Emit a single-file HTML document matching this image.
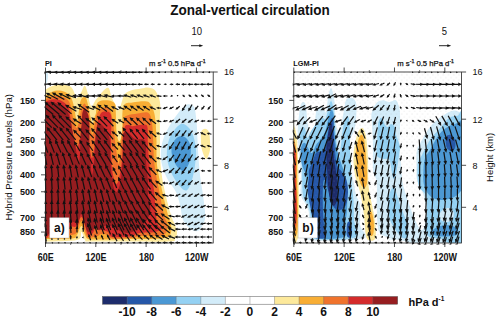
<!DOCTYPE html>
<html><head><meta charset="utf-8"><style>html,body{margin:0;padding:0;background:#fff;overflow:hidden}svg{display:block}</style></head>
<body><svg width="500" height="321" viewBox="0 0 500 321" font-family="'Liberation Sans', sans-serif" fill="#111">
<rect width="500" height="321" fill="#fff"/>
<defs>
<clipPath id="ca"><rect x="45.5" y="72.0" width="167.70" height="171.0"/></clipPath>
<clipPath id="cb"><rect x="293.8" y="72.0" width="167.80" height="171.0"/></clipPath>
<pattern id="stip" patternUnits="userSpaceOnUse" x="292.5" y="69.1" width="5.2" height="5.6"><circle cx="0" cy="0" r="0.42" fill="#999"/><circle cx="5.2" cy="0" r="0.42" fill="#999"/><circle cx="0" cy="5.6" r="0.42" fill="#999"/><circle cx="5.2" cy="5.6" r="0.42" fill="#999"/><circle cx="2.6" cy="2.9" r="0.42" fill="#999"/></pattern>
<clipPath id="cax"><rect x="44.5" y="70.5" width="169.70" height="174.0"/></clipPath>
<clipPath id="cbx"><rect x="292.8" y="70.5" width="169.80" height="174.0"/></clipPath>
</defs>
<g clip-path="url(#ca)">
<path d="M40.00 90.50 C40.67 65.33 42.27 91.13 44.00 90.50 C45.73 89.87 48.27 87.65 50.40 86.70 C52.53 85.75 54.45 85.12 56.80 84.80 C59.15 84.48 62.05 84.37 64.50 84.80 C66.95 85.23 69.80 85.90 71.50 87.40 C73.20 88.90 73.85 92.00 74.70 93.80 C75.55 95.60 75.53 98.42 76.60 98.20 C77.67 97.98 79.92 94.42 81.10 92.50 C82.28 90.58 83.02 87.77 83.70 86.70 C84.38 85.63 84.57 85.13 85.20 86.10 C85.83 87.07 86.80 89.95 87.50 92.50 C88.20 95.05 88.68 99.07 89.40 101.40 C90.12 103.73 90.87 106.57 91.80 106.50 C92.73 106.43 94.00 102.48 95.00 101.00 C96.00 99.52 96.48 99.23 97.80 97.60 C99.12 95.97 101.12 92.80 102.90 91.20 C104.68 89.60 107.03 86.93 108.50 88.00 C109.97 89.07 110.62 94.93 111.70 97.60 C112.78 100.27 113.87 101.85 115.00 104.00 C116.13 106.15 117.35 110.93 118.50 110.50 C119.65 110.07 120.90 104.08 121.90 101.40 C122.90 98.72 123.00 96.20 124.50 94.40 C126.00 92.60 128.13 91.57 130.90 90.60 C133.67 89.63 138.33 89.13 141.10 88.60 C143.87 88.07 145.37 87.28 147.50 87.40 C149.63 87.52 152.18 88.03 153.90 89.30 C155.62 90.57 156.75 92.55 157.80 95.00 C158.85 97.45 159.87 99.83 160.20 104.00 C160.53 108.17 159.83 113.83 159.80 120.00 C159.77 126.17 159.88 133.50 160.00 141.00 C160.12 148.50 159.75 156.83 160.50 165.00 C161.25 173.17 162.75 181.67 164.50 190.00 C166.25 198.33 169.25 209.17 171.00 215.00 C172.75 220.83 174.00 222.00 175.00 225.00 C176.00 228.00 177.00 230.67 177.00 233.00 C177.00 235.33 176.17 237.58 175.00 239.00 C173.83 240.42 177.50 241.08 170.00 241.50 C162.50 241.92 143.33 241.50 130.00 241.50 C116.67 241.50 97.50 241.75 90.00 241.50 C82.50 241.25 86.43 241.58 85.00 240.00 C83.57 238.42 82.73 232.00 81.40 232.00 C80.07 232.00 82.90 238.42 77.00 240.00 C71.10 241.58 52.17 241.25 46.00 241.50 C39.83 241.75 41.00 266.67 40.00 241.50 C39.00 216.33 39.33 115.67 40.00 90.50Z" fill="#fde99b"/>
<path d="M205.00 128.80 C206.28 128.80 208.07 129.97 208.90 132.00 C209.73 134.03 209.82 138.00 210.00 141.00 C210.18 144.00 210.62 147.00 210.00 150.00 C209.38 153.00 207.63 159.00 206.30 159.00 C204.97 159.00 202.88 153.00 202.00 150.00 C201.12 147.00 201.13 144.00 201.00 141.00 C200.87 138.00 200.53 134.03 201.20 132.00 C201.87 129.97 203.72 128.80 205.00 128.80Z" fill="#fde99b"/>
<path d="M40.00 97.60 C40.67 74.03 42.48 98.35 44.00 97.60 C45.52 96.85 46.97 94.27 49.10 93.10 C51.23 91.93 54.23 90.82 56.80 90.60 C59.37 90.38 62.27 90.95 64.50 91.80 C66.73 92.65 68.82 94.00 70.20 95.70 C71.58 97.40 72.05 99.55 72.80 102.00 C73.55 104.45 74.17 107.73 74.70 110.40 C75.23 113.07 75.62 116.23 76.00 118.00 C76.38 119.77 76.67 121.00 77.00 121.00 C77.33 121.00 77.67 119.83 78.00 118.00 C78.33 116.17 78.58 112.83 79.00 110.00 C79.42 107.17 79.75 103.17 80.50 101.00 C81.25 98.83 82.58 97.50 83.50 97.00 C84.42 96.50 85.25 96.67 86.00 98.00 C86.75 99.33 87.42 102.67 88.00 105.00 C88.58 107.33 89.05 109.83 89.50 112.00 C89.95 114.17 90.18 116.00 90.70 118.00 C91.22 120.00 91.95 124.17 92.60 124.00 C93.25 123.83 94.03 118.87 94.60 117.00 C95.17 115.13 95.63 114.97 96.00 112.80 C96.37 110.63 95.85 106.03 96.80 104.00 C97.75 101.97 99.60 101.17 101.70 100.60 C103.80 100.03 107.18 100.03 109.40 100.60 C111.62 101.17 113.93 101.97 115.00 104.00 C116.07 106.03 115.57 108.47 115.80 112.80 C116.03 117.13 116.12 125.80 116.40 130.00 C116.68 134.20 117.02 136.08 117.50 138.00 C117.98 139.92 118.72 141.50 119.30 141.50 C119.88 141.50 120.52 139.92 121.00 138.00 C121.48 136.08 121.80 135.27 122.20 130.00 C122.60 124.73 121.70 110.97 123.40 106.40 C125.10 101.83 128.77 103.45 132.40 102.60 C136.03 101.75 142.22 101.10 145.20 101.30 C148.18 101.50 148.80 101.88 150.30 103.80 C151.80 105.72 153.28 109.27 154.20 112.80 C155.12 116.33 155.42 120.30 155.80 125.00 C156.18 129.70 156.30 134.33 156.50 141.00 C156.70 147.67 156.08 156.83 157.00 165.00 C157.92 173.17 160.17 181.67 162.00 190.00 C163.83 198.33 166.50 209.17 168.00 215.00 C169.50 220.83 170.67 221.67 171.00 225.00 C171.33 228.33 171.83 232.75 170.00 235.00 C168.17 237.25 166.67 237.83 160.00 238.50 C153.33 239.17 138.00 238.83 130.00 239.00 C122.00 239.17 117.33 239.42 112.00 239.50 C106.67 239.58 102.00 239.58 98.00 239.50 C94.00 239.42 90.17 239.75 88.00 239.00 C85.83 238.25 86.10 237.17 85.00 235.00 C83.90 232.83 82.73 226.00 81.40 226.00 C80.07 226.00 78.57 232.92 77.00 235.00 C75.43 237.08 77.50 237.83 72.00 238.50 C66.50 239.17 49.33 238.92 44.00 239.00 C38.67 239.08 40.67 262.57 40.00 239.00 C39.33 215.43 39.33 121.17 40.00 97.60Z" fill="#f8ae35"/>
<path d="M40.00 100.20 C40.67 77.15 42.27 100.73 44.00 100.20 C45.73 99.67 48.27 97.75 50.40 97.00 C52.53 96.25 54.67 95.70 56.80 95.70 C58.93 95.70 61.17 96.05 63.20 97.00 C65.23 97.95 67.62 99.40 69.00 101.40 C70.38 103.40 70.92 106.73 71.50 109.00 C72.08 111.27 72.08 112.83 72.50 115.00 C72.92 117.17 73.33 119.83 74.00 122.00 C74.67 124.17 75.67 128.00 76.50 128.00 C77.33 128.00 78.42 124.00 79.00 122.00 C79.58 120.00 79.67 118.00 80.00 116.00 C80.33 114.00 80.58 111.67 81.00 110.00 C81.42 108.33 81.92 107.08 82.50 106.00 C83.08 104.92 83.88 103.50 84.50 103.50 C85.12 103.50 85.53 104.58 86.20 106.00 C86.87 107.42 87.90 109.33 88.50 112.00 C89.10 114.67 89.38 119.00 89.80 122.00 C90.22 125.00 90.60 127.83 91.00 130.00 C91.40 132.17 91.78 135.00 92.20 135.00 C92.62 135.00 93.03 132.17 93.50 130.00 C93.97 127.83 94.50 124.50 95.00 122.00 C95.50 119.50 95.82 116.97 96.50 115.00 C97.18 113.03 98.02 111.42 99.10 110.20 C100.18 108.98 101.40 108.12 103.00 107.70 C104.60 107.28 107.10 105.78 108.70 107.70 C110.30 109.62 111.55 113.82 112.60 119.20 C113.65 124.58 114.35 134.53 115.00 140.00 C115.65 145.47 116.03 148.67 116.50 152.00 C116.97 155.33 117.47 158.00 117.80 160.00 C118.13 162.00 118.22 164.00 118.50 164.00 C118.78 164.00 119.17 162.33 119.50 160.00 C119.83 157.67 120.17 153.67 120.50 150.00 C120.83 146.33 120.90 143.13 121.50 138.00 C122.10 132.87 123.13 122.97 124.10 119.20 C125.07 115.43 125.07 116.37 127.30 115.40 C129.53 114.43 134.30 113.93 137.50 113.40 C140.70 112.87 144.37 111.87 146.50 112.20 C148.63 112.53 149.33 113.17 150.30 115.40 C151.27 117.63 151.82 121.33 152.30 125.60 C152.78 129.87 152.83 134.43 153.20 141.00 C153.57 147.57 153.53 156.83 154.50 165.00 C155.47 173.17 157.42 181.67 159.00 190.00 C160.58 198.33 162.67 209.50 164.00 215.00 C165.33 220.50 166.67 220.00 167.00 223.00 C167.33 226.00 167.50 230.83 166.00 233.00 C164.50 235.17 161.50 235.58 158.00 236.00 C154.50 236.42 149.67 235.17 145.00 235.50 C140.33 235.83 135.50 237.50 130.00 238.00 C124.50 238.50 115.67 239.00 112.00 238.50 C108.33 238.00 109.83 235.75 108.00 235.00 C106.17 234.25 102.67 233.83 101.00 234.00 C99.33 234.17 99.17 235.50 98.00 236.00 C96.83 236.50 95.67 236.75 94.00 237.00 C92.33 237.25 89.50 238.50 88.00 237.50 C86.50 236.50 86.10 233.75 85.00 231.00 C83.90 228.25 82.73 221.00 81.40 221.00 C80.07 221.00 78.57 228.67 77.00 231.00 C75.43 233.33 77.50 233.75 72.00 235.00 C66.50 236.25 49.33 237.92 44.00 238.50 C38.67 239.08 40.67 261.55 40.00 238.50 C39.33 215.45 39.33 123.25 40.00 100.20Z" fill="#f0732c"/>
<path d="M40.00 102.00 C40.67 79.40 42.05 102.42 44.00 102.00 C45.95 101.58 49.37 99.92 51.70 99.50 C54.03 99.08 55.87 98.97 58.00 99.50 C60.13 100.03 62.67 101.20 64.50 102.70 C66.33 104.20 68.08 106.45 69.00 108.50 C69.92 110.55 69.58 112.25 70.00 115.00 C70.42 117.75 71.00 121.67 71.50 125.00 C72.00 128.33 72.33 132.00 73.00 135.00 C73.67 138.00 74.83 140.72 75.50 143.00 C76.17 145.28 76.42 148.70 77.00 148.70 C77.58 148.70 78.32 145.28 79.00 143.00 C79.68 140.72 80.60 138.00 81.10 135.00 C81.60 132.00 81.68 128.83 82.00 125.00 C82.32 121.17 82.58 114.83 83.00 112.00 C83.42 109.17 83.92 108.00 84.50 108.00 C85.08 108.00 86.00 109.17 86.50 112.00 C87.00 114.83 87.17 120.67 87.50 125.00 C87.83 129.33 88.08 133.83 88.50 138.00 C88.92 142.17 89.42 146.67 90.00 150.00 C90.58 153.33 91.33 158.00 92.00 158.00 C92.67 158.00 93.47 153.33 94.00 150.00 C94.53 146.67 94.70 142.07 95.20 138.00 C95.70 133.93 96.13 129.60 97.00 125.60 C97.87 121.60 98.98 116.35 100.40 114.00 C101.82 111.65 103.80 111.50 105.50 111.50 C107.20 111.50 109.63 111.65 110.60 114.00 C111.57 116.35 111.23 121.10 111.30 125.60 C111.37 130.10 110.97 135.27 111.00 141.00 C111.03 146.73 111.17 154.33 111.50 160.00 C111.83 165.67 112.17 171.00 113.00 175.00 C113.83 179.00 115.42 183.83 116.50 184.00 C117.58 184.17 118.58 180.00 119.50 176.00 C120.42 172.00 121.33 165.83 122.00 160.00 C122.67 154.17 123.05 146.52 123.50 141.00 C123.95 135.48 123.85 129.57 124.70 126.90 C125.55 124.23 127.32 125.12 128.60 125.00 C129.88 124.88 130.70 126.20 132.40 126.20 C134.10 126.20 136.45 125.20 138.80 125.00 C141.15 124.80 145.00 123.83 146.50 125.00 C148.00 126.17 147.58 129.33 147.80 132.00 C148.02 134.67 147.60 136.33 147.80 141.00 C148.00 145.67 148.47 154.33 149.00 160.00 C149.53 165.67 150.17 170.00 151.00 175.00 C151.83 180.00 153.00 182.17 154.00 190.00 C155.00 197.83 155.67 215.67 157.00 222.00 C158.33 228.33 162.33 226.33 162.00 228.00 C161.67 229.67 158.67 231.17 155.00 232.00 C151.33 232.83 144.17 232.25 140.00 233.00 C135.83 233.75 134.67 235.83 130.00 236.50 C125.33 237.17 115.67 237.75 112.00 237.00 C108.33 236.25 109.72 233.17 108.00 232.00 C106.28 230.83 103.37 230.33 101.70 230.00 C100.03 229.67 98.98 230.67 98.00 230.00 C97.02 229.33 96.63 225.50 95.80 226.00 C94.97 226.50 94.30 231.50 93.00 233.00 C91.70 234.50 89.33 236.33 88.00 235.00 C86.67 233.67 86.10 228.00 85.00 225.00 C83.90 222.00 82.73 217.00 81.40 217.00 C80.07 217.00 78.12 223.33 77.00 225.00 C75.88 226.67 75.93 226.67 74.70 227.00 C73.47 227.33 73.72 225.67 69.60 227.00 C65.48 228.33 53.83 233.23 50.00 235.00 C46.17 236.77 48.27 237.17 46.60 237.60 C44.93 238.03 41.10 260.20 40.00 237.60 C38.90 215.00 39.33 124.60 40.00 102.00Z" fill="#d42b2b"/>
<path d="M40.00 104.00 C40.67 82.05 42.27 104.33 44.00 104.00 C45.73 103.67 48.27 102.10 50.40 102.00 C52.53 101.90 54.67 102.53 56.80 103.40 C58.93 104.27 61.58 106.02 63.20 107.20 C64.82 108.38 65.57 109.20 66.50 110.50 C67.43 111.80 68.07 112.95 68.80 115.00 C69.53 117.05 70.13 119.37 70.90 122.80 C71.67 126.23 72.77 132.57 73.40 135.60 C74.03 138.63 74.18 138.10 74.70 141.00 C75.22 143.90 75.85 149.00 76.50 153.00 C77.15 157.00 78.02 165.00 78.60 165.00 C79.18 165.00 79.68 157.90 80.00 153.00 C80.32 148.10 80.25 140.27 80.50 135.60 C80.75 130.93 81.18 128.77 81.50 125.00 C81.82 121.23 81.90 115.58 82.40 113.00 C82.90 110.42 83.73 109.67 84.50 109.50 C85.27 109.33 86.28 110.58 87.00 112.00 C87.72 113.42 88.40 115.00 88.80 118.00 C89.20 121.00 89.28 124.50 89.40 130.00 C89.52 135.50 89.32 145.67 89.50 151.00 C89.68 156.33 90.08 158.00 90.50 162.00 C90.92 166.00 91.42 175.00 92.00 175.00 C92.58 175.00 93.42 167.67 94.00 162.00 C94.58 156.33 95.07 146.67 95.50 141.00 C95.93 135.33 96.02 131.00 96.60 128.00 C97.18 125.00 97.93 123.33 99.00 123.00 C100.07 122.67 101.67 124.50 103.00 126.00 C104.33 127.50 105.83 129.50 107.00 132.00 C108.17 134.50 109.42 136.33 110.00 141.00 C110.58 145.67 110.17 153.50 110.50 160.00 C110.83 166.50 111.08 174.67 112.00 180.00 C112.92 185.33 114.58 191.67 116.00 192.00 C117.42 192.33 119.42 187.33 120.50 182.00 C121.58 176.67 122.12 166.83 122.50 160.00 C122.88 153.17 122.63 145.50 122.80 141.00 C122.97 136.50 122.53 134.33 123.50 133.00 C124.47 131.67 126.68 132.00 128.60 133.00 C130.52 134.00 132.23 137.67 135.00 139.00 C137.77 140.33 143.37 137.50 145.20 141.00 C147.03 144.50 145.53 153.17 146.00 160.00 C146.47 166.83 147.67 176.17 148.00 182.00 C148.33 187.83 147.58 190.50 148.00 195.00 C148.42 199.50 150.50 205.17 150.50 209.00 C150.50 212.83 149.17 215.42 148.00 218.00 C146.83 220.58 145.50 222.50 143.50 224.50 C141.50 226.50 138.58 228.58 136.00 230.00 C133.42 231.42 130.67 232.83 128.00 233.00 C125.33 233.17 122.33 232.00 120.00 231.00 C117.67 230.00 116.67 227.83 114.00 227.00 C111.33 226.17 106.58 225.50 104.00 226.00 C101.42 226.50 99.87 230.83 98.50 230.00 C97.13 229.17 96.72 221.00 95.80 221.00 C94.88 221.00 94.30 228.17 93.00 230.00 C91.70 231.83 89.33 232.83 88.00 232.00 C86.67 231.17 86.10 228.17 85.00 225.00 C83.90 221.83 82.57 213.00 81.40 213.00 C80.23 213.00 78.90 223.33 78.00 225.00 C77.10 226.67 77.33 223.67 76.00 223.00 C74.67 222.33 71.17 221.17 70.00 221.00 C68.83 220.83 72.33 220.00 69.00 222.00 C65.67 224.00 53.73 230.72 50.00 233.00 C46.27 235.28 48.27 235.25 46.60 235.70 C44.93 236.15 41.10 257.65 40.00 235.70 C38.90 213.75 39.33 125.95 40.00 104.00Z" fill="#961d20"/>
<path d="M185.80 105.30 C187.77 103.88 188.55 104.05 190.00 104.50 C191.45 104.95 193.37 104.58 194.50 108.00 C195.63 111.42 196.22 118.00 196.80 125.00 C197.38 132.00 197.47 141.67 198.00 150.00 C198.53 158.33 199.17 167.50 200.00 175.00 C200.83 182.50 202.17 188.83 203.00 195.00 C203.83 201.17 204.75 207.67 205.00 212.00 C205.25 216.33 205.57 217.90 204.50 221.00 C203.43 224.10 200.85 229.22 198.60 230.60 C196.35 231.98 193.55 231.00 191.00 229.30 C188.45 227.60 185.13 224.45 183.30 220.40 C181.47 216.35 181.22 209.73 180.00 205.00 C178.78 200.27 178.00 196.17 176.00 192.00 C174.00 187.83 170.33 184.50 168.00 180.00 C165.67 175.50 163.17 170.00 162.00 165.00 C160.83 160.00 160.67 154.67 161.00 150.00 C161.33 145.33 162.50 141.17 164.00 137.00 C165.50 132.83 167.63 129.00 170.00 125.00 C172.37 121.00 175.57 116.28 178.20 113.00 C180.83 109.72 183.83 106.72 185.80 105.30Z" fill="#d3ecf9"/>
<path d="M44.00 70.00 C44.58 68.00 46.87 70.67 47.50 72.00 C48.13 73.33 47.97 76.17 47.80 78.00 C47.63 79.83 47.13 82.00 46.50 83.00 C45.87 84.00 44.42 86.17 44.00 84.00 C43.58 81.83 43.42 72.00 44.00 70.00Z" fill="#d3ecf9"/>
<path d="M181.00 124.00 C183.50 123.17 186.00 125.17 188.00 127.00 C190.00 128.83 191.67 131.17 193.00 135.00 C194.33 138.83 195.67 145.00 196.00 150.00 C196.33 155.00 195.67 160.00 195.00 165.00 C194.33 170.00 193.17 176.00 192.00 180.00 C190.83 184.00 189.33 187.33 188.00 189.00 C186.67 190.67 185.67 190.83 184.00 190.00 C182.33 189.17 180.17 187.00 178.00 184.00 C175.83 181.00 172.83 176.33 171.00 172.00 C169.17 167.67 167.50 162.83 167.00 158.00 C166.50 153.17 167.00 147.33 168.00 143.00 C169.00 138.67 170.83 135.17 173.00 132.00 C175.17 128.83 178.50 124.83 181.00 124.00Z" fill="#94d1f3"/>
<path d="M181.00 136.00 C183.17 135.67 185.40 137.17 187.00 139.00 C188.60 140.83 190.10 143.50 190.60 147.00 C191.10 150.50 190.77 156.33 190.00 160.00 C189.23 163.67 187.20 167.17 186.00 169.00 C184.80 170.83 184.47 171.67 182.80 171.00 C181.13 170.33 177.88 168.17 176.00 165.00 C174.12 161.83 171.83 156.00 171.50 152.00 C171.17 148.00 172.42 143.67 174.00 141.00 C175.58 138.33 178.83 136.33 181.00 136.00Z" fill="#4b98d4"/>
</g>
<g clip-path="url(#cb)">
<path d="M303.50 238.50 C294.67 234.75 308.58 221.58 309.00 216.00 C309.42 210.42 307.33 208.50 306.00 205.00 C304.67 201.50 301.83 200.00 301.00 195.00 C300.17 190.00 301.23 180.83 301.00 175.00 C300.77 169.17 300.10 165.83 299.60 160.00 C299.10 154.17 298.27 145.83 298.00 140.00 C297.73 134.17 297.58 130.67 298.00 125.00 C298.42 119.33 299.57 109.83 300.50 106.00 C301.43 102.17 302.68 102.00 303.60 102.00 C304.52 102.00 305.43 103.33 306.00 106.00 C306.57 108.67 306.58 114.33 307.00 118.00 C307.42 121.67 307.67 124.83 308.50 128.00 C309.33 131.17 310.92 137.50 312.00 137.00 C313.08 136.50 314.33 129.17 315.00 125.00 C315.67 120.83 315.33 115.00 316.00 112.00 C316.67 109.00 317.83 107.67 319.00 107.00 C320.17 106.33 321.83 107.17 323.00 108.00 C324.17 108.83 325.17 113.67 326.00 112.00 C326.83 110.33 327.17 102.00 328.00 98.00 C328.83 94.00 330.00 88.00 331.00 88.00 C332.00 88.00 333.33 94.33 334.00 98.00 C334.67 101.67 334.67 105.67 335.00 110.00 C335.33 114.33 335.50 120.67 336.00 124.00 C336.50 127.33 337.17 129.67 338.00 130.00 C338.83 130.33 340.00 129.33 341.00 126.00 C342.00 122.67 343.17 114.33 344.00 110.00 C344.83 105.67 345.00 102.05 346.00 100.00 C347.00 97.95 348.67 97.87 350.00 97.70 C351.33 97.53 352.93 97.78 354.00 99.00 C355.07 100.22 356.07 101.50 356.40 105.00 C356.73 108.50 356.40 115.67 356.00 120.00 C355.60 124.33 355.00 127.67 354.00 131.00 C353.00 134.33 350.83 136.83 350.00 140.00 C349.17 143.17 349.00 145.83 349.00 150.00 C349.00 154.17 349.22 159.67 350.00 165.00 C350.78 170.33 352.70 177.00 353.70 182.00 C354.70 187.00 354.95 191.17 356.00 195.00 C357.05 198.83 359.33 200.00 360.00 205.00 C360.67 210.00 359.67 219.42 360.00 225.00 C360.33 230.58 371.42 236.25 362.00 238.50 C352.58 240.75 312.33 242.25 303.50 238.50Z" fill="#d3ecf9"/>
<path d="M371.60 113.00 C372.38 109.28 374.80 104.83 376.70 102.70 C378.60 100.57 380.87 100.32 383.00 100.20 C385.13 100.08 387.33 102.00 389.50 102.00 C391.67 102.00 394.50 99.65 396.00 100.20 C397.50 100.75 397.83 103.17 398.50 105.30 C399.17 107.43 399.75 108.88 400.00 113.00 C400.25 117.12 400.08 124.50 400.00 130.00 C399.92 135.50 399.33 140.17 399.50 146.00 C399.67 151.83 400.50 159.00 401.00 165.00 C401.50 171.00 401.67 177.00 402.50 182.00 C403.33 187.00 404.75 190.83 406.00 195.00 C407.25 199.17 408.33 202.50 410.00 207.00 C411.67 211.50 414.17 218.17 416.00 222.00 C417.83 225.83 419.58 229.33 421.00 230.00 C422.42 230.67 423.67 228.50 424.50 226.00 C425.33 223.50 425.80 218.50 426.00 215.00 C426.20 211.50 426.37 209.17 425.70 205.00 C425.03 200.83 423.45 194.17 422.00 190.00 C420.55 185.83 417.92 184.17 417.00 180.00 C416.08 175.83 416.50 170.00 416.50 165.00 C416.50 160.00 416.08 154.17 417.00 150.00 C417.92 145.83 419.50 144.23 422.00 140.00 C424.50 135.77 428.20 128.87 432.00 124.60 C435.80 120.33 441.17 116.73 444.80 114.40 C448.43 112.07 451.23 111.00 453.80 110.60 C456.37 110.20 458.17 111.77 460.20 112.00 C462.23 112.23 465.03 90.83 466.00 112.00 C466.97 133.17 477.83 217.75 466.00 239.00 C454.17 260.25 407.53 239.67 395.00 239.50 C382.47 239.33 392.97 238.75 390.80 238.00 C388.63 237.25 384.13 236.67 382.00 235.00 C379.87 233.33 378.88 233.00 378.00 228.00 C377.12 223.00 376.92 212.67 376.70 205.00 C376.48 197.33 377.32 187.83 376.70 182.00 C376.08 176.17 373.62 176.00 373.00 170.00 C372.38 164.00 373.17 153.50 373.00 146.00 C372.83 138.50 372.23 130.50 372.00 125.00 C371.77 119.50 370.82 116.72 371.60 113.00Z" fill="#d3ecf9"/>
<path d="M310.00 237.50 C302.58 233.92 310.83 221.42 310.50 216.00 C310.17 210.58 309.25 208.50 308.00 205.00 C306.75 201.50 304.00 200.83 303.00 195.00 C302.00 189.17 302.37 177.50 302.00 170.00 C301.63 162.50 301.13 155.50 300.80 150.00 C300.47 144.50 299.80 140.83 300.00 137.00 C300.20 133.17 301.17 128.33 302.00 127.00 C302.83 125.67 304.08 127.17 305.00 129.00 C305.92 130.83 306.50 137.67 307.50 138.00 C308.50 138.33 309.58 133.33 311.00 131.00 C312.42 128.67 314.58 126.00 316.00 124.00 C317.42 122.00 318.33 120.00 319.50 119.00 C320.67 118.00 322.00 118.00 323.00 118.00 C324.00 118.00 324.67 120.33 325.50 119.00 C326.33 117.67 327.12 113.00 328.00 110.00 C328.88 107.00 329.97 101.67 330.80 101.00 C331.63 100.33 332.38 103.17 333.00 106.00 C333.62 108.83 334.00 113.17 334.50 118.00 C335.00 122.83 335.33 128.00 336.00 135.00 C336.67 142.00 337.67 158.33 338.50 160.00 C339.33 161.67 340.25 150.33 341.00 145.00 C341.75 139.67 342.33 132.17 343.00 128.00 C343.67 123.83 344.33 121.83 345.00 120.00 C345.67 118.17 346.33 117.17 347.00 117.00 C347.67 116.83 348.50 116.33 349.00 119.00 C349.50 121.67 349.83 127.83 350.00 133.00 C350.17 138.17 349.83 144.67 350.00 150.00 C350.17 155.33 350.75 159.67 351.00 165.00 C351.25 170.33 351.08 176.17 351.50 182.00 C351.92 187.83 353.08 193.67 353.50 200.00 C353.92 206.33 353.75 213.75 354.00 220.00 C354.25 226.25 362.33 234.58 355.00 237.50 C347.67 240.42 317.42 241.08 310.00 237.50Z" fill="#94d1f3"/>
<path d="M377.00 146.00 C377.17 140.83 377.40 129.67 378.00 125.00 C378.60 120.33 379.77 118.83 380.60 118.00 C381.43 117.17 382.27 118.83 383.00 120.00 C383.73 121.17 384.17 123.83 385.00 125.00 C385.83 126.17 387.00 127.17 388.00 127.00 C389.00 126.83 389.90 124.00 391.00 124.00 C392.10 124.00 393.77 125.17 394.60 127.00 C395.43 128.83 395.13 131.83 396.00 135.00 C396.87 138.17 399.30 142.67 399.80 146.00 C400.30 149.33 399.63 150.33 399.00 155.00 C398.37 159.67 397.00 170.17 396.00 174.00 C395.00 177.83 394.08 180.33 393.00 178.00 C391.92 175.67 391.00 163.17 389.50 160.00 C388.00 156.83 386.08 159.67 384.00 159.00 C381.92 158.33 378.17 158.17 377.00 156.00 C375.83 153.83 376.83 151.17 377.00 146.00Z" fill="#94d1f3"/>
<path d="M393.40 187.00 C394.73 187.00 395.90 192.00 397.00 195.00 C398.10 198.00 398.83 201.67 400.00 205.00 C401.17 208.33 402.72 211.67 404.00 215.00 C405.28 218.33 407.03 221.50 407.70 225.00 C408.37 228.50 408.78 233.83 408.00 236.00 C407.22 238.17 404.83 238.67 403.00 238.00 C401.17 237.33 399.17 235.00 397.00 232.00 C394.83 229.00 391.50 224.50 390.00 220.00 C388.50 215.50 388.17 209.17 388.00 205.00 C387.83 200.83 388.10 198.00 389.00 195.00 C389.90 192.00 392.07 187.00 393.40 187.00Z" fill="#94d1f3"/>
<path d="M422.00 155.00 C424.00 151.33 427.05 144.42 430.00 140.00 C432.95 135.58 436.58 132.13 439.70 128.50 C442.82 124.87 445.72 120.33 448.70 118.20 C451.68 116.07 454.72 116.07 457.60 115.70 C460.48 115.33 464.60 95.62 466.00 116.00 C467.40 136.38 470.33 217.58 466.00 238.00 C461.67 258.42 446.33 238.83 440.00 238.50 C433.67 238.17 430.33 238.25 428.00 236.00 C425.67 233.75 426.17 229.33 426.00 225.00 C425.83 220.67 427.07 215.00 427.00 210.00 C426.93 205.00 426.93 198.83 425.60 195.00 C424.27 191.17 420.35 190.33 419.00 187.00 C417.65 183.67 417.67 179.17 417.50 175.00 C417.33 170.83 417.25 165.33 418.00 162.00 C418.75 158.67 420.00 158.67 422.00 155.00Z" fill="#94d1f3"/>
<path d="M439.70 214.00 C440.20 212.17 442.28 209.92 444.00 209.00 C445.72 208.08 448.37 207.83 450.00 208.50 C451.63 209.17 453.47 211.08 453.80 213.00 C454.13 214.92 453.30 218.50 452.00 220.00 C450.70 221.50 447.83 222.00 446.00 222.00 C444.17 222.00 442.05 221.33 441.00 220.00 C439.95 218.67 439.20 215.83 439.70 214.00Z" fill="#d3ecf9"/>
<path d="M313.00 237.00 C307.67 233.33 312.67 221.17 312.00 215.00 C311.33 208.83 309.83 206.17 309.00 200.00 C308.17 193.83 308.17 183.83 307.00 178.00 C305.83 172.17 303.08 169.33 302.00 165.00 C300.92 160.67 300.50 155.33 300.50 152.00 C300.50 148.67 301.25 146.50 302.00 145.00 C302.75 143.50 304.00 142.50 305.00 143.00 C306.00 143.50 306.83 146.33 308.00 148.00 C309.17 149.67 310.67 153.50 312.00 153.00 C313.33 152.50 314.67 147.17 316.00 145.00 C317.33 142.83 318.50 142.17 320.00 140.00 C321.50 137.83 323.67 135.33 325.00 132.00 C326.33 128.67 327.00 123.67 328.00 120.00 C329.00 116.33 330.08 111.00 331.00 110.00 C331.92 109.00 332.92 110.67 333.50 114.00 C334.08 117.33 334.08 124.83 334.50 130.00 C334.92 135.17 335.08 140.00 336.00 145.00 C336.92 150.00 338.67 155.50 340.00 160.00 C341.33 164.50 342.83 167.00 344.00 172.00 C345.17 177.00 346.50 183.67 347.00 190.00 C347.50 196.33 347.33 204.17 347.00 210.00 C346.67 215.83 345.50 220.50 345.00 225.00 C344.50 229.50 349.33 235.00 344.00 237.00 C338.67 239.00 318.33 240.67 313.00 237.00Z" fill="#4b98d4"/>
<path d="M430.00 150.00 C432.17 146.33 435.33 139.67 438.00 136.00 C440.67 132.33 443.17 130.00 446.00 128.00 C448.83 126.00 451.67 124.67 455.00 124.00 C458.33 123.33 464.17 114.67 466.00 124.00 C467.83 133.33 467.00 168.67 466.00 180.00 C465.00 191.33 462.33 189.00 460.00 192.00 C457.67 195.00 455.33 196.67 452.00 198.00 C448.67 199.33 443.67 200.33 440.00 200.00 C436.33 199.67 432.67 198.50 430.00 196.00 C427.33 193.50 425.08 189.33 424.00 185.00 C422.92 180.67 423.33 174.50 423.50 170.00 C423.67 165.50 423.92 161.33 425.00 158.00 C426.08 154.67 427.83 153.67 430.00 150.00Z" fill="#4b98d4"/>
<path d="M432.00 231.00 C432.83 229.42 437.00 226.92 440.00 226.00 C443.00 225.08 447.07 225.00 450.00 225.50 C452.93 226.00 456.60 227.42 457.60 229.00 C458.60 230.58 458.10 233.75 456.00 235.00 C453.90 236.25 448.50 236.42 445.00 236.50 C441.50 236.58 437.17 236.42 435.00 235.50 C432.83 234.58 431.17 232.58 432.00 231.00Z" fill="#4b98d4"/>
<path d="M316.00 238.00 C314.32 237.17 315.43 237.67 314.60 233.00 C313.77 228.33 312.18 217.17 311.00 210.00 C309.82 202.83 307.83 195.33 307.50 190.00 C307.17 184.67 308.75 181.33 309.00 178.00 C309.25 174.67 308.50 172.50 309.00 170.00 C309.50 167.50 310.83 165.83 312.00 163.00 C313.17 160.17 314.33 155.00 316.00 153.00 C317.67 151.00 320.33 152.33 322.00 151.00 C323.67 149.67 325.00 148.17 326.00 145.00 C327.00 141.83 327.25 136.17 328.00 132.00 C328.75 127.83 329.63 122.17 330.50 120.00 C331.37 117.83 332.62 116.50 333.20 119.00 C333.78 121.50 333.70 129.83 334.00 135.00 C334.30 140.17 334.50 145.00 335.00 150.00 C335.50 155.00 335.83 161.33 337.00 165.00 C338.17 168.67 340.42 169.50 342.00 172.00 C343.58 174.50 345.50 176.67 346.50 180.00 C347.50 183.33 348.08 187.83 348.00 192.00 C347.92 196.17 347.33 202.00 346.00 205.00 C344.67 208.00 342.17 209.83 340.00 210.00 C337.83 210.17 335.00 209.33 333.00 206.00 C331.00 202.67 329.33 194.33 328.00 190.00 C326.67 185.67 325.83 180.83 325.00 180.00 C324.17 179.17 323.33 180.00 323.00 185.00 C322.67 190.00 322.72 202.00 323.00 210.00 C323.28 218.00 324.42 228.33 324.70 233.00 C324.98 237.67 326.15 237.17 324.70 238.00 C323.25 238.83 317.68 238.83 316.00 238.00Z" fill="#2557a8"/>
<path d="M347.00 224.00 C347.50 221.67 349.17 221.00 350.00 222.00 C350.83 223.00 351.83 227.50 352.00 230.00 C352.17 232.50 351.83 236.00 351.00 237.00 C350.17 238.00 347.67 238.17 347.00 236.00 C346.33 233.83 346.50 226.33 347.00 224.00Z" fill="#2557a8"/>
<path d="M446.00 137.00 C446.75 135.00 449.50 134.50 451.00 135.00 C452.50 135.50 454.33 137.83 455.00 140.00 C455.67 142.17 455.67 146.17 455.00 148.00 C454.33 149.83 452.42 151.17 451.00 151.00 C449.58 150.83 447.33 149.33 446.50 147.00 C445.67 144.67 445.25 139.00 446.00 137.00Z" fill="#2557a8"/>
<path d="M329.80 124.00 C330.35 122.67 331.35 122.17 331.80 124.00 C332.25 125.83 332.30 130.67 332.50 135.00 C332.70 139.33 332.58 145.00 333.00 150.00 C333.42 155.00 334.33 160.00 335.00 165.00 C335.67 170.00 336.58 175.00 337.00 180.00 C337.42 185.00 337.83 190.83 337.50 195.00 C337.17 199.17 336.08 203.67 335.00 205.00 C333.92 206.33 332.08 205.50 331.00 203.00 C329.92 200.50 329.08 194.67 328.50 190.00 C327.92 185.33 327.83 180.00 327.50 175.00 C327.17 170.00 326.67 165.00 326.50 160.00 C326.33 155.00 326.17 149.67 326.50 145.00 C326.83 140.33 327.95 135.50 328.50 132.00 C329.05 128.50 329.25 125.33 329.80 124.00Z" fill="#1d2c6c"/>
<path d="M361.00 128.50 C362.17 127.67 363.08 128.08 364.00 130.00 C364.92 131.92 365.83 135.00 366.50 140.00 C367.17 145.00 367.67 152.50 368.00 160.00 C368.33 167.50 368.00 178.33 368.50 185.00 C369.00 191.67 370.08 195.00 371.00 200.00 C371.92 205.00 373.20 210.00 374.00 215.00 C374.80 220.00 375.63 226.00 375.80 230.00 C375.97 234.00 375.97 237.25 375.00 239.00 C374.03 240.75 371.50 241.00 370.00 240.50 C368.50 240.00 367.00 240.25 366.00 236.00 C365.00 231.75 364.58 220.17 364.00 215.00 C363.42 209.83 363.17 208.83 362.50 205.00 C361.83 201.17 361.25 197.00 360.00 192.00 C358.75 187.00 356.08 181.17 355.00 175.00 C353.92 168.83 353.17 161.67 353.50 155.00 C353.83 148.33 355.75 139.42 357.00 135.00 C358.25 130.58 359.83 129.33 361.00 128.50Z" fill="#fde99b"/>
<path d="M290.00 126.00 C290.83 107.42 293.83 126.17 295.00 128.50 C296.17 130.83 296.50 134.75 297.00 140.00 C297.50 145.25 297.67 150.00 298.00 160.00 C298.33 170.00 298.75 190.00 299.00 200.00 C299.25 210.00 299.67 213.67 299.50 220.00 C299.33 226.33 299.58 234.67 298.00 238.00 C296.42 241.33 291.33 258.67 290.00 240.00 C288.67 221.33 289.17 144.58 290.00 126.00Z" fill="#fde99b"/>
<path d="M360.00 136.00 C361.25 133.83 362.58 134.67 363.50 137.00 C364.42 139.33 364.92 144.50 365.50 150.00 C366.08 155.50 366.75 164.50 367.00 170.00 C367.25 175.50 367.50 180.00 367.00 183.00 C366.50 186.00 365.17 188.17 364.00 188.00 C362.83 187.83 361.17 185.67 360.00 182.00 C358.83 178.33 357.67 171.33 357.00 166.00 C356.33 160.67 355.50 155.00 356.00 150.00 C356.50 145.00 358.75 138.17 360.00 136.00Z" fill="#f8ae35"/>
<path d="M370.00 212.00 C370.62 210.83 371.37 211.33 372.00 213.00 C372.63 214.67 373.55 218.67 373.80 222.00 C374.05 225.33 373.97 230.67 373.50 233.00 C373.03 235.33 371.83 236.50 371.00 236.00 C370.17 235.50 368.95 232.67 368.50 230.00 C368.05 227.33 368.05 223.00 368.30 220.00 C368.55 217.00 369.38 213.17 370.00 212.00Z" fill="#f8ae35"/>
<path d="M290.00 135.00 C291.08 120.50 295.33 143.33 296.50 150.00 C297.67 156.67 296.78 166.67 297.00 175.00 C297.22 183.33 297.63 191.67 297.80 200.00 C297.97 208.33 298.30 219.00 298.00 225.00 C297.70 231.00 297.33 234.00 296.00 236.00 C294.67 238.00 291.00 253.83 290.00 237.00 C289.00 220.17 288.92 149.50 290.00 135.00Z" fill="#f8ae35"/>
<path d="M290.00 140.00 C290.97 126.00 294.77 144.17 295.80 150.00 C296.83 155.83 296.03 166.67 296.20 175.00 C296.37 183.33 296.67 192.50 296.80 200.00 C296.93 207.50 297.38 214.50 297.00 220.00 C296.62 225.50 295.67 230.67 294.50 233.00 C293.33 235.33 290.75 249.50 290.00 234.00 C289.25 218.50 289.03 154.00 290.00 140.00Z" fill="#f0732c"/>
<path d="M290.00 145.00 C290.87 132.17 294.30 147.00 295.20 152.00 C296.10 157.00 295.22 167.83 295.40 175.00 C295.58 182.17 296.12 188.33 296.30 195.00 C296.48 201.67 296.80 209.50 296.50 215.00 C296.20 220.50 295.58 225.67 294.50 228.00 C293.42 230.33 290.75 242.83 290.00 229.00 C289.25 215.17 289.13 157.83 290.00 145.00Z" fill="#d42b2b"/>
<path d="M290.00 160.00 C290.75 151.33 293.67 163.83 294.50 168.00 C295.33 172.17 294.88 178.83 295.00 185.00 C295.12 191.17 295.28 199.50 295.20 205.00 C295.12 210.50 295.37 215.50 294.50 218.00 C293.63 220.50 290.75 229.67 290.00 220.00 C289.25 210.33 289.25 168.67 290.00 160.00Z" fill="#961d20"/>
</g>
<rect x="293.8" y="72.0" width="167.80" height="171.0" fill="url(#stip)" opacity="0.6"/>
<g clip-path="url(#cax)">
<path d="M50.00 71.18L44.13 72.64" stroke="#111" stroke-width="1.2"/><path d="M41.00 73.42L44.19 70.82L45.04 74.22Z" fill="#111"/>
<path d="M50.00 83.96L44.16 84.40" stroke="#111" stroke-width="1.2"/><path d="M41.00 84.64L44.52 82.65L44.79 86.08Z" fill="#111"/>
<path d="M51.20 98.40L42.93 94.92" stroke="#111" stroke-width="1.2"/><path d="M39.80 93.60L44.10 93.42L42.68 96.80Z" fill="#111"/>
<path d="M53.24 114.50L40.36 103.69" stroke="#111" stroke-width="1.2"/><path d="M37.76 101.50L41.92 102.60L39.57 105.41Z" fill="#111"/>
<path d="M51.74 127.60L41.61 117.05" stroke="#111" stroke-width="1.2"/><path d="M39.26 114.60L43.28 116.14L40.64 118.68Z" fill="#111"/>
<path d="M50.61 140.10L42.49 129.77" stroke="#111" stroke-width="1.2"/><path d="M40.39 127.10L44.24 129.03L41.36 131.30Z" fill="#111"/>
<path d="M47.77 152.60L44.35 142.81" stroke="#111" stroke-width="1.2"/><path d="M43.23 139.60L46.25 142.68L42.79 143.89Z" fill="#111"/>
<path d="M46.78 164.90L44.88 155.24" stroke="#111" stroke-width="1.2"/><path d="M44.22 151.90L46.77 155.37L43.18 156.08Z" fill="#111"/>
<path d="M45.78 177.30L45.37 167.70" stroke="#111" stroke-width="1.2"/><path d="M45.22 164.30L47.22 168.12L43.56 168.28Z" fill="#111"/>
<path d="M45.64 189.50L45.43 179.90" stroke="#111" stroke-width="1.2"/><path d="M45.36 176.50L47.28 180.36L43.61 180.44Z" fill="#111"/>
<path d="M45.51 201.80L45.49 192.20" stroke="#111" stroke-width="1.2"/><path d="M45.49 188.80L47.33 192.70L43.66 192.70Z" fill="#111"/>
<path d="M45.51 213.10L45.49 203.50" stroke="#111" stroke-width="1.2"/><path d="M45.49 200.10L47.33 204.00L43.66 204.00Z" fill="#111"/>
<path d="M45.53 222.70L45.49 213.10" stroke="#111" stroke-width="1.2"/><path d="M45.47 209.70L47.32 213.59L43.66 213.61Z" fill="#111"/>
<path d="M46.15 230.20L45.19 220.58" stroke="#111" stroke-width="1.2"/><path d="M44.85 217.20L47.06 220.90L43.41 221.26Z" fill="#111"/>
<path d="M46.61 235.70L44.96 226.05" stroke="#111" stroke-width="1.2"/><path d="M44.39 222.70L46.85 226.24L43.24 226.85Z" fill="#111"/>
<path d="M46.36 241.70L45.23 235.54" stroke="#111" stroke-width="1.2"/><path d="M44.64 232.30L47.08 235.71L43.57 236.35Z" fill="#111"/>
<path d="M46.17 243.21L45.89 242.95" stroke="#111" stroke-width="1.2"/><path d="M44.83 241.99L46.87 242.62L45.64 243.96Z" fill="#111"/>
<path d="M56.29 72.30L50.45 72.30" stroke="#111" stroke-width="1.2"/><path d="M47.29 72.30L50.95 70.58L50.95 74.02Z" fill="#111"/>
<path d="M56.41 84.55L50.38 84.23" stroke="#111" stroke-width="1.2"/><path d="M47.17 84.05L50.98 82.51L50.79 86.00Z" fill="#111"/>
<path d="M57.96 99.34L48.61 94.27" stroke="#111" stroke-width="1.2"/><path d="M45.62 92.66L49.92 92.90L48.17 96.12Z" fill="#111"/>
<path d="M59.43 114.50L46.74 103.70" stroke="#111" stroke-width="1.2"/><path d="M44.15 101.50L48.31 102.63L45.93 105.42Z" fill="#111"/>
<path d="M58.03 127.60L47.90 117.05" stroke="#111" stroke-width="1.2"/><path d="M45.55 114.60L49.57 116.14L46.93 118.68Z" fill="#111"/>
<path d="M56.92 140.10L48.77 129.77" stroke="#111" stroke-width="1.2"/><path d="M46.66 127.10L50.52 129.03L47.64 131.30Z" fill="#111"/>
<path d="M54.37 152.60L50.46 142.76" stroke="#111" stroke-width="1.2"/><path d="M49.21 139.60L52.35 142.55L48.94 143.90Z" fill="#111"/>
<path d="M53.33 164.90L51.03 155.21" stroke="#111" stroke-width="1.2"/><path d="M50.25 151.90L52.93 155.27L49.36 156.12Z" fill="#111"/>
<path d="M52.28 177.30L51.55 167.69" stroke="#111" stroke-width="1.2"/><path d="M51.30 164.30L53.42 168.05L49.76 168.33Z" fill="#111"/>
<path d="M52.11 189.50L51.63 179.90" stroke="#111" stroke-width="1.2"/><path d="M51.47 176.50L53.49 180.30L49.83 180.49Z" fill="#111"/>
<path d="M51.96 201.80L51.71 192.20" stroke="#111" stroke-width="1.2"/><path d="M51.62 188.80L53.55 192.65L49.89 192.75Z" fill="#111"/>
<path d="M51.96 213.10L51.71 203.50" stroke="#111" stroke-width="1.2"/><path d="M51.62 200.10L53.55 203.95L49.89 204.05Z" fill="#111"/>
<path d="M51.97 222.70L51.70 213.10" stroke="#111" stroke-width="1.2"/><path d="M51.60 209.70L53.55 213.55L49.88 213.65Z" fill="#111"/>
<path d="M52.58 230.20L51.41 220.58" stroke="#111" stroke-width="1.2"/><path d="M51.00 217.20L53.29 220.85L49.65 221.29Z" fill="#111"/>
<path d="M52.95 235.55L51.24 226.20" stroke="#111" stroke-width="1.2"/><path d="M50.63 222.85L53.13 226.36L49.53 227.02Z" fill="#111"/>
<path d="M51.95 240.09L51.76 236.39" stroke="#111" stroke-width="1.2"/><path d="M51.63 233.91L53.18 236.82L50.38 236.96Z" fill="#111"/>
<path d="M52.23 242.73L52.52 242.82" stroke="#111" stroke-width="1.2"/><path d="M51.35 242.47L53.23 242.18L52.77 243.73Z" fill="#111"/>
<path d="M62.58 72.30L56.74 72.30" stroke="#111" stroke-width="1.2"/><path d="M53.58 72.30L57.24 70.58L57.24 74.02Z" fill="#111"/>
<path d="M62.89 84.92L56.57 84.10" stroke="#111" stroke-width="1.2"/><path d="M53.27 83.68L57.29 82.38L56.83 85.95Z" fill="#111"/>
<path d="M64.34 99.53L54.78 94.14" stroke="#111" stroke-width="1.2"/><path d="M51.81 92.47L56.11 92.79L54.31 95.99Z" fill="#111"/>
<path d="M65.61 114.49L53.12 103.73" stroke="#111" stroke-width="1.2"/><path d="M50.55 101.51L54.70 102.67L52.31 105.44Z" fill="#111"/>
<path d="M64.32 127.60L54.19 117.05" stroke="#111" stroke-width="1.2"/><path d="M51.84 114.60L55.86 116.14L53.21 118.68Z" fill="#111"/>
<path d="M63.22 140.10L55.05 129.77" stroke="#111" stroke-width="1.2"/><path d="M52.94 127.10L56.79 129.02L53.92 131.30Z" fill="#111"/>
<path d="M60.97 152.60L56.57 142.71" stroke="#111" stroke-width="1.2"/><path d="M55.18 139.60L58.44 142.42L55.09 143.91Z" fill="#111"/>
<path d="M59.88 164.90L57.18 155.18" stroke="#111" stroke-width="1.2"/><path d="M56.27 151.90L59.08 155.17L55.55 156.15Z" fill="#111"/>
<path d="M58.78 177.30L57.74 167.68" stroke="#111" stroke-width="1.2"/><path d="M57.37 164.30L59.62 167.98L55.97 168.37Z" fill="#111"/>
<path d="M58.58 189.50L57.84 179.89" stroke="#111" stroke-width="1.2"/><path d="M57.57 176.50L59.70 180.25L56.05 180.53Z" fill="#111"/>
<path d="M58.40 201.80L57.92 192.20" stroke="#111" stroke-width="1.2"/><path d="M57.75 188.80L59.78 192.60L56.12 192.79Z" fill="#111"/>
<path d="M58.40 213.10L57.92 203.50" stroke="#111" stroke-width="1.2"/><path d="M57.75 200.10L59.78 203.90L56.12 204.09Z" fill="#111"/>
<path d="M58.42 222.70L57.91 213.10" stroke="#111" stroke-width="1.2"/><path d="M57.73 209.70L59.77 213.50L56.11 213.69Z" fill="#111"/>
<path d="M58.99 230.18L57.64 220.59" stroke="#111" stroke-width="1.2"/><path d="M57.16 217.22L59.52 220.83L55.89 221.34Z" fill="#111"/>
<path d="M58.85 234.54L57.79 227.23" stroke="#111" stroke-width="1.2"/><path d="M57.30 223.86L59.68 227.46L56.05 227.99Z" fill="#111"/>
<path d="M58.24 239.89L58.05 236.49" stroke="#111" stroke-width="1.2"/><path d="M57.91 234.11L59.43 236.92L56.72 237.07Z" fill="#111"/>
<path d="M58.52 242.73L58.81 242.81" stroke="#111" stroke-width="1.2"/><path d="M57.63 242.47L59.51 242.17L59.06 243.73Z" fill="#111"/>
<path d="M68.87 72.30L63.03 72.30" stroke="#111" stroke-width="1.2"/><path d="M59.87 72.30L63.53 70.58L63.53 74.02Z" fill="#111"/>
<path d="M69.15 84.86L62.87 84.13" stroke="#111" stroke-width="1.2"/><path d="M59.59 83.74L63.58 82.41L63.16 85.96Z" fill="#111"/>
<path d="M70.32 98.91L61.47 94.58" stroke="#111" stroke-width="1.2"/><path d="M58.41 93.09L62.72 93.16L61.11 96.45Z" fill="#111"/>
<path d="M71.50 113.91L59.85 104.26" stroke="#111" stroke-width="1.2"/><path d="M57.23 102.09L61.41 103.17L59.07 105.99Z" fill="#111"/>
<path d="M70.61 127.60L60.48 117.05" stroke="#111" stroke-width="1.2"/><path d="M58.12 114.60L62.15 116.14L59.50 118.68Z" fill="#111"/>
<path d="M69.52 140.10L61.32 129.76" stroke="#111" stroke-width="1.2"/><path d="M59.21 127.10L63.07 129.02L60.20 131.29Z" fill="#111"/>
<path d="M67.58 152.60L62.66 142.65" stroke="#111" stroke-width="1.2"/><path d="M61.16 139.60L64.53 142.29L61.24 143.91Z" fill="#111"/>
<path d="M66.43 164.90L63.33 155.14" stroke="#111" stroke-width="1.2"/><path d="M62.30 151.90L65.23 155.06L61.73 156.17Z" fill="#111"/>
<path d="M65.28 177.30L63.93 167.67" stroke="#111" stroke-width="1.2"/><path d="M63.45 164.30L65.81 167.91L62.18 168.42Z" fill="#111"/>
<path d="M65.06 189.50L64.04 179.88" stroke="#111" stroke-width="1.2"/><path d="M63.68 176.50L65.91 180.18L62.27 180.57Z" fill="#111"/>
<path d="M64.85 201.80L64.13 192.19" stroke="#111" stroke-width="1.2"/><path d="M63.88 188.80L66.00 192.55L62.34 192.83Z" fill="#111"/>
<path d="M64.85 213.10L64.13 203.49" stroke="#111" stroke-width="1.2"/><path d="M63.88 200.10L66.00 203.85L62.34 204.13Z" fill="#111"/>
<path d="M64.87 222.70L64.13 213.09" stroke="#111" stroke-width="1.2"/><path d="M63.87 209.70L65.99 213.45L62.34 213.73Z" fill="#111"/>
<path d="M65.13 229.60L64.04 221.17" stroke="#111" stroke-width="1.2"/><path d="M63.60 217.80L65.92 221.43L62.29 221.91Z" fill="#111"/>
<path d="M64.79 233.59L64.24 227.91" stroke="#111" stroke-width="1.2"/><path d="M63.94 224.81L65.98 228.25L62.60 228.58Z" fill="#111"/>
<path d="M64.51 239.64L64.35 236.62" stroke="#111" stroke-width="1.2"/><path d="M64.22 234.36L65.67 237.05L63.07 237.19Z" fill="#111"/>
<path d="M64.80 242.69L65.12 242.76" stroke="#111" stroke-width="1.2"/><path d="M63.93 242.51L65.77 242.08L65.44 243.65Z" fill="#111"/>
<path d="M75.16 72.30L69.31 72.30" stroke="#111" stroke-width="1.2"/><path d="M66.16 72.30L69.81 70.58L69.81 74.02Z" fill="#111"/>
<path d="M75.19 84.37L69.30 84.28" stroke="#111" stroke-width="1.2"/><path d="M66.12 84.23L69.82 82.56L69.77 86.01Z" fill="#111"/>
<path d="M76.02 97.72L68.53 95.32" stroke="#111" stroke-width="1.2"/><path d="M65.29 94.28L69.57 93.73L68.45 97.22Z" fill="#111"/>
<path d="M76.38 111.30L67.88 106.40" stroke="#111" stroke-width="1.2"/><path d="M64.93 104.70L69.23 105.06L67.39 108.23Z" fill="#111"/>
<path d="M76.02 125.85L67.84 118.61" stroke="#111" stroke-width="1.2"/><path d="M65.29 116.35L69.43 117.57L67.00 120.31Z" fill="#111"/>
<path d="M75.67 139.78L67.79 130.06" stroke="#111" stroke-width="1.2"/><path d="M65.64 127.42L69.52 129.30L66.68 131.60Z" fill="#111"/>
<path d="M74.18 152.59L68.75 142.59" stroke="#111" stroke-width="1.2"/><path d="M67.13 139.61L70.60 142.16L67.38 143.91Z" fill="#111"/>
<path d="M72.98 164.90L69.47 155.10" stroke="#111" stroke-width="1.2"/><path d="M68.33 151.90L71.37 154.95L67.92 156.19Z" fill="#111"/>
<path d="M71.78 177.30L70.11 167.65" stroke="#111" stroke-width="1.2"/><path d="M69.53 164.30L72.00 167.83L68.39 168.46Z" fill="#111"/>
<path d="M71.53 189.50L70.23 179.87" stroke="#111" stroke-width="1.2"/><path d="M69.78 176.50L72.12 180.12L68.48 180.61Z" fill="#111"/>
<path d="M71.30 201.80L70.35 192.18" stroke="#111" stroke-width="1.2"/><path d="M70.01 188.80L72.22 192.50L68.57 192.86Z" fill="#111"/>
<path d="M71.30 213.10L70.35 203.48" stroke="#111" stroke-width="1.2"/><path d="M70.01 200.10L72.22 203.80L68.57 204.16Z" fill="#111"/>
<path d="M71.31 222.70L70.34 213.08" stroke="#111" stroke-width="1.2"/><path d="M70.00 209.70L72.21 213.40L68.57 213.76Z" fill="#111"/>
<path d="M71.19 228.86L70.47 221.93" stroke="#111" stroke-width="1.2"/><path d="M70.12 218.54L72.35 222.24L68.70 222.61Z" fill="#111"/>
<path d="M70.99 233.15L70.57 228.14" stroke="#111" stroke-width="1.2"/><path d="M70.32 225.25L72.20 228.51L69.01 228.77Z" fill="#111"/>
<path d="M70.76 239.36L70.64 236.77" stroke="#111" stroke-width="1.2"/><path d="M70.55 234.64L71.90 237.22L69.43 237.33Z" fill="#111"/>
<path d="M71.08 242.65L71.43 242.69" stroke="#111" stroke-width="1.2"/><path d="M70.23 242.55L72.02 241.96L71.83 243.55Z" fill="#111"/>
<path d="M81.44 72.30L75.60 72.30" stroke="#111" stroke-width="1.2"/><path d="M72.44 72.30L76.10 70.58L76.10 74.02Z" fill="#111"/>
<path d="M81.44 84.30L75.60 84.30" stroke="#111" stroke-width="1.2"/><path d="M72.44 84.30L76.10 82.58L76.10 86.02Z" fill="#111"/>
<path d="M81.75 96.62L75.43 95.81" stroke="#111" stroke-width="1.2"/><path d="M72.13 95.38L76.16 94.09L75.70 97.65Z" fill="#111"/>
<path d="M81.64 109.53L75.45 107.51" stroke="#111" stroke-width="1.2"/><path d="M72.24 106.47L76.49 105.94L75.36 109.40Z" fill="#111"/>
<path d="M81.28 123.85L75.48 120.17" stroke="#111" stroke-width="1.2"/><path d="M72.61 118.35L76.88 118.89L74.92 121.99Z" fill="#111"/>
<path d="M80.87 137.58L75.41 132.04" stroke="#111" stroke-width="1.2"/><path d="M73.02 129.62L77.06 131.11L74.45 133.68Z" fill="#111"/>
<path d="M79.99 151.08L75.67 144.02" stroke="#111" stroke-width="1.2"/><path d="M73.90 141.12L77.50 143.49L74.37 145.40Z" fill="#111"/>
<path d="M79.29 164.37L75.84 155.59" stroke="#111" stroke-width="1.2"/><path d="M74.60 152.43L77.73 155.39L74.32 156.73Z" fill="#111"/>
<path d="M78.34 177.30L76.26 167.62" stroke="#111" stroke-width="1.2"/><path d="M75.54 164.30L78.16 167.73L74.57 168.50Z" fill="#111"/>
<path d="M78.04 189.50L76.41 179.85" stroke="#111" stroke-width="1.2"/><path d="M75.85 176.50L78.30 180.04L74.69 180.65Z" fill="#111"/>
<path d="M77.76 201.80L76.55 192.17" stroke="#111" stroke-width="1.2"/><path d="M76.13 188.80L78.43 192.44L74.80 192.90Z" fill="#111"/>
<path d="M77.76 213.10L76.55 203.47" stroke="#111" stroke-width="1.2"/><path d="M76.13 200.10L78.43 203.74L74.80 204.20Z" fill="#111"/>
<path d="M77.74 222.63L76.57 213.14" stroke="#111" stroke-width="1.2"/><path d="M76.15 209.77L78.45 213.41L74.81 213.86Z" fill="#111"/>
<path d="M77.56 228.70L76.74 222.08" stroke="#111" stroke-width="1.2"/><path d="M76.33 218.70L78.62 222.35L74.99 222.80Z" fill="#111"/>
<path d="M77.06 232.42L76.92 228.53" stroke="#111" stroke-width="1.2"/><path d="M76.83 225.98L78.37 228.97L75.51 229.08Z" fill="#111"/>
<path d="M76.69 238.35L76.89 237.28" stroke="#111" stroke-width="1.2"/><path d="M77.20 235.65L77.80 237.96L75.80 237.58Z" fill="#111"/>
<path d="M77.39 242.61L77.71 242.63" stroke="#111" stroke-width="1.2"/><path d="M76.50 242.59L78.24 241.84L78.19 243.45Z" fill="#111"/>
<path d="M87.73 72.30L81.89 72.30" stroke="#111" stroke-width="1.2"/><path d="M78.73 72.30L82.39 70.58L82.39 74.02Z" fill="#111"/>
<path d="M87.78 84.40L81.87 84.27" stroke="#111" stroke-width="1.2"/><path d="M78.68 84.20L82.40 82.55L82.33 86.01Z" fill="#111"/>
<path d="M88.57 97.67L81.14 95.35" stroke="#111" stroke-width="1.2"/><path d="M77.90 94.33L82.17 93.75L81.07 97.25Z" fill="#111"/>
<path d="M89.09 112.26L80.13 105.74" stroke="#111" stroke-width="1.2"/><path d="M77.38 103.74L81.61 104.55L79.45 107.52Z" fill="#111"/>
<path d="M89.19 127.31L79.62 117.34" stroke="#111" stroke-width="1.2"/><path d="M77.27 114.89L81.29 116.43L78.65 118.97Z" fill="#111"/>
<path d="M88.39 140.03L80.20 129.82" stroke="#111" stroke-width="1.2"/><path d="M78.07 127.17L81.94 129.06L79.08 131.36Z" fill="#111"/>
<path d="M87.24 152.59L81.01 142.51" stroke="#111" stroke-width="1.2"/><path d="M79.22 139.61L82.83 141.97L79.72 143.90Z" fill="#111"/>
<path d="M86.15 164.89L81.71 155.01" stroke="#111" stroke-width="1.2"/><path d="M80.31 151.91L83.59 154.71L80.24 156.21Z" fill="#111"/>
<path d="M85.05 177.30L82.33 167.57" stroke="#111" stroke-width="1.2"/><path d="M81.42 164.30L84.23 167.56L80.70 168.55Z" fill="#111"/>
<path d="M84.64 189.50L82.54 179.82" stroke="#111" stroke-width="1.2"/><path d="M81.82 176.50L84.44 179.92L80.86 180.70Z" fill="#111"/>
<path d="M84.26 201.80L82.74 192.16" stroke="#111" stroke-width="1.2"/><path d="M82.21 188.80L84.63 192.37L81.00 192.94Z" fill="#111"/>
<path d="M84.26 213.10L82.74 203.46" stroke="#111" stroke-width="1.2"/><path d="M82.21 200.10L84.63 203.67L81.00 204.24Z" fill="#111"/>
<path d="M84.03 222.21L82.88 213.56" stroke="#111" stroke-width="1.2"/><path d="M82.44 210.19L84.77 213.81L81.13 214.29Z" fill="#111"/>
<path d="M83.53 227.65L83.15 222.64" stroke="#111" stroke-width="1.2"/><path d="M82.93 219.75L84.78 223.02L81.59 223.26Z" fill="#111"/>
<path d="M83.24 231.77L83.23 228.86" stroke="#111" stroke-width="1.2"/><path d="M83.23 226.63L84.52 229.36L81.95 229.36Z" fill="#111"/>
<path d="M82.85 237.68L82.94 237.52" stroke="#111" stroke-width="1.2"/><path d="M83.62 236.32L83.46 238.38L81.93 237.52Z" fill="#111"/>
<path d="M83.79 242.62L83.94 242.63" stroke="#111" stroke-width="1.2"/><path d="M82.68 242.58L84.47 241.81L84.41 243.47Z" fill="#111"/>
<path d="M94.02 72.30L88.18 72.30" stroke="#111" stroke-width="1.2"/><path d="M85.02 72.30L88.68 70.58L88.68 74.02Z" fill="#111"/>
<path d="M94.02 84.30L88.18 84.30" stroke="#111" stroke-width="1.2"/><path d="M85.02 84.30L88.68 82.58L88.68 86.02Z" fill="#111"/>
<path d="M94.08 96.12L88.15 95.97" stroke="#111" stroke-width="1.2"/><path d="M84.96 95.88L88.69 94.24L88.61 97.71Z" fill="#111"/>
<path d="M93.79 109.50L88.25 107.55" stroke="#111" stroke-width="1.2"/><path d="M85.25 106.50L89.29 106.09L88.14 109.34Z" fill="#111"/>
<path d="M93.93 124.42L87.83 119.83" stroke="#111" stroke-width="1.2"/><path d="M85.11 117.78L89.33 118.66L87.13 121.59Z" fill="#111"/>
<path d="M93.72 138.08L87.65 131.60" stroke="#111" stroke-width="1.2"/><path d="M85.33 129.12L89.33 130.71L86.65 133.22Z" fill="#111"/>
<path d="M92.81 150.73L88.20 144.24" stroke="#111" stroke-width="1.2"/><path d="M86.23 141.47L89.98 143.59L86.99 145.71Z" fill="#111"/>
<path d="M92.34 164.08L88.21 155.77" stroke="#111" stroke-width="1.2"/><path d="M86.70 152.72L90.08 155.40L86.79 157.03Z" fill="#111"/>
<path d="M91.63 177.05L88.50 167.77" stroke="#111" stroke-width="1.2"/><path d="M87.41 164.55L90.40 167.66L86.92 168.83Z" fill="#111"/>
<path d="M91.25 189.50L88.67 179.79" stroke="#111" stroke-width="1.2"/><path d="M87.80 176.50L90.57 179.80L87.02 180.74Z" fill="#111"/>
<path d="M90.76 201.80L88.92 192.14" stroke="#111" stroke-width="1.2"/><path d="M88.29 188.80L90.82 192.29L87.21 192.97Z" fill="#111"/>
<path d="M90.76 213.10L88.92 203.44" stroke="#111" stroke-width="1.2"/><path d="M88.29 200.10L90.82 203.59L87.21 204.27Z" fill="#111"/>
<path d="M90.77 222.70L88.91 213.04" stroke="#111" stroke-width="1.2"/><path d="M88.27 209.70L90.81 213.18L87.21 213.88Z" fill="#111"/>
<path d="M91.30 230.20L88.64 220.48" stroke="#111" stroke-width="1.2"/><path d="M87.74 217.20L90.54 220.48L87.00 221.45Z" fill="#111"/>
<path d="M91.62 235.55L88.49 226.08" stroke="#111" stroke-width="1.2"/><path d="M87.42 222.85L90.38 225.98L86.90 227.13Z" fill="#111"/>
<path d="M90.63 240.26L89.27 236.25" stroke="#111" stroke-width="1.2"/><path d="M88.41 233.74L90.83 236.25L88.03 237.21Z" fill="#111"/>
<path d="M90.26 242.76L90.12 242.73" stroke="#111" stroke-width="1.2"/><path d="M88.78 242.44L90.79 241.98L90.42 243.69Z" fill="#111"/>
<path d="M100.31 72.30L94.47 72.30" stroke="#111" stroke-width="1.2"/><path d="M91.31 72.30L94.97 70.58L94.97 74.02Z" fill="#111"/>
<path d="M100.31 84.30L94.47 84.30" stroke="#111" stroke-width="1.2"/><path d="M91.31 84.30L94.97 82.58L94.97 86.02Z" fill="#111"/>
<path d="M100.41 96.19L94.42 95.94" stroke="#111" stroke-width="1.2"/><path d="M91.21 95.81L94.99 94.22L94.85 97.70Z" fill="#111"/>
<path d="M100.19 110.14L94.43 107.33" stroke="#111" stroke-width="1.2"/><path d="M91.43 105.86L95.67 105.93L94.09 109.17Z" fill="#111"/>
<path d="M100.43 125.05L93.77 119.36" stroke="#111" stroke-width="1.2"/><path d="M91.19 117.15L95.34 118.29L92.96 121.07Z" fill="#111"/>
<path d="M100.64 139.33L93.17 130.47" stroke="#111" stroke-width="1.2"/><path d="M90.98 127.87L94.90 129.67L92.10 132.04Z" fill="#111"/>
<path d="M100.10 152.31L93.45 142.69" stroke="#111" stroke-width="1.2"/><path d="M91.52 139.89L95.25 142.06L92.23 144.14Z" fill="#111"/>
<path d="M99.32 164.82L93.93 154.96" stroke="#111" stroke-width="1.2"/><path d="M92.30 151.98L95.78 154.52L92.56 156.28Z" fill="#111"/>
<path d="M98.46 177.29L94.45 167.46" stroke="#111" stroke-width="1.2"/><path d="M93.16 164.31L96.33 167.23L92.94 168.61Z" fill="#111"/>
<path d="M97.85 189.50L94.79 179.74" stroke="#111" stroke-width="1.2"/><path d="M93.77 176.50L96.69 179.67L93.19 180.77Z" fill="#111"/>
<path d="M97.25 201.80L95.10 192.12" stroke="#111" stroke-width="1.2"/><path d="M94.37 188.80L97.00 192.21L93.42 193.00Z" fill="#111"/>
<path d="M97.25 213.10L95.10 203.42" stroke="#111" stroke-width="1.2"/><path d="M94.37 200.10L97.00 203.51L93.42 204.30Z" fill="#111"/>
<path d="M97.27 222.70L95.10 213.02" stroke="#111" stroke-width="1.2"/><path d="M94.35 209.70L96.99 213.10L93.42 213.91Z" fill="#111"/>
<path d="M97.51 229.61L95.05 221.06" stroke="#111" stroke-width="1.2"/><path d="M94.11 217.79L96.95 221.03L93.43 222.04Z" fill="#111"/>
<path d="M97.22 233.75L95.37 227.79" stroke="#111" stroke-width="1.2"/><path d="M94.40 224.65L97.22 227.74L93.82 228.80Z" fill="#111"/>
<path d="M96.92 239.82L95.60 236.46" stroke="#111" stroke-width="1.2"/><path d="M94.70 234.18L97.08 236.42L94.49 237.43Z" fill="#111"/>
<path d="M96.67 242.77L96.35 242.71" stroke="#111" stroke-width="1.2"/><path d="M94.95 242.43L97.01 241.92L96.66 243.69Z" fill="#111"/>
<path d="M106.60 72.30L100.76 72.30" stroke="#111" stroke-width="1.2"/><path d="M97.60 72.30L101.26 70.58L101.26 74.02Z" fill="#111"/>
<path d="M106.60 84.30L100.76 84.30" stroke="#111" stroke-width="1.2"/><path d="M97.60 84.30L101.26 82.58L101.26 86.02Z" fill="#111"/>
<path d="M107.24 97.28L100.26 95.54" stroke="#111" stroke-width="1.2"/><path d="M96.96 94.72L101.19 93.88L100.30 97.44Z" fill="#111"/>
<path d="M106.92 111.44L100.05 106.53" stroke="#111" stroke-width="1.2"/><path d="M97.28 104.56L101.52 105.33L99.39 108.32Z" fill="#111"/>
<path d="M107.26 126.33L99.33 118.29" stroke="#111" stroke-width="1.2"/><path d="M96.94 115.87L100.98 117.36L98.37 119.93Z" fill="#111"/>
<path d="M107.32 140.10L99.01 129.75" stroke="#111" stroke-width="1.2"/><path d="M96.88 127.10L100.75 128.99L97.89 131.29Z" fill="#111"/>
<path d="M106.75 152.60L99.43 142.37" stroke="#111" stroke-width="1.2"/><path d="M97.45 139.60L101.21 141.71L98.23 143.84Z" fill="#111"/>
<path d="M105.96 164.90L99.97 154.82" stroke="#111" stroke-width="1.2"/><path d="M98.24 151.90L101.81 154.32L98.65 156.19Z" fill="#111"/>
<path d="M105.17 177.30L100.48 167.37" stroke="#111" stroke-width="1.2"/><path d="M99.03 164.30L102.35 167.04L99.04 168.61Z" fill="#111"/>
<path d="M104.45 189.50L100.90 179.70" stroke="#111" stroke-width="1.2"/><path d="M99.74 176.50L102.80 179.54L99.35 180.79Z" fill="#111"/>
<path d="M103.75 201.80L101.28 192.10" stroke="#111" stroke-width="1.2"/><path d="M100.45 188.80L103.18 192.13L99.63 193.03Z" fill="#111"/>
<path d="M103.75 213.10L101.28 203.40" stroke="#111" stroke-width="1.2"/><path d="M100.45 200.10L103.18 203.43L99.63 204.33Z" fill="#111"/>
<path d="M103.77 222.70L101.28 212.99" stroke="#111" stroke-width="1.2"/><path d="M100.43 209.70L103.18 213.02L99.62 213.93Z" fill="#111"/>
<path d="M104.25 230.11L101.03 220.52" stroke="#111" stroke-width="1.2"/><path d="M99.94 217.29L102.92 220.41L99.45 221.58Z" fill="#111"/>
<path d="M103.92 234.15L101.45 227.44" stroke="#111" stroke-width="1.2"/><path d="M100.28 224.25L103.34 227.28L99.90 228.54Z" fill="#111"/>
<path d="M103.26 239.52L101.91 236.60" stroke="#111" stroke-width="1.2"/><path d="M100.93 234.48L103.33 236.49L100.91 237.61Z" fill="#111"/>
<path d="M103.07 242.77L102.58 242.69" stroke="#111" stroke-width="1.2"/><path d="M101.13 242.43L103.24 241.86L102.91 243.69Z" fill="#111"/>
<path d="M112.72 72.30L107.14 72.30" stroke="#111" stroke-width="1.2"/><path d="M104.06 72.30L107.64 70.62L107.64 73.98Z" fill="#111"/>
<path d="M112.72 84.31L107.13 84.30" stroke="#111" stroke-width="1.2"/><path d="M104.05 84.29L107.64 82.62L107.63 85.98Z" fill="#111"/>
<path d="M113.35 97.27L106.72 95.57" stroke="#111" stroke-width="1.2"/><path d="M103.42 94.73L107.66 93.92L106.75 97.47Z" fill="#111"/>
<path d="M113.04 111.42L106.47 106.59" stroke="#111" stroke-width="1.2"/><path d="M103.73 104.58L107.96 105.41L105.79 108.36Z" fill="#111"/>
<path d="M113.41 126.26L105.74 118.37" stroke="#111" stroke-width="1.2"/><path d="M103.37 115.94L107.40 117.45L104.77 120.01Z" fill="#111"/>
<path d="M113.18 139.33L105.78 130.48" stroke="#111" stroke-width="1.2"/><path d="M103.60 127.87L107.51 129.69L104.69 132.04Z" fill="#111"/>
<path d="M113.04 152.42L105.75 142.52" stroke="#111" stroke-width="1.2"/><path d="M103.73 139.78L107.52 141.83L104.57 144.00Z" fill="#111"/>
<path d="M112.35 164.75L106.23 154.93" stroke="#111" stroke-width="1.2"/><path d="M104.43 152.05L108.05 154.39L104.93 156.33Z" fill="#111"/>
<path d="M111.68 177.25L106.64 167.38" stroke="#111" stroke-width="1.2"/><path d="M105.10 164.35L108.50 166.99L105.24 168.66Z" fill="#111"/>
<path d="M111.00 189.50L107.04 179.66" stroke="#111" stroke-width="1.2"/><path d="M105.78 176.50L108.93 179.44L105.53 180.81Z" fill="#111"/>
<path d="M110.31 201.80L107.43 192.06" stroke="#111" stroke-width="1.2"/><path d="M106.47 188.80L109.33 192.02L105.81 193.06Z" fill="#111"/>
<path d="M110.31 213.10L107.43 203.36" stroke="#111" stroke-width="1.2"/><path d="M106.47 200.10L109.33 203.32L105.81 204.36Z" fill="#111"/>
<path d="M110.32 222.70L107.42 212.96" stroke="#111" stroke-width="1.2"/><path d="M106.45 209.70L109.32 212.92L105.81 213.96Z" fill="#111"/>
<path d="M110.74 230.02L107.22 220.57" stroke="#111" stroke-width="1.2"/><path d="M106.03 217.38L109.11 220.40L105.68 221.68Z" fill="#111"/>
<path d="M110.54 234.36L107.54 227.18" stroke="#111" stroke-width="1.2"/><path d="M106.23 224.04L109.43 226.93L106.04 228.35Z" fill="#111"/>
<path d="M109.94 239.88L108.05 236.38" stroke="#111" stroke-width="1.2"/><path d="M106.83 234.12L109.56 236.14L107.02 237.51Z" fill="#111"/>
<path d="M109.47 242.77L108.81 242.67" stroke="#111" stroke-width="1.2"/><path d="M107.31 242.43L109.46 241.81L109.16 243.69Z" fill="#111"/>
<path d="M118.69 72.30L113.59 72.30" stroke="#111" stroke-width="1.2"/><path d="M110.66 72.30L114.09 70.69L114.09 73.91Z" fill="#111"/>
<path d="M118.69 84.30L113.59 84.30" stroke="#111" stroke-width="1.2"/><path d="M110.66 84.30L114.09 82.69L114.09 85.91Z" fill="#111"/>
<path d="M118.70 96.01L113.59 96.00" stroke="#111" stroke-width="1.2"/><path d="M110.66 95.99L114.09 94.39L114.08 97.61Z" fill="#111"/>
<path d="M118.42 109.81L113.63 107.49" stroke="#111" stroke-width="1.2"/><path d="M110.93 106.19L114.80 106.23L113.37 109.19Z" fill="#111"/>
<path d="M118.15 123.37L113.71 120.47" stroke="#111" stroke-width="1.2"/><path d="M111.21 118.83L115.03 119.37L113.23 122.11Z" fill="#111"/>
<path d="M117.86 136.32L113.78 132.84" stroke="#111" stroke-width="1.2"/><path d="M111.50 130.88L115.23 131.91L113.09 134.42Z" fill="#111"/>
<path d="M117.86 149.49L113.70 145.07" stroke="#111" stroke-width="1.2"/><path d="M111.49 142.71L115.32 144.23L112.77 146.63Z" fill="#111"/>
<path d="M117.42 162.21L113.84 157.23" stroke="#111" stroke-width="1.2"/><path d="M111.94 154.59L115.56 156.61L112.70 158.67Z" fill="#111"/>
<path d="M116.82 174.74L114.04 169.63" stroke="#111" stroke-width="1.2"/><path d="M112.53 166.86L115.79 169.25L112.77 170.89Z" fill="#111"/>
<path d="M116.72 187.95L113.93 181.19" stroke="#111" stroke-width="1.2"/><path d="M112.63 178.05L115.81 180.96L112.43 182.36Z" fill="#111"/>
<path d="M116.91 201.80L113.55 192.02" stroke="#111" stroke-width="1.2"/><path d="M112.44 188.80L115.45 191.90L111.98 193.09Z" fill="#111"/>
<path d="M116.91 213.10L113.55 203.32" stroke="#111" stroke-width="1.2"/><path d="M112.44 200.10L115.44 203.19L111.98 204.38Z" fill="#111"/>
<path d="M116.92 222.70L113.54 212.91" stroke="#111" stroke-width="1.2"/><path d="M112.43 209.70L115.44 212.79L111.97 213.98Z" fill="#111"/>
<path d="M117.39 230.17L113.28 220.37" stroke="#111" stroke-width="1.2"/><path d="M111.97 217.23L115.16 220.12L111.78 221.54Z" fill="#111"/>
<path d="M117.23 234.66L113.56 226.82" stroke="#111" stroke-width="1.2"/><path d="M112.12 223.74L115.44 226.50L112.12 228.05Z" fill="#111"/>
<path d="M117.05 241.10L113.94 235.73" stroke="#111" stroke-width="1.2"/><path d="M112.30 232.90L115.73 235.28L112.66 237.05Z" fill="#111"/>
<path d="M115.87 242.77L115.05 242.65" stroke="#111" stroke-width="1.2"/><path d="M113.48 242.43L115.68 241.76L115.40 243.69Z" fill="#111"/>
<path d="M124.67 72.30L120.04 72.30" stroke="#111" stroke-width="1.2"/><path d="M117.26 72.30L120.54 70.76L120.54 73.84Z" fill="#111"/>
<path d="M124.67 84.30L120.04 84.30" stroke="#111" stroke-width="1.2"/><path d="M117.26 84.30L120.54 82.76L120.54 85.84Z" fill="#111"/>
<path d="M124.75 96.16L120.00 95.96" stroke="#111" stroke-width="1.2"/><path d="M117.18 95.84L120.56 94.42L120.43 97.54Z" fill="#111"/>
<path d="M124.40 109.40L120.11 107.65" stroke="#111" stroke-width="1.2"/><path d="M117.53 106.60L121.15 106.41L119.99 109.27Z" fill="#111"/>
<path d="M124.11 122.94L120.19 120.65" stroke="#111" stroke-width="1.2"/><path d="M117.82 119.26L121.39 119.58L119.85 122.22Z" fill="#111"/>
<path d="M124.13 136.48L120.06 132.78" stroke="#111" stroke-width="1.2"/><path d="M117.80 130.72L121.55 131.88L119.30 134.35Z" fill="#111"/>
<path d="M124.56 150.29L119.59 144.49" stroke="#111" stroke-width="1.2"/><path d="M117.37 141.91L121.30 143.68L118.52 146.06Z" fill="#111"/>
<path d="M124.14 162.98L119.72 156.61" stroke="#111" stroke-width="1.2"/><path d="M117.79 153.82L121.52 155.98L118.50 158.07Z" fill="#111"/>
<path d="M123.99 176.29L119.58 168.28" stroke="#111" stroke-width="1.2"/><path d="M117.94 165.31L121.43 167.84L118.22 169.61Z" fill="#111"/>
<path d="M123.87 189.25L119.49 179.83" stroke="#111" stroke-width="1.2"/><path d="M118.06 176.75L121.36 179.51L118.04 181.06Z" fill="#111"/>
<path d="M123.51 201.80L119.66 191.97" stroke="#111" stroke-width="1.2"/><path d="M118.42 188.80L121.55 191.76L118.13 193.10Z" fill="#111"/>
<path d="M123.51 213.10L119.66 203.27" stroke="#111" stroke-width="1.2"/><path d="M118.42 200.10L121.55 203.06L118.13 204.40Z" fill="#111"/>
<path d="M123.53 222.70L119.65 212.86" stroke="#111" stroke-width="1.2"/><path d="M118.40 209.70L121.54 212.66L118.13 214.00Z" fill="#111"/>
<path d="M123.97 230.20L119.39 220.29" stroke="#111" stroke-width="1.2"/><path d="M117.96 217.20L121.26 219.97L117.93 221.51Z" fill="#111"/>
<path d="M124.23 235.58L119.25 225.85" stroke="#111" stroke-width="1.2"/><path d="M117.70 222.82L121.11 225.46L117.85 227.13Z" fill="#111"/>
<path d="M123.52 241.04L120.17 235.75" stroke="#111" stroke-width="1.2"/><path d="M118.41 232.96L121.95 235.22L118.93 237.12Z" fill="#111"/>
<path d="M122.27 242.77L121.28 242.64" stroke="#111" stroke-width="1.2"/><path d="M119.66 242.43L121.90 241.71L121.65 243.70Z" fill="#111"/>
<path d="M130.64 72.30L126.49 72.30" stroke="#111" stroke-width="1.2"/><path d="M123.87 72.30L126.99 70.83L126.99 73.77Z" fill="#111"/>
<path d="M130.64 84.30L126.49 84.30" stroke="#111" stroke-width="1.2"/><path d="M123.87 84.30L126.99 82.83L126.99 85.77Z" fill="#111"/>
<path d="M131.28 97.29L126.11 95.64" stroke="#111" stroke-width="1.2"/><path d="M123.22 94.71L127.09 94.21L126.08 97.37Z" fill="#111"/>
<path d="M131.18 110.60L126.05 107.20" stroke="#111" stroke-width="1.2"/><path d="M123.33 105.40L127.44 106.00L125.49 108.95Z" fill="#111"/>
<path d="M131.33 125.01L125.63 119.54" stroke="#111" stroke-width="1.2"/><path d="M123.18 117.19L127.26 118.57L124.72 121.21Z" fill="#111"/>
<path d="M132.04 139.92L124.52 129.99" stroke="#111" stroke-width="1.2"/><path d="M122.47 127.28L126.28 129.28L123.36 131.49Z" fill="#111"/>
<path d="M132.00 152.60L124.51 142.35" stroke="#111" stroke-width="1.2"/><path d="M122.51 139.60L126.29 141.67L123.33 143.83Z" fill="#111"/>
<path d="M131.44 164.90L124.91 154.76" stroke="#111" stroke-width="1.2"/><path d="M123.06 151.90L126.72 154.19L123.64 156.17Z" fill="#111"/>
<path d="M130.88 177.30L125.28 167.27" stroke="#111" stroke-width="1.2"/><path d="M123.62 164.30L127.13 166.81L123.93 168.60Z" fill="#111"/>
<path d="M130.50 189.50L125.53 179.54" stroke="#111" stroke-width="1.2"/><path d="M124.01 176.50L127.39 179.17L124.11 180.81Z" fill="#111"/>
<path d="M130.12 201.80L125.76 191.91" stroke="#111" stroke-width="1.2"/><path d="M124.39 188.80L127.64 191.63L124.29 193.11Z" fill="#111"/>
<path d="M130.12 213.10L125.76 203.21" stroke="#111" stroke-width="1.2"/><path d="M124.39 200.10L127.64 202.93L124.29 204.41Z" fill="#111"/>
<path d="M130.13 222.70L125.76 212.81" stroke="#111" stroke-width="1.2"/><path d="M124.38 209.70L127.63 212.53L124.28 214.01Z" fill="#111"/>
<path d="M130.53 230.20L125.51 220.24" stroke="#111" stroke-width="1.2"/><path d="M123.98 217.20L127.37 219.86L124.10 221.51Z" fill="#111"/>
<path d="M130.82 235.69L125.33 225.69" stroke="#111" stroke-width="1.2"/><path d="M123.69 222.71L127.17 225.25L123.96 227.02Z" fill="#111"/>
<path d="M129.87 240.74L126.47 235.87" stroke="#111" stroke-width="1.2"/><path d="M124.64 233.26L128.18 235.29L125.33 237.28Z" fill="#111"/>
<path d="M128.67 242.77L127.51 242.63" stroke="#111" stroke-width="1.2"/><path d="M125.84 242.43L128.13 241.67L127.89 243.71Z" fill="#111"/>
<path d="M136.62 72.30L132.94 72.30" stroke="#111" stroke-width="1.2"/><path d="M130.47 72.30L133.44 70.90L133.44 73.70Z" fill="#111"/>
<path d="M136.62 84.30L132.94 84.30" stroke="#111" stroke-width="1.2"/><path d="M130.47 84.30L133.44 82.90L133.44 85.70Z" fill="#111"/>
<path d="M137.27 97.30L132.55 95.65" stroke="#111" stroke-width="1.2"/><path d="M129.82 94.70L133.55 94.31L132.50 97.32Z" fill="#111"/>
<path d="M137.37 110.60L132.38 107.21" stroke="#111" stroke-width="1.2"/><path d="M129.72 105.40L133.78 106.05L131.81 108.94Z" fill="#111"/>
<path d="M137.51 125.00L132.00 119.58" stroke="#111" stroke-width="1.2"/><path d="M129.57 117.20L133.64 118.62L131.07 121.24Z" fill="#111"/>
<path d="M137.68 138.83L131.51 131.04" stroke="#111" stroke-width="1.2"/><path d="M129.40 128.37L133.26 130.29L130.39 132.57Z" fill="#111"/>
<path d="M138.29 152.60L130.80 142.35" stroke="#111" stroke-width="1.2"/><path d="M128.80 139.60L132.58 141.67L129.62 143.83Z" fill="#111"/>
<path d="M137.78 164.90L131.16 154.75" stroke="#111" stroke-width="1.2"/><path d="M129.30 151.90L132.97 154.16L129.90 156.17Z" fill="#111"/>
<path d="M137.28 177.30L131.50 167.25" stroke="#111" stroke-width="1.2"/><path d="M129.81 164.30L133.34 166.77L130.16 168.59Z" fill="#111"/>
<path d="M136.99 189.50L131.69 179.50" stroke="#111" stroke-width="1.2"/><path d="M130.09 176.50L133.54 179.08L130.30 180.80Z" fill="#111"/>
<path d="M136.72 201.80L131.86 191.85" stroke="#111" stroke-width="1.2"/><path d="M130.37 188.80L133.72 191.50L130.43 193.11Z" fill="#111"/>
<path d="M136.72 213.10L131.86 203.15" stroke="#111" stroke-width="1.2"/><path d="M130.37 200.10L133.72 202.80L130.43 204.41Z" fill="#111"/>
<path d="M136.73 222.70L131.85 212.75" stroke="#111" stroke-width="1.2"/><path d="M130.36 209.70L133.72 212.39L130.43 214.01Z" fill="#111"/>
<path d="M137.10 230.20L131.62 220.18" stroke="#111" stroke-width="1.2"/><path d="M129.99 217.20L133.47 219.74L130.25 221.50Z" fill="#111"/>
<path d="M137.23 235.44L131.58 225.89" stroke="#111" stroke-width="1.2"/><path d="M129.85 222.96L133.42 225.38L130.26 227.25Z" fill="#111"/>
<path d="M136.05 240.11L132.87 236.16" stroke="#111" stroke-width="1.2"/><path d="M131.04 233.89L134.43 235.54L131.93 237.56Z" fill="#111"/>
<path d="M135.07 242.77L133.74 242.62" stroke="#111" stroke-width="1.2"/><path d="M132.02 242.43L134.36 241.63L134.13 243.72Z" fill="#111"/>
<path d="M142.51 72.30L139.44 72.30" stroke="#111" stroke-width="1.2"/><path d="M137.15 72.30L139.94 70.99L139.94 73.61Z" fill="#111"/>
<path d="M142.60 84.30L139.39 84.30" stroke="#111" stroke-width="1.2"/><path d="M137.07 84.30L139.90 82.97L139.89 85.63Z" fill="#111"/>
<path d="M143.40 97.30L138.91 95.67" stroke="#111" stroke-width="1.2"/><path d="M136.26 94.70L139.92 94.37L138.85 97.30Z" fill="#111"/>
<path d="M143.55 110.44L138.73 107.28" stroke="#111" stroke-width="1.2"/><path d="M136.11 105.56L140.09 106.12L138.21 108.98Z" fill="#111"/>
<path d="M143.83 124.94L138.28 119.61" stroke="#111" stroke-width="1.2"/><path d="M135.83 117.26L139.91 118.64L137.37 121.28Z" fill="#111"/>
<path d="M144.09 138.80L137.72 131.03" stroke="#111" stroke-width="1.2"/><path d="M135.57 128.40L139.46 130.25L136.62 132.58Z" fill="#111"/>
<path d="M144.74 152.60L136.97 142.31" stroke="#111" stroke-width="1.2"/><path d="M134.92 139.60L138.74 141.61L135.81 143.82Z" fill="#111"/>
<path d="M144.37 164.90L137.24 154.69" stroke="#111" stroke-width="1.2"/><path d="M135.30 151.90L139.03 154.05L136.02 156.15Z" fill="#111"/>
<path d="M143.99 177.30L137.50 167.16" stroke="#111" stroke-width="1.2"/><path d="M135.67 164.30L139.32 166.60L136.23 168.57Z" fill="#111"/>
<path d="M143.77 189.50L137.65 179.41" stroke="#111" stroke-width="1.2"/><path d="M135.89 176.50L139.48 178.88L136.34 180.79Z" fill="#111"/>
<path d="M143.56 201.80L137.79 191.75" stroke="#111" stroke-width="1.2"/><path d="M136.10 188.80L139.63 191.27L136.45 193.09Z" fill="#111"/>
<path d="M143.56 213.10L137.79 203.05" stroke="#111" stroke-width="1.2"/><path d="M136.10 200.10L139.63 202.57L136.45 204.39Z" fill="#111"/>
<path d="M143.57 222.70L137.79 212.65" stroke="#111" stroke-width="1.2"/><path d="M136.09 209.70L139.62 212.17L136.45 213.99Z" fill="#111"/>
<path d="M143.81 230.08L137.65 220.20" stroke="#111" stroke-width="1.2"/><path d="M135.85 217.32L139.47 219.65L136.36 221.59Z" fill="#111"/>
<path d="M143.50 234.51L138.10 226.69" stroke="#111" stroke-width="1.2"/><path d="M136.17 223.89L139.89 226.06L136.87 228.14Z" fill="#111"/>
<path d="M142.48 239.65L139.16 236.33" stroke="#111" stroke-width="1.2"/><path d="M137.18 234.35L140.61 235.59L138.42 237.78Z" fill="#111"/>
<path d="M141.55 242.77L139.93 242.61" stroke="#111" stroke-width="1.2"/><path d="M138.11 242.43L140.53 241.57L140.32 243.75Z" fill="#111"/>
<path d="M148.38 72.30L145.94 72.30" stroke="#111" stroke-width="1.2"/><path d="M143.86 72.30L146.44 71.08L146.44 73.52Z" fill="#111"/>
<path d="M148.59 84.34L145.83 84.30" stroke="#111" stroke-width="1.2"/><path d="M143.65 84.26L146.35 83.04L146.31 85.57Z" fill="#111"/>
<path d="M149.59 97.30L145.25 95.68" stroke="#111" stroke-width="1.2"/><path d="M142.65 94.70L146.26 94.41L145.18 97.29Z" fill="#111"/>
<path d="M149.74 110.24L145.09 107.36" stroke="#111" stroke-width="1.2"/><path d="M142.50 105.76L146.39 106.21L144.64 109.04Z" fill="#111"/>
<path d="M150.17 124.83L144.57 119.67" stroke="#111" stroke-width="1.2"/><path d="M142.07 117.37L146.18 118.66L143.69 121.36Z" fill="#111"/>
<path d="M150.49 138.60L143.99 131.16" stroke="#111" stroke-width="1.2"/><path d="M141.75 128.60L145.70 130.33L142.94 132.75Z" fill="#111"/>
<path d="M150.78 151.68L143.64 143.13" stroke="#111" stroke-width="1.2"/><path d="M141.46 140.52L145.37 142.34L142.55 144.69Z" fill="#111"/>
<path d="M150.60 164.06L143.75 155.41" stroke="#111" stroke-width="1.2"/><path d="M141.64 152.74L145.50 154.66L142.62 156.94Z" fill="#111"/>
<path d="M150.59 176.89L143.66 167.45" stroke="#111" stroke-width="1.2"/><path d="M141.65 164.71L145.43 166.77L142.48 168.94Z" fill="#111"/>
<path d="M150.56 189.33L143.63 179.45" stroke="#111" stroke-width="1.2"/><path d="M141.68 176.67L145.42 178.81L142.42 180.91Z" fill="#111"/>
<path d="M150.40 201.63L143.74 191.78" stroke="#111" stroke-width="1.2"/><path d="M141.84 188.97L145.54 191.17L142.51 193.22Z" fill="#111"/>
<path d="M150.48 213.09L143.66 202.93" stroke="#111" stroke-width="1.2"/><path d="M141.76 200.11L145.46 202.32L142.41 204.37Z" fill="#111"/>
<path d="M150.43 222.59L143.71 212.63" stroke="#111" stroke-width="1.2"/><path d="M141.81 209.81L145.51 212.02L142.47 214.07Z" fill="#111"/>
<path d="M150.11 229.00L144.17 221.11" stroke="#111" stroke-width="1.2"/><path d="M142.13 218.40L145.94 220.41L143.01 222.62Z" fill="#111"/>
<path d="M150.21 234.37L144.13 226.69" stroke="#111" stroke-width="1.2"/><path d="M142.03 224.03L145.88 225.95L143.01 228.22Z" fill="#111"/>
<path d="M149.13 239.53L145.32 236.33" stroke="#111" stroke-width="1.2"/><path d="M143.11 234.47L146.73 235.43L144.68 237.87Z" fill="#111"/>
<path d="M148.07 242.77L146.10 242.60" stroke="#111" stroke-width="1.2"/><path d="M144.17 242.43L146.70 241.50L146.51 243.78Z" fill="#111"/>
<path d="M154.26 72.30L152.45 72.30" stroke="#111" stroke-width="1.2"/><path d="M150.56 72.30L152.95 71.18L152.95 73.42Z" fill="#111"/>
<path d="M154.56 84.31L152.29 84.30" stroke="#111" stroke-width="1.2"/><path d="M150.26 84.29L152.80 83.11L152.79 85.49Z" fill="#111"/>
<path d="M155.77 97.30L151.59 95.68" stroke="#111" stroke-width="1.2"/><path d="M149.05 94.70L152.61 94.45L151.51 97.28Z" fill="#111"/>
<path d="M155.64 109.47L151.64 107.65" stroke="#111" stroke-width="1.2"/><path d="M149.18 106.53L152.72 106.49L151.47 109.23Z" fill="#111"/>
<path d="M156.05 123.81L151.32 120.29" stroke="#111" stroke-width="1.2"/><path d="M148.77 118.39L152.75 119.20L150.69 121.98Z" fill="#111"/>
<path d="M156.20 137.02L151.14 132.46" stroke="#111" stroke-width="1.2"/><path d="M148.62 130.18L152.74 131.43L150.29 134.16Z" fill="#111"/>
<path d="M156.27 149.67L151.04 144.84" stroke="#111" stroke-width="1.2"/><path d="M148.54 142.53L152.65 143.83L150.16 146.52Z" fill="#111"/>
<path d="M156.28 162.12L150.99 157.04" stroke="#111" stroke-width="1.2"/><path d="M148.54 154.68L152.62 156.06L150.08 158.71Z" fill="#111"/>
<path d="M156.36 174.80L150.85 169.22" stroke="#111" stroke-width="1.2"/><path d="M148.46 166.80L152.50 168.29L149.89 170.86Z" fill="#111"/>
<path d="M156.61 187.71L150.47 180.82" stroke="#111" stroke-width="1.2"/><path d="M148.21 178.29L152.17 179.98L149.43 182.42Z" fill="#111"/>
<path d="M156.70 200.39L150.31 192.81" stroke="#111" stroke-width="1.2"/><path d="M148.12 190.21L152.04 192.01L149.23 194.37Z" fill="#111"/>
<path d="M156.80 211.89L150.19 203.93" stroke="#111" stroke-width="1.2"/><path d="M148.02 201.31L151.92 203.14L149.10 205.48Z" fill="#111"/>
<path d="M156.76 221.41L150.24 213.60" stroke="#111" stroke-width="1.2"/><path d="M148.06 210.99L151.97 212.81L149.15 215.16Z" fill="#111"/>
<path d="M156.90 228.90L150.14 221.07" stroke="#111" stroke-width="1.2"/><path d="M147.91 218.50L151.85 220.25L149.08 222.65Z" fill="#111"/>
<path d="M156.99 234.36L150.08 226.58" stroke="#111" stroke-width="1.2"/><path d="M147.82 224.04L151.78 225.74L149.04 228.17Z" fill="#111"/>
<path d="M155.86 239.57L151.42 236.26" stroke="#111" stroke-width="1.2"/><path d="M148.96 234.43L152.82 235.22L150.82 237.90Z" fill="#111"/>
<path d="M154.58 242.77L152.28 242.59" stroke="#111" stroke-width="1.2"/><path d="M150.24 242.43L152.87 241.44L152.69 243.82Z" fill="#111"/>
<path d="M160.13 72.30L158.95 72.30" stroke="#111" stroke-width="1.2"/><path d="M157.27 72.30L159.45 71.27L159.45 73.33Z" fill="#111"/>
<path d="M160.53 84.30L158.74 84.30" stroke="#111" stroke-width="1.2"/><path d="M156.86 84.30L159.24 83.18L159.24 85.42Z" fill="#111"/>
<path d="M161.48 96.35L158.24 95.94" stroke="#111" stroke-width="1.2"/><path d="M155.92 95.65L158.91 94.68L158.58 97.33Z" fill="#111"/>
<path d="M161.26 108.13L158.36 107.98" stroke="#111" stroke-width="1.2"/><path d="M156.13 107.87L158.93 106.73L158.80 109.29Z" fill="#111"/>
<path d="M161.31 121.54L158.32 121.04" stroke="#111" stroke-width="1.2"/><path d="M156.08 120.66L159.03 119.84L158.60 122.41Z" fill="#111"/>
<path d="M161.41 134.45L158.24 133.46" stroke="#111" stroke-width="1.2"/><path d="M155.98 132.75L159.12 132.32L158.31 134.89Z" fill="#111"/>
<path d="M161.38 146.88L158.26 145.97" stroke="#111" stroke-width="1.2"/><path d="M156.02 145.32L159.12 144.83L158.37 147.40Z" fill="#111"/>
<path d="M161.44 159.12L158.24 158.28" stroke="#111" stroke-width="1.2"/><path d="M155.96 157.68L159.06 157.11L158.38 159.71Z" fill="#111"/>
<path d="M161.87 172.19L157.97 170.48" stroke="#111" stroke-width="1.2"/><path d="M155.53 169.41L159.02 169.32L157.83 172.04Z" fill="#111"/>
<path d="M162.37 185.49L157.62 182.27" stroke="#111" stroke-width="1.2"/><path d="M155.03 180.51L158.99 181.14L157.07 183.96Z" fill="#111"/>
<path d="M162.81 198.78L157.18 194.02" stroke="#111" stroke-width="1.2"/><path d="M154.59 191.82L158.75 192.94L156.38 195.74Z" fill="#111"/>
<path d="M163.00 210.47L156.92 205.01" stroke="#111" stroke-width="1.2"/><path d="M154.39 202.73L158.52 203.98L156.07 206.70Z" fill="#111"/>
<path d="M163.03 220.13L156.88 214.55" stroke="#111" stroke-width="1.2"/><path d="M154.36 212.27L158.48 213.53L156.02 216.25Z" fill="#111"/>
<path d="M163.26 227.92L156.63 221.79" stroke="#111" stroke-width="1.2"/><path d="M154.14 219.48L158.25 220.78L155.76 223.47Z" fill="#111"/>
<path d="M163.59 233.98L156.24 226.80" stroke="#111" stroke-width="1.2"/><path d="M153.81 224.42L157.88 225.84L155.32 228.46Z" fill="#111"/>
<path d="M162.52 239.49L157.55 236.25" stroke="#111" stroke-width="1.2"/><path d="M154.87 234.51L158.91 235.07L157.02 237.98Z" fill="#111"/>
<path d="M161.09 242.77L158.45 242.58" stroke="#111" stroke-width="1.2"/><path d="M156.31 242.43L159.04 241.37L158.86 243.86Z" fill="#111"/>
<path d="M166.00 72.30L165.46 72.30" stroke="#111" stroke-width="1.2"/><path d="M163.97 72.30L165.96 71.37L165.96 73.23Z" fill="#111"/>
<path d="M166.51 84.30L165.19 84.30" stroke="#111" stroke-width="1.2"/><path d="M163.46 84.30L165.69 83.25L165.69 85.35Z" fill="#111"/>
<path d="M167.49 96.00L164.69 96.00" stroke="#111" stroke-width="1.2"/><path d="M162.49 96.00L165.19 94.73L165.19 97.27Z" fill="#111"/>
<path d="M167.49 107.00L164.61 108.15" stroke="#111" stroke-width="1.2"/><path d="M162.49 109.00L164.59 106.74L165.57 109.18Z" fill="#111"/>
<path d="M167.49 120.60L164.67 121.16" stroke="#111" stroke-width="1.2"/><path d="M162.49 121.60L164.91 119.81L165.41 122.32Z" fill="#111"/>
<path d="M167.49 132.56L164.61 133.76" stroke="#111" stroke-width="1.2"/><path d="M162.49 134.64L164.57 132.35L165.58 134.78Z" fill="#111"/>
<path d="M167.49 144.31L164.50 146.45" stroke="#111" stroke-width="1.2"/><path d="M162.48 147.89L164.09 145.02L165.72 147.30Z" fill="#111"/>
<path d="M167.73 156.55L164.39 158.80" stroke="#111" stroke-width="1.2"/><path d="M162.24 160.25L163.99 157.32L165.61 159.73Z" fill="#111"/>
<path d="M167.98 169.50L164.35 171.08" stroke="#111" stroke-width="1.2"/><path d="M161.99 172.10L164.23 169.56L165.38 172.20Z" fill="#111"/>
<path d="M168.03 183.09L164.40 182.98" stroke="#111" stroke-width="1.2"/><path d="M161.94 182.91L164.94 181.61L164.86 184.39Z" fill="#111"/>
<path d="M168.44 196.21L164.16 195.08" stroke="#111" stroke-width="1.2"/><path d="M161.53 194.39L165.03 193.75L164.26 196.67Z" fill="#111"/>
<path d="M169.08 208.79L163.74 205.93" stroke="#111" stroke-width="1.2"/><path d="M160.89 204.41L165.01 204.62L163.35 207.71Z" fill="#111"/>
<path d="M169.45 219.13L163.37 215.14" stroke="#111" stroke-width="1.2"/><path d="M160.52 213.27L164.79 213.88L162.78 216.95Z" fill="#111"/>
<path d="M169.85 227.43L162.82 222.04" stroke="#111" stroke-width="1.2"/><path d="M160.12 219.97L164.33 220.89L162.10 223.80Z" fill="#111"/>
<path d="M169.84 232.91L162.83 227.55" stroke="#111" stroke-width="1.2"/><path d="M160.13 225.49L164.34 226.40L162.12 229.31Z" fill="#111"/>
<path d="M168.99 239.01L163.80 236.40" stroke="#111" stroke-width="1.2"/><path d="M160.98 234.99L165.01 235.09L163.47 238.16Z" fill="#111"/>
<path d="M167.60 242.76L164.62 242.58" stroke="#111" stroke-width="1.2"/><path d="M162.37 242.44L165.20 241.32L165.04 243.90Z" fill="#111"/>
<path d="M172.30 72.30L171.74 72.30" stroke="#111" stroke-width="1.2"/><path d="M170.25 72.30L172.24 71.36L172.24 73.24Z" fill="#111"/>
<path d="M173.23 84.29L171.26 84.30" stroke="#111" stroke-width="1.2"/><path d="M169.32 84.31L171.75 83.15L171.77 85.44Z" fill="#111"/>
<path d="M172.52 95.61L171.58 95.90" stroke="#111" stroke-width="1.2"/><path d="M170.03 96.39L171.76 94.80L172.36 96.71Z" fill="#111"/>
<path d="M173.62 106.69L170.93 108.19" stroke="#111" stroke-width="1.2"/><path d="M168.93 109.31L170.72 106.81L172.01 109.09Z" fill="#111"/>
<path d="M173.77 119.98L170.89 121.27" stroke="#111" stroke-width="1.2"/><path d="M168.77 122.22L170.81 119.86L171.88 122.28Z" fill="#111"/>
<path d="M173.77 131.11L170.68 134.19" stroke="#111" stroke-width="1.2"/><path d="M168.77 136.09L169.98 132.77L172.10 134.90Z" fill="#111"/>
<path d="M173.78 142.26L170.52 147.26" stroke="#111" stroke-width="1.2"/><path d="M168.77 149.94L169.33 145.89L172.25 147.79Z" fill="#111"/>
<path d="M173.95 154.91L170.49 159.42" stroke="#111" stroke-width="1.2"/><path d="M168.60 161.89L169.45 157.99L172.15 160.05Z" fill="#111"/>
<path d="M174.12 168.11L170.52 171.51" stroke="#111" stroke-width="1.2"/><path d="M168.43 173.49L169.80 170.01L171.98 172.32Z" fill="#111"/>
<path d="M174.12 181.77L170.71 183.24" stroke="#111" stroke-width="1.2"/><path d="M168.43 184.23L170.62 181.76L171.73 184.33Z" fill="#111"/>
<path d="M174.12 195.30L170.80 195.30" stroke="#111" stroke-width="1.2"/><path d="M168.43 195.30L171.30 193.95L171.30 196.65Z" fill="#111"/>
<path d="M174.24 206.67L170.73 206.59" stroke="#111" stroke-width="1.2"/><path d="M168.31 206.53L171.27 205.23L171.20 207.97Z" fill="#111"/>
<path d="M174.65 216.95L170.50 216.03" stroke="#111" stroke-width="1.2"/><path d="M167.90 215.45L171.31 214.69L170.66 217.59Z" fill="#111"/>
<path d="M175.16 225.47L170.16 223.19" stroke="#111" stroke-width="1.2"/><path d="M167.39 221.93L171.31 221.88L169.93 224.92Z" fill="#111"/>
<path d="M175.23 231.11L170.12 228.64" stroke="#111" stroke-width="1.2"/><path d="M167.32 227.29L171.31 227.33L169.83 230.39Z" fill="#111"/>
<path d="M174.94 238.33L170.31 236.65" stroke="#111" stroke-width="1.2"/><path d="M167.61 235.67L171.32 235.33L170.24 238.31Z" fill="#111"/>
<path d="M173.87 242.73L170.92 242.58" stroke="#111" stroke-width="1.2"/><path d="M168.68 242.47L171.49 241.32L171.36 243.90Z" fill="#111"/>
<path d="M178.60 72.30L178.03 72.30" stroke="#111" stroke-width="1.2"/><path d="M176.53 72.30L178.53 71.36L178.53 73.24Z" fill="#111"/>
<path d="M179.94 84.28L177.33 84.30" stroke="#111" stroke-width="1.2"/><path d="M175.18 84.32L177.82 83.06L177.84 85.54Z" fill="#111"/>
<path d="M177.55 95.21L177.55 95.41" stroke="#111" stroke-width="1.2"/><path d="M177.58 96.79L176.66 94.92L178.43 94.89Z" fill="#111"/>
<path d="M179.75 106.29L177.22 108.27" stroke="#111" stroke-width="1.2"/><path d="M175.38 109.71L176.79 106.92L178.43 109.01Z" fill="#111"/>
<path d="M180.06 118.99L177.03 121.55" stroke="#111" stroke-width="1.2"/><path d="M175.06 123.21L176.48 120.13L178.34 122.33Z" fill="#111"/>
<path d="M180.06 130.29L176.87 134.52" stroke="#111" stroke-width="1.2"/><path d="M175.06 136.91L175.86 133.13L178.48 135.11Z" fill="#111"/>
<path d="M180.06 141.60L176.71 147.63" stroke="#111" stroke-width="1.2"/><path d="M175.06 150.60L175.36 146.30L178.56 148.08Z" fill="#111"/>
<path d="M180.16 153.90L176.67 159.95" stroke="#111" stroke-width="1.2"/><path d="M174.97 162.90L175.33 158.61L178.51 160.44Z" fill="#111"/>
<path d="M180.25 167.53L176.80 171.73" stroke="#111" stroke-width="1.2"/><path d="M174.88 174.07L175.84 170.29L178.40 172.39Z" fill="#111"/>
<path d="M180.25 180.30L176.87 183.70" stroke="#111" stroke-width="1.2"/><path d="M174.88 185.70L176.12 182.24L178.33 184.44Z" fill="#111"/>
<path d="M180.25 194.07L177.07 195.52" stroke="#111" stroke-width="1.2"/><path d="M174.87 196.53L176.96 194.07L178.10 196.56Z" fill="#111"/>
<path d="M180.42 206.43L177.08 206.63" stroke="#111" stroke-width="1.2"/><path d="M174.70 206.77L177.49 205.25L177.66 207.95Z" fill="#111"/>
<path d="M180.56 216.18L177.00 216.20" stroke="#111" stroke-width="1.2"/><path d="M174.56 216.22L177.50 214.82L177.51 217.58Z" fill="#111"/>
<path d="M180.57 223.72L177.00 223.70" stroke="#111" stroke-width="1.2"/><path d="M174.55 223.68L177.51 222.32L177.49 225.08Z" fill="#111"/>
<path d="M180.63 229.33L176.97 229.17" stroke="#111" stroke-width="1.2"/><path d="M174.50 229.07L177.53 227.80L177.41 230.59Z" fill="#111"/>
<path d="M180.60 237.08L176.98 236.98" stroke="#111" stroke-width="1.2"/><path d="M174.52 236.92L177.52 235.61L177.44 238.39Z" fill="#111"/>
<path d="M180.10 242.60L177.25 242.60" stroke="#111" stroke-width="1.2"/><path d="M175.03 242.60L177.75 241.32L177.75 243.88Z" fill="#111"/>
<path d="M184.90 72.30L184.31 72.30" stroke="#111" stroke-width="1.2"/><path d="M182.80 72.30L184.81 71.36L184.81 73.24Z" fill="#111"/>
<path d="M186.66 84.27L183.39 84.30" stroke="#111" stroke-width="1.2"/><path d="M181.04 84.33L183.88 82.96L183.91 85.64Z" fill="#111"/>
<path d="M182.58 94.82L183.78 95.93" stroke="#111" stroke-width="1.2"/><path d="M185.12 97.18L182.67 96.40L184.16 94.79Z" fill="#111"/>
<path d="M185.88 104.66L183.32 108.88" stroke="#111" stroke-width="1.2"/><path d="M181.82 111.34L182.22 107.63L184.93 109.28Z" fill="#111"/>
<path d="M186.35 118.96L183.31 121.56" stroke="#111" stroke-width="1.2"/><path d="M181.35 123.24L182.75 120.14L184.63 122.34Z" fill="#111"/>
<path d="M186.35 130.29L183.15 134.52" stroke="#111" stroke-width="1.2"/><path d="M181.35 136.91L182.15 133.14L184.77 135.11Z" fill="#111"/>
<path d="M186.35 141.60L183.00 147.63" stroke="#111" stroke-width="1.2"/><path d="M181.35 150.60L181.64 146.30L184.85 148.08Z" fill="#111"/>
<path d="M186.37 153.90L183.00 159.93" stroke="#111" stroke-width="1.2"/><path d="M181.34 162.90L181.64 158.60L184.84 160.39Z" fill="#111"/>
<path d="M186.38 167.16L183.11 171.87" stroke="#111" stroke-width="1.2"/><path d="M181.32 174.44L181.99 170.49L184.79 172.43Z" fill="#111"/>
<path d="M186.38 179.80L183.16 183.88" stroke="#111" stroke-width="1.2"/><path d="M181.32 186.20L182.19 182.48L184.74 184.49Z" fill="#111"/>
<path d="M186.39 193.70L183.38 195.60" stroke="#111" stroke-width="1.2"/><path d="M181.32 196.90L183.07 194.16L184.54 196.50Z" fill="#111"/>
<path d="M186.64 205.01L183.27 206.93" stroke="#111" stroke-width="1.2"/><path d="M181.06 208.19L183.00 205.44L184.41 207.93Z" fill="#111"/>
<path d="M186.85 214.69L183.19 216.54" stroke="#111" stroke-width="1.2"/><path d="M180.85 217.71L182.97 215.00L184.29 217.62Z" fill="#111"/>
<path d="M186.85 223.29L183.28 223.78" stroke="#111" stroke-width="1.2"/><path d="M180.85 224.11L183.59 222.33L183.97 225.09Z" fill="#111"/>
<path d="M186.85 229.20L183.29 229.20" stroke="#111" stroke-width="1.2"/><path d="M180.85 229.20L183.79 227.82L183.79 230.58Z" fill="#111"/>
<path d="M186.85 237.00L183.29 237.00" stroke="#111" stroke-width="1.2"/><path d="M180.85 237.00L183.79 235.62L183.79 238.38Z" fill="#111"/>
<path d="M186.39 242.60L183.54 242.60" stroke="#111" stroke-width="1.2"/><path d="M181.32 242.60L184.04 241.32L184.04 243.88Z" fill="#111"/>
<path d="M191.19 72.30L190.59 72.30" stroke="#111" stroke-width="1.2"/><path d="M189.09 72.30L191.09 71.36L191.09 73.24Z" fill="#111"/>
<path d="M193.12 84.27L189.59 84.31" stroke="#111" stroke-width="1.2"/><path d="M187.16 84.33L190.08 82.92L190.11 85.68Z" fill="#111"/>
<path d="M188.64 94.75L190.15 96.01" stroke="#111" stroke-width="1.2"/><path d="M191.64 97.25L189.04 96.57L190.50 94.81Z" fill="#111"/>
<path d="M192.05 104.42L189.62 108.98" stroke="#111" stroke-width="1.2"/><path d="M188.23 111.58L188.42 107.78L191.28 109.30Z" fill="#111"/>
<path d="M192.64 119.10L189.62 121.52" stroke="#111" stroke-width="1.2"/><path d="M187.64 123.10L189.12 120.09L190.91 122.32Z" fill="#111"/>
<path d="M192.55 130.53L189.51 134.41" stroke="#111" stroke-width="1.2"/><path d="M187.73 136.67L188.57 133.04L191.06 135.00Z" fill="#111"/>
<path d="M192.55 142.09L189.40 147.33" stroke="#111" stroke-width="1.2"/><path d="M187.73 150.11L188.15 145.99L191.17 147.81Z" fill="#111"/>
<path d="M192.55 154.45L189.41 159.60" stroke="#111" stroke-width="1.2"/><path d="M187.73 162.35L188.17 158.27L191.16 160.09Z" fill="#111"/>
<path d="M192.55 167.62L189.49 171.66" stroke="#111" stroke-width="1.2"/><path d="M187.73 173.98L188.51 170.29L191.07 172.23Z" fill="#111"/>
<path d="M192.64 180.42L189.54 183.62" stroke="#111" stroke-width="1.2"/><path d="M187.64 185.58L188.80 182.21L190.97 184.32Z" fill="#111"/>
<path d="M192.74 193.70L189.64 195.61" stroke="#111" stroke-width="1.2"/><path d="M187.54 196.90L189.34 194.16L190.80 196.53Z" fill="#111"/>
<path d="M192.96 205.00L189.55 206.94" stroke="#111" stroke-width="1.2"/><path d="M187.32 208.20L189.27 205.44L190.69 207.94Z" fill="#111"/>
<path d="M193.14 214.60L189.46 216.56" stroke="#111" stroke-width="1.2"/><path d="M187.14 217.80L189.21 215.03L190.60 217.62Z" fill="#111"/>
<path d="M193.14 222.12L189.47 224.06" stroke="#111" stroke-width="1.2"/><path d="M187.14 225.28L189.22 222.52L190.59 225.12Z" fill="#111"/>
<path d="M193.14 228.58L189.56 229.32" stroke="#111" stroke-width="1.2"/><path d="M187.14 229.82L189.77 227.85L190.33 230.59Z" fill="#111"/>
<path d="M193.14 237.00L189.58 237.00" stroke="#111" stroke-width="1.2"/><path d="M187.14 237.00L190.08 235.62L190.08 238.38Z" fill="#111"/>
<path d="M192.67 242.60L189.82 242.60" stroke="#111" stroke-width="1.2"/><path d="M187.61 242.60L190.32 241.32L190.32 243.88Z" fill="#111"/>
<path d="M197.49 72.30L196.88 72.30" stroke="#111" stroke-width="1.2"/><path d="M195.37 72.30L197.38 71.36L197.38 73.24Z" fill="#111"/>
<path d="M199.52 84.27L195.82 84.31" stroke="#111" stroke-width="1.2"/><path d="M193.34 84.33L196.31 82.90L196.34 85.70Z" fill="#111"/>
<path d="M194.93 94.75L196.44 96.01" stroke="#111" stroke-width="1.2"/><path d="M197.93 97.25L195.32 96.57L196.79 94.81Z" fill="#111"/>
<path d="M198.23 105.79L196.13 108.37" stroke="#111" stroke-width="1.2"/><path d="M194.63 110.21L195.39 107.14L197.49 108.84Z" fill="#111"/>
<path d="M198.93 119.94L196.04 121.28" stroke="#111" stroke-width="1.2"/><path d="M193.93 122.26L195.93 119.87L197.05 122.27Z" fill="#111"/>
<path d="M198.73 132.41L196.12 133.76" stroke="#111" stroke-width="1.2"/><path d="M194.13 134.79L195.97 132.38L197.16 134.67Z" fill="#111"/>
<path d="M198.73 144.25L196.01 146.43" stroke="#111" stroke-width="1.2"/><path d="M194.13 147.95L195.54 145.05L197.26 147.19Z" fill="#111"/>
<path d="M198.73 156.39L195.99 158.79" stroke="#111" stroke-width="1.2"/><path d="M194.13 160.41L195.44 157.41L197.28 159.51Z" fill="#111"/>
<path d="M198.73 169.14L196.05 171.08" stroke="#111" stroke-width="1.2"/><path d="M194.13 172.46L195.66 169.70L197.24 171.87Z" fill="#111"/>
<path d="M198.93 181.40L195.97 183.29" stroke="#111" stroke-width="1.2"/><path d="M193.93 184.60L195.65 181.87L197.13 184.18Z" fill="#111"/>
<path d="M199.14 193.70L195.88 195.62" stroke="#111" stroke-width="1.2"/><path d="M193.72 196.90L195.59 194.15L197.03 196.59Z" fill="#111"/>
<path d="M199.30 205.00L195.81 206.94" stroke="#111" stroke-width="1.2"/><path d="M193.56 208.20L195.54 205.44L196.95 207.96Z" fill="#111"/>
<path d="M199.43 214.60L195.75 216.56" stroke="#111" stroke-width="1.2"/><path d="M193.43 217.80L195.50 215.03L196.89 217.62Z" fill="#111"/>
<path d="M199.43 222.10L195.75 224.06" stroke="#111" stroke-width="1.2"/><path d="M193.43 225.30L195.50 222.53L196.89 225.12Z" fill="#111"/>
<path d="M199.43 227.85L195.78 229.49" stroke="#111" stroke-width="1.2"/><path d="M193.43 230.55L195.65 227.97L196.83 230.61Z" fill="#111"/>
<path d="M199.43 237.00L195.87 237.00" stroke="#111" stroke-width="1.2"/><path d="M193.43 237.00L196.37 235.62L196.37 238.38Z" fill="#111"/>
<path d="M198.96 242.60L196.11 242.60" stroke="#111" stroke-width="1.2"/><path d="M193.90 242.60L196.61 241.32L196.61 243.88Z" fill="#111"/>
<path d="M203.78 72.30L203.17 72.30" stroke="#111" stroke-width="1.2"/><path d="M201.66 72.30L203.67 71.36L203.67 73.24Z" fill="#111"/>
<path d="M205.91 84.27L202.06 84.31" stroke="#111" stroke-width="1.2"/><path d="M199.52 84.33L202.54 82.88L202.57 85.73Z" fill="#111"/>
<path d="M201.22 94.75L202.73 96.01" stroke="#111" stroke-width="1.2"/><path d="M204.22 97.25L201.61 96.57L203.08 94.81Z" fill="#111"/>
<path d="M204.40 106.00L202.49 108.27" stroke="#111" stroke-width="1.2"/><path d="M201.04 110.00L201.82 107.06L203.80 108.73Z" fill="#111"/>
<path d="M205.22 120.92L202.42 121.12" stroke="#111" stroke-width="1.2"/><path d="M200.22 121.28L202.82 119.82L203.01 122.35Z" fill="#111"/>
<path d="M205.53 134.85L202.17 133.36" stroke="#111" stroke-width="1.2"/><path d="M199.91 132.35L203.20 132.28L202.06 134.84Z" fill="#111"/>
<path d="M205.51 147.31L202.19 145.87" stroke="#111" stroke-width="1.2"/><path d="M199.93 144.89L203.20 144.79L202.09 147.34Z" fill="#111"/>
<path d="M204.98 158.56L202.54 158.39" stroke="#111" stroke-width="1.2"/><path d="M200.46 158.24L203.12 157.21L202.96 159.64Z" fill="#111"/>
<path d="M204.90 170.79L202.58 170.80" stroke="#111" stroke-width="1.2"/><path d="M200.54 170.81L203.08 169.60L203.09 172.00Z" fill="#111"/>
<path d="M205.22 182.87L202.42 183.02" stroke="#111" stroke-width="1.2"/><path d="M200.22 183.13L202.85 181.72L202.99 184.26Z" fill="#111"/>
<path d="M205.54 194.60L202.22 195.42" stroke="#111" stroke-width="1.2"/><path d="M199.90 196.00L202.38 193.98L203.03 196.62Z" fill="#111"/>
<path d="M205.64 205.37L202.12 206.85" stroke="#111" stroke-width="1.2"/><path d="M199.80 207.83L202.03 205.35L203.13 207.96Z" fill="#111"/>
<path d="M205.72 214.80L202.07 216.50" stroke="#111" stroke-width="1.2"/><path d="M199.72 217.60L201.91 214.98L203.13 217.61Z" fill="#111"/>
<path d="M205.72 223.05L202.14 223.83" stroke="#111" stroke-width="1.2"/><path d="M199.72 224.35L202.33 222.35L202.92 225.09Z" fill="#111"/>
<path d="M205.72 229.16L202.16 229.21" stroke="#111" stroke-width="1.2"/><path d="M199.72 229.24L202.64 227.82L202.68 230.58Z" fill="#111"/>
<path d="M205.72 237.00L202.16 237.00" stroke="#111" stroke-width="1.2"/><path d="M199.72 237.00L202.66 235.62L202.66 238.38Z" fill="#111"/>
<path d="M205.25 242.60L202.40 242.60" stroke="#111" stroke-width="1.2"/><path d="M200.19 242.60L202.90 241.32L202.90 243.88Z" fill="#111"/>
<path d="M210.07 72.30L209.46 72.30" stroke="#111" stroke-width="1.2"/><path d="M207.95 72.30L209.96 71.36L209.96 73.24Z" fill="#111"/>
<path d="M212.31 84.27L208.29 84.31" stroke="#111" stroke-width="1.2"/><path d="M205.70 84.33L208.77 82.85L208.80 85.75Z" fill="#111"/>
<path d="M207.51 94.75L209.02 96.01" stroke="#111" stroke-width="1.2"/><path d="M210.51 97.25L207.90 96.57L209.37 94.81Z" fill="#111"/>
<path d="M210.58 106.00L208.81 108.25" stroke="#111" stroke-width="1.2"/><path d="M207.44 110.00L208.11 107.07L210.12 108.65Z" fill="#111"/>
<path d="M211.50 121.03L208.71 121.11" stroke="#111" stroke-width="1.2"/><path d="M206.51 121.17L209.17 119.83L209.24 122.36Z" fill="#111"/>
<path d="M211.41 134.26L208.72 133.52" stroke="#111" stroke-width="1.2"/><path d="M206.60 132.94L209.54 132.43L208.87 134.88Z" fill="#111"/>
<path d="M211.55 147.04L208.62 145.96" stroke="#111" stroke-width="1.2"/><path d="M206.47 145.16L209.55 144.90L208.64 147.37Z" fill="#111"/>
<path d="M211.13 158.50L208.90 158.40" stroke="#111" stroke-width="1.2"/><path d="M206.89 158.30L209.46 157.24L209.35 159.60Z" fill="#111"/>
<path d="M211.08 170.80L208.93 170.80" stroke="#111" stroke-width="1.2"/><path d="M206.94 170.80L209.43 169.63L209.43 171.97Z" fill="#111"/>
<path d="M211.51 183.00L208.71 183.00" stroke="#111" stroke-width="1.2"/><path d="M206.51 183.00L209.21 181.73L209.21 184.27Z" fill="#111"/>
<path d="M211.94 195.30L208.48 195.30" stroke="#111" stroke-width="1.2"/><path d="M206.08 195.30L208.98 193.93L208.98 196.67Z" fill="#111"/>
<path d="M211.98 206.60L208.46 206.60" stroke="#111" stroke-width="1.2"/><path d="M206.04 206.60L208.96 205.23L208.96 207.97Z" fill="#111"/>
<path d="M212.01 216.20L208.45 216.20" stroke="#111" stroke-width="1.2"/><path d="M206.01 216.20L208.95 214.82L208.95 217.58Z" fill="#111"/>
<path d="M212.01 223.70L208.45 223.70" stroke="#111" stroke-width="1.2"/><path d="M206.01 223.70L208.95 222.32L208.95 225.08Z" fill="#111"/>
<path d="M212.01 229.20L208.45 229.20" stroke="#111" stroke-width="1.2"/><path d="M206.01 229.20L208.95 227.82L208.95 230.58Z" fill="#111"/>
<path d="M212.01 237.00L208.45 237.00" stroke="#111" stroke-width="1.2"/><path d="M206.01 237.00L208.95 235.62L208.95 238.38Z" fill="#111"/>
<path d="M211.54 242.60L208.69 242.60" stroke="#111" stroke-width="1.2"/><path d="M206.47 242.60L209.19 241.32L209.19 243.88Z" fill="#111"/>
</g><g clip-path="url(#cbx)">
<path d="M294.39 72.28L294.49 72.28" stroke="#111" stroke-width="1.2"/><path d="M293.21 72.32L294.97 71.42L295.02 73.10Z" fill="#111"/>
<path d="M297.81 83.54L292.70 84.51" stroke="#111" stroke-width="1.2"/><path d="M289.79 85.06L292.89 82.82L293.49 86.01Z" fill="#111"/>
<path d="M298.30 95.00L292.44 96.30" stroke="#111" stroke-width="1.2"/><path d="M289.30 97.00L292.55 94.49L293.30 97.90Z" fill="#111"/>
<path d="M298.80 106.50L292.06 108.52" stroke="#111" stroke-width="1.2"/><path d="M288.80 109.50L292.01 106.62L293.06 110.14Z" fill="#111"/>
<path d="M297.29 120.75L292.98 121.18" stroke="#111" stroke-width="1.2"/><path d="M290.31 121.45L293.33 119.64L293.63 122.62Z" fill="#111"/>
<path d="M296.54 138.66L292.68 131.53" stroke="#111" stroke-width="1.2"/><path d="M291.06 128.54L294.53 131.10L291.31 132.84Z" fill="#111"/>
<path d="M295.79 152.55L292.81 142.90" stroke="#111" stroke-width="1.2"/><path d="M291.81 139.65L294.71 142.84L291.21 143.92Z" fill="#111"/>
<path d="M295.55 165.25L292.89 154.84" stroke="#111" stroke-width="1.2"/><path d="M292.05 151.55L294.79 154.87L291.24 155.78Z" fill="#111"/>
<path d="M295.31 177.90L293.00 167.03" stroke="#111" stroke-width="1.2"/><path d="M292.29 163.70L294.90 167.14L291.31 167.90Z" fill="#111"/>
<path d="M295.31 190.17L292.99 179.16" stroke="#111" stroke-width="1.2"/><path d="M292.29 175.83L294.89 179.27L291.30 180.03Z" fill="#111"/>
<path d="M295.31 202.55L292.98 191.38" stroke="#111" stroke-width="1.2"/><path d="M292.29 188.05L294.88 191.50L291.29 192.25Z" fill="#111"/>
<path d="M295.31 213.88L292.98 202.65" stroke="#111" stroke-width="1.2"/><path d="M292.29 199.32L294.88 202.77L291.29 203.51Z" fill="#111"/>
<path d="M295.31 223.43L292.99 212.29" stroke="#111" stroke-width="1.2"/><path d="M292.29 208.97L294.88 212.41L291.29 213.16Z" fill="#111"/>
<path d="M295.31 230.56L293.02 220.16" stroke="#111" stroke-width="1.2"/><path d="M292.29 216.84L294.92 220.26L291.34 221.04Z" fill="#111"/>
<path d="M295.31 235.79L293.05 225.92" stroke="#111" stroke-width="1.2"/><path d="M292.29 222.61L294.95 226.00L291.38 226.82Z" fill="#111"/>
<path d="M295.30 242.96L293.13 234.33" stroke="#111" stroke-width="1.2"/><path d="M292.30 231.04L295.03 234.37L291.47 235.27Z" fill="#111"/>
<path d="M295.30 247.94L293.22 240.54" stroke="#111" stroke-width="1.2"/><path d="M292.30 237.26L295.12 240.52L291.59 241.51Z" fill="#111"/>
<path d="M300.68 72.28L300.79 72.28" stroke="#111" stroke-width="1.2"/><path d="M299.51 72.32L301.26 71.42L301.31 73.10Z" fill="#111"/>
<path d="M304.11 83.54L298.99 84.51" stroke="#111" stroke-width="1.2"/><path d="M296.08 85.06L299.18 82.82L299.78 86.01Z" fill="#111"/>
<path d="M304.59 95.00L298.73 96.30" stroke="#111" stroke-width="1.2"/><path d="M295.59 97.00L298.84 94.49L299.60 97.90Z" fill="#111"/>
<path d="M305.09 105.44L298.12 109.01" stroke="#111" stroke-width="1.2"/><path d="M295.09 110.56L297.73 107.15L299.40 110.41Z" fill="#111"/>
<path d="M303.70 116.73L298.65 122.85" stroke="#111" stroke-width="1.2"/><path d="M296.48 125.47L297.55 121.30L300.38 123.63Z" fill="#111"/>
<path d="M302.95 127.34L298.64 136.77" stroke="#111" stroke-width="1.2"/><path d="M297.23 139.86L297.18 135.55L300.52 137.08Z" fill="#111"/>
<path d="M302.21 140.24L299.13 148.76" stroke="#111" stroke-width="1.2"/><path d="M297.98 151.96L297.58 147.67L301.03 148.91Z" fill="#111"/>
<path d="M301.85 152.64L299.33 160.91" stroke="#111" stroke-width="1.2"/><path d="M298.34 164.16L297.72 159.90L301.23 160.96Z" fill="#111"/>
<path d="M301.48 168.10L299.83 171.32" stroke="#111" stroke-width="1.2"/><path d="M298.70 173.50L298.82 170.24L301.29 171.51Z" fill="#111"/>
<path d="M301.42 180.76L299.91 183.30" stroke="#111" stroke-width="1.2"/><path d="M298.77 185.24L299.06 182.22L301.28 183.53Z" fill="#111"/>
<path d="M301.36 194.29L300.22 195.20" stroke="#111" stroke-width="1.2"/><path d="M298.83 196.31L299.94 194.05L301.27 195.73Z" fill="#111"/>
<path d="M301.36 208.28L300.04 206.53" stroke="#111" stroke-width="1.2"/><path d="M298.83 204.92L301.28 206.21L299.40 207.63Z" fill="#111"/>
<path d="M301.36 218.41L299.93 215.92" stroke="#111" stroke-width="1.2"/><path d="M298.83 213.99L301.29 215.72L299.07 216.99Z" fill="#111"/>
<path d="M301.40 225.50L300.00 223.57" stroke="#111" stroke-width="1.2"/><path d="M298.78 221.90L301.27 223.27L299.32 224.69Z" fill="#111"/>
<path d="M301.43 229.70L300.33 229.29" stroke="#111" stroke-width="1.2"/><path d="M298.75 228.70L301.16 228.50L300.44 230.43Z" fill="#111"/>
<path d="M301.48 236.47L300.31 236.92" stroke="#111" stroke-width="1.2"/><path d="M298.71 237.53L300.40 235.77L301.15 237.71Z" fill="#111"/>
<path d="M301.58 242.62L300.32 242.60" stroke="#111" stroke-width="1.2"/><path d="M298.60 242.58L300.83 241.57L300.80 243.65Z" fill="#111"/>
<path d="M306.97 72.28L307.08 72.28" stroke="#111" stroke-width="1.2"/><path d="M305.80 72.32L307.55 71.42L307.61 73.10Z" fill="#111"/>
<path d="M310.40 83.54L305.28 84.51" stroke="#111" stroke-width="1.2"/><path d="M302.37 85.06L305.47 82.82L306.07 86.01Z" fill="#111"/>
<path d="M310.88 95.00L305.02 96.30" stroke="#111" stroke-width="1.2"/><path d="M301.88 97.00L305.13 94.49L305.89 97.90Z" fill="#111"/>
<path d="M311.38 105.71L304.48 108.87" stroke="#111" stroke-width="1.2"/><path d="M301.38 110.29L304.17 107.00L305.69 110.33Z" fill="#111"/>
<path d="M310.12 117.42L305.07 122.40" stroke="#111" stroke-width="1.2"/><path d="M302.65 124.78L304.14 120.74L306.72 123.35Z" fill="#111"/>
<path d="M309.37 127.34L304.87 136.79" stroke="#111" stroke-width="1.2"/><path d="M303.40 139.86L303.43 135.55L306.74 137.12Z" fill="#111"/>
<path d="M308.62 139.77L305.28 149.23" stroke="#111" stroke-width="1.2"/><path d="M304.15 152.43L303.72 148.15L307.18 149.37Z" fill="#111"/>
<path d="M308.14 151.90L305.52 161.62" stroke="#111" stroke-width="1.2"/><path d="M304.63 164.90L303.88 160.66L307.42 161.61Z" fill="#111"/>
<path d="M307.65 164.33L305.77 173.93" stroke="#111" stroke-width="1.2"/><path d="M305.12 177.27L304.07 173.09L307.67 173.79Z" fill="#111"/>
<path d="M307.53 176.79L305.86 185.87" stroke="#111" stroke-width="1.2"/><path d="M305.24 189.21L304.15 185.05L307.75 185.71Z" fill="#111"/>
<path d="M307.41 189.16L305.92 198.08" stroke="#111" stroke-width="1.2"/><path d="M305.36 201.44L304.19 197.29L307.81 197.89Z" fill="#111"/>
<path d="M307.41 204.07L306.23 206.99" stroke="#111" stroke-width="1.2"/><path d="M305.36 209.13L305.19 206.03L307.64 207.02Z" fill="#111"/>
<path d="M307.41 215.73L306.76 216.03" stroke="#111" stroke-width="1.2"/><path d="M305.36 216.67L306.81 214.95L307.62 216.69Z" fill="#111"/>
<path d="M307.50 218.33L305.96 225.74" stroke="#111" stroke-width="1.2"/><path d="M305.27 229.07L304.27 224.88L307.86 225.63Z" fill="#111"/>
<path d="M307.56 223.52L305.90 231.55" stroke="#111" stroke-width="1.2"/><path d="M305.21 234.88L304.21 230.69L307.80 231.43Z" fill="#111"/>
<path d="M307.65 231.86L305.93 238.83" stroke="#111" stroke-width="1.2"/><path d="M305.12 242.14L304.27 237.91L307.83 238.79Z" fill="#111"/>
<path d="M307.87 242.58L306.61 242.60" stroke="#111" stroke-width="1.2"/><path d="M304.90 242.62L307.10 241.55L307.13 243.63Z" fill="#111"/>
<path d="M313.26 72.28L313.37 72.28" stroke="#111" stroke-width="1.2"/><path d="M312.09 72.32L313.84 71.42L313.90 73.10Z" fill="#111"/>
<path d="M316.69 83.54L311.57 84.51" stroke="#111" stroke-width="1.2"/><path d="M308.67 85.06L311.76 82.82L312.37 86.01Z" fill="#111"/>
<path d="M317.18 95.00L311.31 96.30" stroke="#111" stroke-width="1.2"/><path d="M308.18 97.00L311.42 94.49L312.18 97.90Z" fill="#111"/>
<path d="M317.68 106.48L310.93 108.53" stroke="#111" stroke-width="1.2"/><path d="M307.68 109.52L310.88 106.63L311.94 110.14Z" fill="#111"/>
<path d="M316.53 119.58L311.60 121.52" stroke="#111" stroke-width="1.2"/><path d="M308.82 122.62L311.47 119.81L312.67 122.87Z" fill="#111"/>
<path d="M315.78 127.11L311.04 137.02" stroke="#111" stroke-width="1.2"/><path d="M309.57 140.09L309.60 135.78L312.91 137.36Z" fill="#111"/>
<path d="M315.03 140.03L311.55 149.00" stroke="#111" stroke-width="1.2"/><path d="M310.32 152.17L310.02 147.87L313.44 149.20Z" fill="#111"/>
<path d="M314.43 151.65L311.78 161.86" stroke="#111" stroke-width="1.2"/><path d="M310.92 165.15L310.13 160.92L313.68 161.84Z" fill="#111"/>
<path d="M313.83 163.80L312.08 174.44" stroke="#111" stroke-width="1.2"/><path d="M311.53 177.80L310.35 173.65L313.97 174.25Z" fill="#111"/>
<path d="M313.64 176.00L312.18 186.63" stroke="#111" stroke-width="1.2"/><path d="M311.72 190.00L310.43 185.89L314.06 186.39Z" fill="#111"/>
<path d="M313.46 188.30L312.27 198.92" stroke="#111" stroke-width="1.2"/><path d="M311.90 202.30L310.51 198.22L314.15 198.63Z" fill="#111"/>
<path d="M313.46 199.63L312.27 210.19" stroke="#111" stroke-width="1.2"/><path d="M311.90 213.57L310.51 209.49L314.15 209.90Z" fill="#111"/>
<path d="M313.46 209.35L312.28 219.68" stroke="#111" stroke-width="1.2"/><path d="M311.89 223.05L310.52 218.97L314.16 219.39Z" fill="#111"/>
<path d="M313.59 216.92L312.22 227.11" stroke="#111" stroke-width="1.2"/><path d="M311.76 230.48L310.47 226.37L314.10 226.86Z" fill="#111"/>
<path d="M313.68 222.52L312.18 232.51" stroke="#111" stroke-width="1.2"/><path d="M311.67 235.88L310.44 231.75L314.06 232.29Z" fill="#111"/>
<path d="M313.82 230.89L312.16 239.77" stroke="#111" stroke-width="1.2"/><path d="M311.54 243.11L310.45 238.94L314.05 239.62Z" fill="#111"/>
<path d="M314.15 242.51L312.91 242.59" stroke="#111" stroke-width="1.2"/><path d="M311.20 242.69L313.34 241.52L313.47 243.59Z" fill="#111"/>
<path d="M319.56 72.28L319.66 72.28" stroke="#111" stroke-width="1.2"/><path d="M318.38 72.32L320.14 71.42L320.19 73.10Z" fill="#111"/>
<path d="M322.98 83.54L317.87 84.51" stroke="#111" stroke-width="1.2"/><path d="M314.96 85.06L318.06 82.82L318.66 86.01Z" fill="#111"/>
<path d="M323.47 95.00L317.61 96.30" stroke="#111" stroke-width="1.2"/><path d="M314.47 97.00L317.72 94.49L318.47 97.90Z" fill="#111"/>
<path d="M323.97 105.23L316.94 109.12" stroke="#111" stroke-width="1.2"/><path d="M313.97 110.77L316.49 107.28L318.27 110.48Z" fill="#111"/>
<path d="M322.94 116.24L317.15 123.33" stroke="#111" stroke-width="1.2"/><path d="M315.00 125.96L316.04 121.78L318.88 124.10Z" fill="#111"/>
<path d="M322.19 127.10L317.26 137.06" stroke="#111" stroke-width="1.2"/><path d="M315.75 140.10L315.84 135.79L319.12 137.42Z" fill="#111"/>
<path d="M321.44 139.60L317.71 149.42" stroke="#111" stroke-width="1.2"/><path d="M316.50 152.60L316.17 148.30L319.60 149.60Z" fill="#111"/>
<path d="M320.73 151.40L318.04 162.10" stroke="#111" stroke-width="1.2"/><path d="M317.21 165.40L316.39 161.17L319.94 162.06Z" fill="#111"/>
<path d="M320.00 163.80L318.43 174.44" stroke="#111" stroke-width="1.2"/><path d="M317.94 177.80L316.69 173.67L320.32 174.21Z" fill="#111"/>
<path d="M319.75 176.00L318.57 186.62" stroke="#111" stroke-width="1.2"/><path d="M318.19 190.00L316.80 185.92L320.44 186.32Z" fill="#111"/>
<path d="M319.51 188.30L318.69 198.91" stroke="#111" stroke-width="1.2"/><path d="M318.43 202.30L316.90 198.27L320.56 198.55Z" fill="#111"/>
<path d="M319.51 199.60L318.69 210.21" stroke="#111" stroke-width="1.2"/><path d="M318.43 213.60L316.90 209.57L320.56 209.85Z" fill="#111"/>
<path d="M319.51 209.20L318.69 219.81" stroke="#111" stroke-width="1.2"/><path d="M318.43 223.20L316.90 219.17L320.56 219.45Z" fill="#111"/>
<path d="M319.69 216.70L318.60 227.32" stroke="#111" stroke-width="1.2"/><path d="M318.25 230.70L316.83 226.63L320.47 227.01Z" fill="#111"/>
<path d="M319.81 222.20L318.53 232.82" stroke="#111" stroke-width="1.2"/><path d="M318.13 236.20L316.77 232.11L320.41 232.55Z" fill="#111"/>
<path d="M319.99 230.28L318.46 240.36" stroke="#111" stroke-width="1.2"/><path d="M317.95 243.72L316.72 239.59L320.35 240.14Z" fill="#111"/>
<path d="M320.44 242.42L319.20 242.57" stroke="#111" stroke-width="1.2"/><path d="M317.50 242.78L319.57 241.48L319.82 243.54Z" fill="#111"/>
<path d="M325.85 72.28L325.96 72.28" stroke="#111" stroke-width="1.2"/><path d="M324.68 72.32L326.43 71.42L326.48 73.10Z" fill="#111"/>
<path d="M329.27 83.54L324.16 84.51" stroke="#111" stroke-width="1.2"/><path d="M321.25 85.06L324.35 82.82L324.95 86.01Z" fill="#111"/>
<path d="M329.76 94.94L323.90 96.32" stroke="#111" stroke-width="1.2"/><path d="M320.76 97.06L323.98 94.50L324.78 97.91Z" fill="#111"/>
<path d="M330.16 105.87L323.49 108.77" stroke="#111" stroke-width="1.2"/><path d="M320.37 110.13L323.21 106.89L324.68 110.25Z" fill="#111"/>
<path d="M329.15 116.16L323.48 123.37" stroke="#111" stroke-width="1.2"/><path d="M321.37 126.04L322.35 121.84L325.23 124.11Z" fill="#111"/>
<path d="M328.35 126.60L323.55 137.49" stroke="#111" stroke-width="1.2"/><path d="M322.18 140.60L322.07 136.29L325.43 137.77Z" fill="#111"/>
<path d="M327.55 139.18L324.04 149.79" stroke="#111" stroke-width="1.2"/><path d="M322.98 153.02L322.46 148.75L325.94 149.89Z" fill="#111"/>
<path d="M326.91 151.25L324.38 162.23" stroke="#111" stroke-width="1.2"/><path d="M323.61 165.55L322.70 161.33L326.28 162.16Z" fill="#111"/>
<path d="M326.27 163.73L324.73 174.51" stroke="#111" stroke-width="1.2"/><path d="M324.25 177.87L322.99 173.75L326.62 174.27Z" fill="#111"/>
<path d="M326.07 176.26L324.86 186.37" stroke="#111" stroke-width="1.2"/><path d="M324.46 189.74L323.10 185.65L326.74 186.09Z" fill="#111"/>
<path d="M325.87 188.77L324.97 198.45" stroke="#111" stroke-width="1.2"/><path d="M324.66 201.83L323.19 197.78L326.84 198.12Z" fill="#111"/>
<path d="M325.87 200.07L324.97 209.74" stroke="#111" stroke-width="1.2"/><path d="M324.66 213.13L323.19 209.07L326.84 209.41Z" fill="#111"/>
<path d="M325.87 209.65L324.97 219.36" stroke="#111" stroke-width="1.2"/><path d="M324.65 222.75L323.19 218.70L326.84 219.04Z" fill="#111"/>
<path d="M326.01 217.11L324.90 226.91" stroke="#111" stroke-width="1.2"/><path d="M324.51 230.29L323.13 226.21L326.77 226.62Z" fill="#111"/>
<path d="M326.12 222.56L324.84 232.47" stroke="#111" stroke-width="1.2"/><path d="M324.41 235.84L323.09 231.74L326.72 232.20Z" fill="#111"/>
<path d="M326.26 230.45L324.78 240.19" stroke="#111" stroke-width="1.2"/><path d="M324.26 243.55L323.04 239.42L326.66 239.97Z" fill="#111"/>
<path d="M326.73 242.35L325.49 242.56" stroke="#111" stroke-width="1.2"/><path d="M323.80 242.85L325.80 241.45L326.15 243.50Z" fill="#111"/>
<path d="M332.14 72.28L332.25 72.28" stroke="#111" stroke-width="1.2"/><path d="M330.97 72.32L332.72 71.42L332.78 73.10Z" fill="#111"/>
<path d="M335.57 83.54L330.45 84.51" stroke="#111" stroke-width="1.2"/><path d="M327.54 85.06L330.64 82.82L331.24 86.01Z" fill="#111"/>
<path d="M336.06 93.83L330.12 96.69" stroke="#111" stroke-width="1.2"/><path d="M327.06 98.17L329.77 94.83L331.36 98.13Z" fill="#111"/>
<path d="M336.32 104.73L329.59 109.35" stroke="#111" stroke-width="1.2"/><path d="M326.79 111.27L328.97 107.55L331.04 110.57Z" fill="#111"/>
<path d="M335.32 115.68L329.73 123.73" stroke="#111" stroke-width="1.2"/><path d="M327.79 126.52L328.51 122.27L331.52 124.36Z" fill="#111"/>
<path d="M334.45 125.93L329.86 138.09" stroke="#111" stroke-width="1.2"/><path d="M328.66 141.27L328.32 136.97L331.75 138.27Z" fill="#111"/>
<path d="M333.59 138.82L330.44 150.10" stroke="#111" stroke-width="1.2"/><path d="M329.52 153.38L328.81 149.13L332.34 150.11Z" fill="#111"/>
<path d="M333.08 150.98L330.72 162.49" stroke="#111" stroke-width="1.2"/><path d="M330.03 165.82L329.02 161.63L332.61 162.37Z" fill="#111"/>
<path d="M332.56 163.30L331.00 174.93" stroke="#111" stroke-width="1.2"/><path d="M330.55 178.30L329.25 174.19L332.88 174.67Z" fill="#111"/>
<path d="M332.42 175.50L331.08 187.12" stroke="#111" stroke-width="1.2"/><path d="M330.69 190.50L329.32 186.41L332.96 186.84Z" fill="#111"/>
<path d="M332.29 187.82L331.15 199.40" stroke="#111" stroke-width="1.2"/><path d="M330.82 202.78L329.38 198.72L333.03 199.08Z" fill="#111"/>
<path d="M332.29 199.97L331.20 209.85" stroke="#111" stroke-width="1.2"/><path d="M330.82 213.23L329.43 209.15L333.07 209.55Z" fill="#111"/>
<path d="M332.29 209.70L331.20 219.32" stroke="#111" stroke-width="1.2"/><path d="M330.82 222.70L329.44 218.62L333.08 219.03Z" fill="#111"/>
<path d="M332.38 217.20L331.16 226.83" stroke="#111" stroke-width="1.2"/><path d="M330.73 230.20L329.40 226.10L333.04 226.56Z" fill="#111"/>
<path d="M332.46 222.70L331.12 232.33" stroke="#111" stroke-width="1.2"/><path d="M330.65 235.70L329.37 231.59L333.01 232.09Z" fill="#111"/>
<path d="M332.56 230.62L331.08 240.02" stroke="#111" stroke-width="1.2"/><path d="M330.56 243.38L329.35 239.24L332.97 239.81Z" fill="#111"/>
<path d="M333.02 242.35L331.78 242.56" stroke="#111" stroke-width="1.2"/><path d="M330.09 242.85L332.10 241.45L332.45 243.50Z" fill="#111"/>
<path d="M338.44 72.28L338.54 72.28" stroke="#111" stroke-width="1.2"/><path d="M337.26 72.32L339.01 71.42L339.07 73.10Z" fill="#111"/>
<path d="M341.86 83.54L336.74 84.51" stroke="#111" stroke-width="1.2"/><path d="M333.84 85.06L336.93 82.82L337.54 86.01Z" fill="#111"/>
<path d="M342.35 95.00L336.48 96.30" stroke="#111" stroke-width="1.2"/><path d="M333.35 97.00L336.59 94.49L337.35 97.90Z" fill="#111"/>
<path d="M342.49 106.48L336.38 108.48" stroke="#111" stroke-width="1.2"/><path d="M333.20 109.52L336.30 106.61L337.42 110.04Z" fill="#111"/>
<path d="M341.48 119.86L336.90 121.42" stroke="#111" stroke-width="1.2"/><path d="M334.21 122.34L336.87 119.77L337.88 122.75Z" fill="#111"/>
<path d="M340.55 127.56L336.53 136.54" stroke="#111" stroke-width="1.2"/><path d="M335.14 139.64L335.06 135.33L338.41 136.83Z" fill="#111"/>
<path d="M339.63 140.43L337.08 148.53" stroke="#111" stroke-width="1.2"/><path d="M336.06 151.77L335.49 147.50L338.98 148.60Z" fill="#111"/>
<path d="M339.24 152.01L337.18 161.47" stroke="#111" stroke-width="1.2"/><path d="M336.45 164.79L335.49 160.59L339.07 161.37Z" fill="#111"/>
<path d="M338.85 163.80L337.32 174.44" stroke="#111" stroke-width="1.2"/><path d="M336.84 177.80L335.58 173.68L339.21 174.20Z" fill="#111"/>
<path d="M338.78 175.88L337.36 186.75" stroke="#111" stroke-width="1.2"/><path d="M336.92 190.12L335.61 186.02L339.24 186.49Z" fill="#111"/>
<path d="M338.70 188.16L337.40 199.07" stroke="#111" stroke-width="1.2"/><path d="M336.99 202.44L335.64 198.35L339.28 198.79Z" fill="#111"/>
<path d="M338.70 199.63L337.41 210.19" stroke="#111" stroke-width="1.2"/><path d="M336.99 213.57L335.65 209.47L339.29 209.92Z" fill="#111"/>
<path d="M338.71 209.70L337.43 219.33" stroke="#111" stroke-width="1.2"/><path d="M336.99 222.70L335.68 218.59L339.32 219.07Z" fill="#111"/>
<path d="M338.76 217.20L337.41 226.83" stroke="#111" stroke-width="1.2"/><path d="M336.94 230.20L335.66 226.08L339.29 226.59Z" fill="#111"/>
<path d="M338.79 222.70L337.39 232.34" stroke="#111" stroke-width="1.2"/><path d="M336.90 235.70L335.65 231.58L339.28 232.10Z" fill="#111"/>
<path d="M338.85 230.71L337.38 239.93" stroke="#111" stroke-width="1.2"/><path d="M336.85 243.29L335.65 239.15L339.27 239.72Z" fill="#111"/>
<path d="M339.31 242.41L338.08 242.57" stroke="#111" stroke-width="1.2"/><path d="M336.38 242.79L338.44 241.47L338.71 243.53Z" fill="#111"/>
<path d="M344.73 72.28L344.83 72.28" stroke="#111" stroke-width="1.2"/><path d="M343.55 72.32L345.31 71.42L345.36 73.10Z" fill="#111"/>
<path d="M348.15 83.54L343.04 84.51" stroke="#111" stroke-width="1.2"/><path d="M340.13 85.06L343.23 82.82L343.83 86.01Z" fill="#111"/>
<path d="M348.64 94.98L342.78 96.31" stroke="#111" stroke-width="1.2"/><path d="M339.64 97.02L342.88 94.50L343.65 97.90Z" fill="#111"/>
<path d="M348.66 105.55L342.61 108.83" stroke="#111" stroke-width="1.2"/><path d="M339.62 110.45L342.18 106.98L343.93 110.20Z" fill="#111"/>
<path d="M347.65 116.37L342.66 123.10" stroke="#111" stroke-width="1.2"/><path d="M340.63 125.83L341.48 121.61L344.43 123.79Z" fill="#111"/>
<path d="M346.66 127.14L342.86 136.90" stroke="#111" stroke-width="1.2"/><path d="M341.62 140.06L341.33 135.76L344.75 137.09Z" fill="#111"/>
<path d="M345.67 140.10L343.45 148.80" stroke="#111" stroke-width="1.2"/><path d="M342.61 152.10L341.80 147.86L345.35 148.77Z" fill="#111"/>
<path d="M345.41 152.40L343.57 161.07" stroke="#111" stroke-width="1.2"/><path d="M342.87 164.40L341.88 160.21L345.47 160.96Z" fill="#111"/>
<path d="M345.14 164.58L343.68 173.67" stroke="#111" stroke-width="1.2"/><path d="M343.14 177.02L341.95 172.88L345.57 173.47Z" fill="#111"/>
<path d="M345.13 176.03L343.63 186.60" stroke="#111" stroke-width="1.2"/><path d="M343.15 189.97L341.88 185.85L345.51 186.36Z" fill="#111"/>
<path d="M345.12 188.31L343.63 198.92" stroke="#111" stroke-width="1.2"/><path d="M343.16 202.29L341.89 198.17L345.52 198.68Z" fill="#111"/>
<path d="M345.12 199.88L343.65 209.96" stroke="#111" stroke-width="1.2"/><path d="M343.16 213.32L341.91 209.20L345.54 209.73Z" fill="#111"/>
<path d="M345.12 209.75L343.67 219.29" stroke="#111" stroke-width="1.2"/><path d="M343.16 222.65L341.93 218.51L345.56 219.07Z" fill="#111"/>
<path d="M345.13 217.30L343.67 226.74" stroke="#111" stroke-width="1.2"/><path d="M343.15 230.10L341.93 225.97L345.56 226.53Z" fill="#111"/>
<path d="M345.13 222.70L343.66 232.34" stroke="#111" stroke-width="1.2"/><path d="M343.15 235.70L341.92 231.57L345.55 232.12Z" fill="#111"/>
<path d="M345.14 230.91L343.69 239.74" stroke="#111" stroke-width="1.2"/><path d="M343.14 243.09L341.96 238.95L345.58 239.54Z" fill="#111"/>
<path d="M345.61 242.49L344.37 242.58" stroke="#111" stroke-width="1.2"/><path d="M342.67 242.71L344.80 241.51L344.95 243.58Z" fill="#111"/>
<path d="M351.02 72.28L351.13 72.28" stroke="#111" stroke-width="1.2"/><path d="M349.85 72.32L351.60 71.43L351.65 73.10Z" fill="#111"/>
<path d="M354.44 83.60L349.33 84.49" stroke="#111" stroke-width="1.2"/><path d="M346.42 85.00L349.55 82.81L350.10 86.01Z" fill="#111"/>
<path d="M354.82 94.74L349.11 96.38" stroke="#111" stroke-width="1.2"/><path d="M346.04 97.26L349.11 94.57L350.07 97.91Z" fill="#111"/>
<path d="M354.82 104.96L348.84 109.11" stroke="#111" stroke-width="1.2"/><path d="M346.04 111.04L348.20 107.31L350.29 110.33Z" fill="#111"/>
<path d="M353.71 116.43L349.11 122.98" stroke="#111" stroke-width="1.2"/><path d="M347.16 125.77L347.90 121.52L350.90 123.63Z" fill="#111"/>
<path d="M352.82 127.45L349.28 136.58" stroke="#111" stroke-width="1.2"/><path d="M348.05 139.75L347.75 135.46L351.17 136.78Z" fill="#111"/>
<path d="M351.93 142.06L350.00 147.26" stroke="#111" stroke-width="1.2"/><path d="M348.93 150.14L348.60 146.21L351.75 147.38Z" fill="#111"/>
<path d="M351.68 152.88L349.93 160.61" stroke="#111" stroke-width="1.2"/><path d="M349.18 163.92L348.25 159.72L351.83 160.53Z" fill="#111"/>
<path d="M351.44 165.08L350.02 173.17" stroke="#111" stroke-width="1.2"/><path d="M349.43 176.52L348.30 172.36L351.91 172.99Z" fill="#111"/>
<path d="M351.43 177.08L350.00 185.56" stroke="#111" stroke-width="1.2"/><path d="M349.43 188.92L348.28 184.76L351.89 185.38Z" fill="#111"/>
<path d="M351.43 189.28L349.99 197.97" stroke="#111" stroke-width="1.2"/><path d="M349.43 201.32L348.26 197.18L351.88 197.78Z" fill="#111"/>
<path d="M351.43 200.60L349.99 209.25" stroke="#111" stroke-width="1.2"/><path d="M349.43 212.60L348.27 208.46L351.88 209.06Z" fill="#111"/>
<path d="M351.43 210.20L349.99 218.84" stroke="#111" stroke-width="1.2"/><path d="M349.43 222.20L348.27 218.05L351.88 218.65Z" fill="#111"/>
<path d="M351.43 217.08L349.94 226.95" stroke="#111" stroke-width="1.2"/><path d="M349.43 230.32L348.20 226.18L351.83 226.73Z" fill="#111"/>
<path d="M351.43 222.36L349.92 232.68" stroke="#111" stroke-width="1.2"/><path d="M349.43 236.04L348.18 231.92L351.81 232.45Z" fill="#111"/>
<path d="M351.43 230.78L349.97 239.86" stroke="#111" stroke-width="1.2"/><path d="M349.43 243.22L348.24 239.08L351.86 239.66Z" fill="#111"/>
<path d="M351.90 242.55L350.67 242.59" stroke="#111" stroke-width="1.2"/><path d="M348.97 242.65L351.14 241.54L351.20 243.61Z" fill="#111"/>
<path d="M357.31 72.28L357.42 72.28" stroke="#111" stroke-width="1.2"/><path d="M356.14 72.32L357.90 71.43L357.94 73.11Z" fill="#111"/>
<path d="M360.73 83.66L355.63 84.47" stroke="#111" stroke-width="1.2"/><path d="M352.72 84.94L355.87 82.80L356.38 86.00Z" fill="#111"/>
<path d="M360.99 95.11L355.49 96.26" stroke="#111" stroke-width="1.2"/><path d="M352.46 96.89L355.63 94.50L356.32 97.81Z" fill="#111"/>
<path d="M360.99 106.24L355.43 108.53" stroke="#111" stroke-width="1.2"/><path d="M352.46 109.76L355.23 106.73L356.56 109.96Z" fill="#111"/>
<path d="M359.75 119.53L356.04 121.46" stroke="#111" stroke-width="1.2"/><path d="M353.70 122.67L355.80 119.92L357.16 122.53Z" fill="#111"/>
<path d="M358.98 136.54L356.16 132.87" stroke="#111" stroke-width="1.2"/><path d="M354.47 130.66L357.69 132.32L355.24 134.20Z" fill="#111"/>
<path d="M358.22 151.96L356.07 143.54" stroke="#111" stroke-width="1.2"/><path d="M355.23 140.24L357.97 143.57L354.42 144.48Z" fill="#111"/>
<path d="M357.98 164.31L356.18 155.81" stroke="#111" stroke-width="1.2"/><path d="M355.47 152.49L358.07 155.92L354.49 156.68Z" fill="#111"/>
<path d="M357.73 176.51L356.31 168.43" stroke="#111" stroke-width="1.2"/><path d="M355.72 165.09L358.20 168.61L354.59 169.24Z" fill="#111"/>
<path d="M357.73 186.37L356.49 182.21" stroke="#111" stroke-width="1.2"/><path d="M355.73 179.63L358.07 182.26L355.20 183.11Z" fill="#111"/>
<path d="M357.73 194.09L356.84 195.16" stroke="#111" stroke-width="1.2"/><path d="M355.73 196.51L356.35 194.10L357.98 195.45Z" fill="#111"/>
<path d="M357.73 201.26L356.35 208.60" stroke="#111" stroke-width="1.2"/><path d="M355.73 211.94L354.64 207.77L358.24 208.45Z" fill="#111"/>
<path d="M357.73 210.85L356.35 218.21" stroke="#111" stroke-width="1.2"/><path d="M355.73 221.55L354.64 217.38L358.24 218.05Z" fill="#111"/>
<path d="M357.73 218.17L356.33 225.88" stroke="#111" stroke-width="1.2"/><path d="M355.73 229.23L354.62 225.06L358.22 225.72Z" fill="#111"/>
<path d="M357.73 223.49L356.31 231.56" stroke="#111" stroke-width="1.2"/><path d="M355.73 234.91L354.59 230.75L358.20 231.39Z" fill="#111"/>
<path d="M357.73 231.47L356.33 239.18" stroke="#111" stroke-width="1.2"/><path d="M355.73 242.53L354.62 238.36L358.22 239.01Z" fill="#111"/>
<path d="M358.19 242.58L356.96 242.60" stroke="#111" stroke-width="1.2"/><path d="M355.26 242.62L357.45 241.55L357.48 243.63Z" fill="#111"/>
<path d="M363.61 72.29L363.71 72.28" stroke="#111" stroke-width="1.2"/><path d="M362.43 72.31L364.19 71.43L364.23 73.11Z" fill="#111"/>
<path d="M367.02 83.72L361.93 84.46" stroke="#111" stroke-width="1.2"/><path d="M359.01 84.88L362.19 82.78L362.65 85.99Z" fill="#111"/>
<path d="M367.16 95.18L361.85 96.23" stroke="#111" stroke-width="1.2"/><path d="M358.88 96.82L362.01 94.51L362.66 97.76Z" fill="#111"/>
<path d="M367.16 106.86L361.83 108.33" stroke="#111" stroke-width="1.2"/><path d="M358.88 109.14L361.87 106.58L362.76 109.81Z" fill="#111"/>
<path d="M365.79 120.10L362.52 121.28" stroke="#111" stroke-width="1.2"/><path d="M360.24 122.10L362.52 119.82L363.45 122.40Z" fill="#111"/>
<path d="M365.15 138.63L362.21 131.70" stroke="#111" stroke-width="1.2"/><path d="M360.88 128.57L364.09 131.44L360.72 132.88Z" fill="#111"/>
<path d="M364.52 152.04L362.35 143.46" stroke="#111" stroke-width="1.2"/><path d="M361.52 140.16L364.25 143.50L360.70 144.39Z" fill="#111"/>
<path d="M364.27 164.38L362.46 155.74" stroke="#111" stroke-width="1.2"/><path d="M361.77 152.42L364.36 155.86L360.77 156.61Z" fill="#111"/>
<path d="M364.02 176.80L362.57 168.16" stroke="#111" stroke-width="1.2"/><path d="M362.01 164.80L364.47 168.35L360.85 168.95Z" fill="#111"/>
<path d="M364.02 188.97L362.58 180.38" stroke="#111" stroke-width="1.2"/><path d="M362.02 177.03L364.47 180.57L360.85 181.18Z" fill="#111"/>
<path d="M364.02 200.62L362.65 193.32" stroke="#111" stroke-width="1.2"/><path d="M362.02 189.98L364.54 193.48L360.94 194.15Z" fill="#111"/>
<path d="M364.02 210.19L362.77 205.70" stroke="#111" stroke-width="1.2"/><path d="M362.02 203.01L364.39 205.76L361.41 206.59Z" fill="#111"/>
<path d="M364.02 218.12L362.96 216.09" stroke="#111" stroke-width="1.2"/><path d="M362.02 214.28L364.25 215.98L362.13 217.09Z" fill="#111"/>
<path d="M364.02 224.87L363.15 223.85" stroke="#111" stroke-width="1.2"/><path d="M362.02 222.53L364.27 223.55L362.67 224.92Z" fill="#111"/>
<path d="M364.02 228.60L363.36 229.00" stroke="#111" stroke-width="1.2"/><path d="M362.02 229.80L363.29 227.91L364.28 229.57Z" fill="#111"/>
<path d="M364.02 233.89L362.80 237.67" stroke="#111" stroke-width="1.2"/><path d="M362.02 240.11L361.58 236.75L364.33 237.63Z" fill="#111"/>
<path d="M364.48 242.60L363.25 242.60" stroke="#111" stroke-width="1.2"/><path d="M361.55 242.60L363.75 241.56L363.76 243.64Z" fill="#111"/>
<path d="M369.90 72.29L370.00 72.29" stroke="#111" stroke-width="1.2"/><path d="M368.72 72.31L370.49 71.44L370.52 73.11Z" fill="#111"/>
<path d="M373.31 83.79L368.22 84.44" stroke="#111" stroke-width="1.2"/><path d="M365.31 84.81L368.51 82.77L368.92 85.98Z" fill="#111"/>
<path d="M373.32 95.24L368.21 96.21" stroke="#111" stroke-width="1.2"/><path d="M365.30 96.76L368.40 94.52L369.00 97.71Z" fill="#111"/>
<path d="M373.32 106.96L368.19 108.29" stroke="#111" stroke-width="1.2"/><path d="M365.30 109.04L368.26 106.58L369.09 109.75Z" fill="#111"/>
<path d="M371.83 119.78L368.88 121.32" stroke="#111" stroke-width="1.2"/><path d="M366.79 122.42L368.70 119.90L369.95 122.29Z" fill="#111"/>
<path d="M371.32 132.98L369.22 133.63" stroke="#111" stroke-width="1.2"/><path d="M367.30 134.22L369.35 132.35L370.05 134.61Z" fill="#111"/>
<path d="M370.81 146.45L369.51 146.15" stroke="#111" stroke-width="1.2"/><path d="M367.81 145.75L370.23 145.23L369.76 147.28Z" fill="#111"/>
<path d="M370.56 159.39L369.44 158.51" stroke="#111" stroke-width="1.2"/><path d="M368.06 157.41L370.50 157.98L369.18 159.65Z" fill="#111"/>
<path d="M370.31 172.29L369.35 170.85" stroke="#111" stroke-width="1.2"/><path d="M368.31 169.31L370.55 170.65L368.70 171.89Z" fill="#111"/>
<path d="M370.31 184.85L369.27 182.92" stroke="#111" stroke-width="1.2"/><path d="M368.31 181.15L370.54 182.80L368.47 183.92Z" fill="#111"/>
<path d="M370.31 199.03L369.05 194.32" stroke="#111" stroke-width="1.2"/><path d="M368.31 191.57L370.70 194.40L367.65 195.22Z" fill="#111"/>
<path d="M370.31 211.99L368.93 204.56" stroke="#111" stroke-width="1.2"/><path d="M368.31 201.21L370.82 204.71L367.22 205.38Z" fill="#111"/>
<path d="M370.31 222.03L368.88 213.72" stroke="#111" stroke-width="1.2"/><path d="M368.31 210.37L370.78 213.90L367.16 214.52Z" fill="#111"/>
<path d="M370.31 229.62L368.88 221.13" stroke="#111" stroke-width="1.2"/><path d="M368.31 217.78L370.77 221.32L367.15 221.93Z" fill="#111"/>
<path d="M370.31 235.08L368.88 226.67" stroke="#111" stroke-width="1.2"/><path d="M368.31 223.32L370.77 226.86L367.16 227.47Z" fill="#111"/>
<path d="M370.31 242.42L368.93 234.92" stroke="#111" stroke-width="1.2"/><path d="M368.31 231.58L370.82 235.08L367.21 235.75Z" fill="#111"/>
<path d="M370.78 242.72L369.54 242.62" stroke="#111" stroke-width="1.2"/><path d="M367.84 242.48L370.13 241.63L369.96 243.69Z" fill="#111"/>
<path d="M376.06 72.28L376.36 72.27" stroke="#111" stroke-width="1.2"/><path d="M375.14 72.32L376.82 71.43L376.90 73.05Z" fill="#111"/>
<path d="M378.93 83.46L374.84 84.49" stroke="#111" stroke-width="1.2"/><path d="M372.28 85.14L374.96 82.94L375.69 85.80Z" fill="#111"/>
<path d="M378.82 94.86L374.87 96.26" stroke="#111" stroke-width="1.2"/><path d="M372.39 97.14L374.85 94.70L375.84 97.48Z" fill="#111"/>
<path d="M378.82 105.27L374.69 108.77" stroke="#111" stroke-width="1.2"/><path d="M372.39 110.73L374.00 107.18L376.15 109.71Z" fill="#111"/>
<path d="M377.76 116.60L374.91 122.54" stroke="#111" stroke-width="1.2"/><path d="M373.44 125.60L373.48 121.30L376.78 122.88Z" fill="#111"/>
<path d="M377.38 127.39L374.76 136.54" stroke="#111" stroke-width="1.2"/><path d="M373.83 139.81L373.14 135.56L376.66 136.56Z" fill="#111"/>
<path d="M376.99 140.18L374.99 148.71" stroke="#111" stroke-width="1.2"/><path d="M374.22 152.02L373.32 147.80L376.89 148.64Z" fill="#111"/>
<path d="M376.80 152.64L375.10 160.83" stroke="#111" stroke-width="1.2"/><path d="M374.41 164.16L373.41 159.97L376.99 160.71Z" fill="#111"/>
<path d="M376.61 165.18L375.20 173.07" stroke="#111" stroke-width="1.2"/><path d="M374.60 176.42L373.48 172.25L377.09 172.90Z" fill="#111"/>
<path d="M376.60 180.21L375.42 183.51" stroke="#111" stroke-width="1.2"/><path d="M374.60 185.79L374.30 182.57L376.88 183.50Z" fill="#111"/>
<path d="M376.60 192.66L375.44 195.74" stroke="#111" stroke-width="1.2"/><path d="M374.60 197.94L374.36 194.80L376.87 195.75Z" fill="#111"/>
<path d="M376.60 203.93L375.43 207.05" stroke="#111" stroke-width="1.2"/><path d="M374.60 209.27L374.35 206.11L376.87 207.06Z" fill="#111"/>
<path d="M376.60 214.42L375.57 216.25" stroke="#111" stroke-width="1.2"/><path d="M374.60 217.98L374.80 215.25L376.83 216.39Z" fill="#111"/>
<path d="M376.60 223.63L376.08 223.67" stroke="#111" stroke-width="1.2"/><path d="M374.60 223.77L376.52 222.71L376.64 224.56Z" fill="#111"/>
<path d="M376.60 230.55L375.68 229.30" stroke="#111" stroke-width="1.2"/><path d="M374.60 227.85L376.85 229.06L375.10 230.35Z" fill="#111"/>
<path d="M376.60 238.50L375.64 237.05" stroke="#111" stroke-width="1.2"/><path d="M374.60 235.50L376.84 236.85L374.99 238.08Z" fill="#111"/>
<path d="M377.07 242.61L375.84 242.60" stroke="#111" stroke-width="1.2"/><path d="M374.14 242.59L376.35 241.57L376.33 243.64Z" fill="#111"/>

<path d="M384.46 83.08L381.46 84.51" stroke="#111" stroke-width="1.2"/><path d="M379.33 85.52L381.34 83.08L382.49 85.51Z" fill="#111"/>
<path d="M384.23 94.41L381.51 96.26" stroke="#111" stroke-width="1.2"/><path d="M379.56 97.59L381.16 94.87L382.68 97.09Z" fill="#111"/>
<path d="M384.23 105.11L381.31 108.72" stroke="#111" stroke-width="1.2"/><path d="M379.56 110.89L380.42 107.37L382.82 109.31Z" fill="#111"/>
<path d="M383.68 116.51L381.33 122.56" stroke="#111" stroke-width="1.2"/><path d="M380.11 125.69L379.82 121.43L383.20 122.75Z" fill="#111"/>
<path d="M383.42 126.98L381.14 136.90" stroke="#111" stroke-width="1.2"/><path d="M380.37 140.22L379.46 136.01L383.03 136.83Z" fill="#111"/>
<path d="M383.16 139.62L381.28 149.24" stroke="#111" stroke-width="1.2"/><path d="M380.63 152.58L379.58 148.40L383.18 149.10Z" fill="#111"/>
<path d="M383.03 152.15L381.37 161.31" stroke="#111" stroke-width="1.2"/><path d="M380.76 164.65L379.65 160.49L383.26 161.14Z" fill="#111"/>
<path d="M382.90 164.82L381.46 173.42" stroke="#111" stroke-width="1.2"/><path d="M380.89 176.78L379.73 172.63L383.35 173.23Z" fill="#111"/>
<path d="M382.89 177.02L381.46 185.62" stroke="#111" stroke-width="1.2"/><path d="M380.89 188.98L379.73 184.83L383.35 185.43Z" fill="#111"/>
<path d="M382.89 189.32L381.46 197.92" stroke="#111" stroke-width="1.2"/><path d="M380.89 201.28L379.73 197.13L383.35 197.73Z" fill="#111"/>
<path d="M382.89 200.62L381.46 209.22" stroke="#111" stroke-width="1.2"/><path d="M380.89 212.58L379.73 208.43L383.35 209.03Z" fill="#111"/>
<path d="M382.89 210.23L381.46 218.82" stroke="#111" stroke-width="1.2"/><path d="M380.89 222.17L379.73 218.02L383.35 218.63Z" fill="#111"/>
<path d="M382.89 217.90L381.47 226.15" stroke="#111" stroke-width="1.2"/><path d="M380.89 229.50L379.75 225.34L383.36 225.97Z" fill="#111"/>
<path d="M382.89 223.55L381.49 231.50" stroke="#111" stroke-width="1.2"/><path d="M380.89 234.85L379.77 230.69L383.38 231.33Z" fill="#111"/>
<path d="M382.89 236.44L382.25 236.80" stroke="#111" stroke-width="1.2"/><path d="M380.89 237.56L382.21 235.72L383.15 237.40Z" fill="#111"/>
<path d="M383.36 242.60L382.13 242.60" stroke="#111" stroke-width="1.2"/><path d="M380.43 242.60L382.63 241.56L382.63 243.64Z" fill="#111"/>

<path d="M390.00 82.70L388.00 84.47" stroke="#111" stroke-width="1.2"/><path d="M386.38 85.90L387.54 83.20L389.20 85.07Z" fill="#111"/>
<path d="M389.64 93.98L388.01 96.24" stroke="#111" stroke-width="1.2"/><path d="M386.73 98.02L387.28 95.09L389.34 96.57Z" fill="#111"/>
<path d="M389.64 104.99L387.87 108.67" stroke="#111" stroke-width="1.2"/><path d="M386.73 111.01L386.77 107.58L389.40 108.85Z" fill="#111"/>
<path d="M389.60 116.87L387.77 122.35" stroke="#111" stroke-width="1.2"/><path d="M386.78 125.33L386.31 121.34L389.55 122.42Z" fill="#111"/>
<path d="M389.46 126.92L387.55 136.94" stroke="#111" stroke-width="1.2"/><path d="M386.92 140.28L385.84 136.11L389.45 136.79Z" fill="#111"/>
<path d="M389.32 139.37L387.62 149.47" stroke="#111" stroke-width="1.2"/><path d="M387.05 152.83L385.89 148.68L389.51 149.29Z" fill="#111"/>
<path d="M389.26 151.82L387.66 161.62" stroke="#111" stroke-width="1.2"/><path d="M387.12 164.98L385.94 160.83L389.55 161.42Z" fill="#111"/>
<path d="M389.19 164.56L387.73 173.68" stroke="#111" stroke-width="1.2"/><path d="M387.19 177.04L385.99 172.90L389.61 173.48Z" fill="#111"/>
<path d="M389.19 176.77L387.73 185.87" stroke="#111" stroke-width="1.2"/><path d="M387.19 189.23L386.00 185.09L389.62 185.67Z" fill="#111"/>
<path d="M389.19 188.86L387.71 198.38" stroke="#111" stroke-width="1.2"/><path d="M387.19 201.74L385.97 197.60L389.60 198.17Z" fill="#111"/>
<path d="M389.19 200.06L387.70 209.78" stroke="#111" stroke-width="1.2"/><path d="M387.19 213.14L385.97 209.01L389.59 209.56Z" fill="#111"/>
<path d="M389.19 209.80L387.71 219.24" stroke="#111" stroke-width="1.2"/><path d="M387.19 222.60L385.98 218.46L389.60 219.03Z" fill="#111"/>
<path d="M389.19 217.73L387.75 226.32" stroke="#111" stroke-width="1.2"/><path d="M387.19 229.67L386.02 225.52L389.64 226.13Z" fill="#111"/>
<path d="M389.19 223.43L387.77 231.62" stroke="#111" stroke-width="1.2"/><path d="M387.19 234.97L386.05 230.81L389.66 231.44Z" fill="#111"/>
<path d="M389.19 234.17L388.00 237.53" stroke="#111" stroke-width="1.2"/><path d="M387.19 239.83L386.86 236.60L389.47 237.52Z" fill="#111"/>
<path d="M389.65 242.59L388.42 242.60" stroke="#111" stroke-width="1.2"/><path d="M386.72 242.61L388.92 241.56L388.93 243.63Z" fill="#111"/>

<path d="M395.53 82.32L394.40 84.45" stroke="#111" stroke-width="1.2"/><path d="M393.43 86.28L393.57 83.44L395.71 84.57Z" fill="#111"/>
<path d="M395.05 93.53L394.41 96.31" stroke="#111" stroke-width="1.2"/><path d="M393.91 98.47L393.28 95.54L395.77 96.11Z" fill="#111"/>
<path d="M395.05 104.86L394.36 108.65" stroke="#111" stroke-width="1.2"/><path d="M393.91 111.14L393.05 107.90L395.85 108.41Z" fill="#111"/>
<path d="M395.51 116.99L394.19 122.26" stroke="#111" stroke-width="1.2"/><path d="M393.45 125.21L392.70 121.38L395.92 122.18Z" fill="#111"/>
<path d="M395.50 126.93L393.97 136.91" stroke="#111" stroke-width="1.2"/><path d="M393.46 140.27L392.24 136.13L395.86 136.69Z" fill="#111"/>
<path d="M395.49 139.12L393.96 149.71" stroke="#111" stroke-width="1.2"/><path d="M393.47 153.08L392.21 148.96L395.84 149.48Z" fill="#111"/>
<path d="M395.49 151.42L393.96 162.01" stroke="#111" stroke-width="1.2"/><path d="M393.47 165.38L392.22 161.26L395.85 161.78Z" fill="#111"/>
<path d="M395.48 163.88L393.97 174.36" stroke="#111" stroke-width="1.2"/><path d="M393.48 177.72L392.22 173.60L395.85 174.13Z" fill="#111"/>
<path d="M395.48 176.52L394.00 186.12" stroke="#111" stroke-width="1.2"/><path d="M393.48 189.48L392.26 185.35L395.89 185.91Z" fill="#111"/>
<path d="M395.48 188.34L393.96 198.89" stroke="#111" stroke-width="1.2"/><path d="M393.48 202.26L392.22 198.14L395.85 198.66Z" fill="#111"/>
<path d="M395.48 199.62L393.96 210.21" stroke="#111" stroke-width="1.2"/><path d="M393.48 213.58L392.22 209.46L395.85 209.98Z" fill="#111"/>
<path d="M395.48 209.23L393.96 219.80" stroke="#111" stroke-width="1.2"/><path d="M393.48 223.17L392.22 219.05L395.85 219.57Z" fill="#111"/>
<path d="M395.48 217.12L393.99 226.92" stroke="#111" stroke-width="1.2"/><path d="M393.48 230.28L392.25 226.15L395.88 226.70Z" fill="#111"/>
<path d="M395.48 223.15L394.03 231.90" stroke="#111" stroke-width="1.2"/><path d="M393.48 235.25L392.31 231.11L395.92 231.70Z" fill="#111"/>
<path d="M395.48 231.99L394.15 238.68" stroke="#111" stroke-width="1.2"/><path d="M393.48 242.01L392.45 237.83L396.04 238.54Z" fill="#111"/>
<path d="M395.95 242.57L394.72 242.59" stroke="#111" stroke-width="1.2"/><path d="M393.01 242.63L395.19 241.55L395.24 243.62Z" fill="#111"/>

<path d="M400.61 82.75L400.75 84.11" stroke="#111" stroke-width="1.2"/><path d="M400.94 85.85L399.65 83.72L401.75 83.50Z" fill="#111"/>
<path d="M400.23 94.08L400.78 96.04" stroke="#111" stroke-width="1.2"/><path d="M401.31 97.92L399.54 95.87L401.76 95.24Z" fill="#111"/>
<path d="M400.35 106.57L400.71 107.78" stroke="#111" stroke-width="1.2"/><path d="M401.20 109.43L399.57 107.60L401.57 107.01Z" fill="#111"/>
<path d="M401.08 119.74L400.83 120.83" stroke="#111" stroke-width="1.2"/><path d="M400.46 122.46L399.95 120.12L401.94 120.57Z" fill="#111"/>
<path d="M401.25 131.89L400.79 133.53" stroke="#111" stroke-width="1.2"/><path d="M400.29 135.31L399.87 132.74L401.99 133.34Z" fill="#111"/>
<path d="M401.43 143.40L400.67 146.53" stroke="#111" stroke-width="1.2"/><path d="M400.12 148.80L399.49 145.73L402.08 146.36Z" fill="#111"/>
<path d="M401.48 155.62L400.65 158.88" stroke="#111" stroke-width="1.2"/><path d="M400.06 161.18L399.46 158.06L402.08 158.73Z" fill="#111"/>
<path d="M401.54 166.86L400.56 171.87" stroke="#111" stroke-width="1.2"/><path d="M400.00 174.74L399.08 171.07L402.24 171.69Z" fill="#111"/>
<path d="M401.54 177.35L400.46 185.28" stroke="#111" stroke-width="1.2"/><path d="M400.00 188.65L398.71 184.54L402.35 185.04Z" fill="#111"/>
<path d="M401.54 188.68L400.40 198.54" stroke="#111" stroke-width="1.2"/><path d="M400.00 201.92L398.63 197.83L402.27 198.26Z" fill="#111"/>
<path d="M401.61 199.80L400.35 210.03" stroke="#111" stroke-width="1.2"/><path d="M399.94 213.40L398.59 209.31L402.23 209.75Z" fill="#111"/>
<path d="M401.66 209.11L400.31 219.92" stroke="#111" stroke-width="1.2"/><path d="M399.89 223.29L398.55 219.20L402.19 219.65Z" fill="#111"/>
<path d="M401.74 216.99L400.29 227.04" stroke="#111" stroke-width="1.2"/><path d="M399.80 230.41L398.55 226.28L402.18 226.81Z" fill="#111"/>
<path d="M401.80 222.79L400.28 232.26" stroke="#111" stroke-width="1.2"/><path d="M399.74 235.61L398.55 231.47L402.17 232.05Z" fill="#111"/>
<path d="M401.89 231.32L400.31 239.35" stroke="#111" stroke-width="1.2"/><path d="M399.66 242.68L398.61 238.50L402.21 239.21Z" fill="#111"/>
<path d="M402.25 242.44L401.00 242.58" stroke="#111" stroke-width="1.2"/><path d="M399.30 242.76L401.39 241.49L401.61 243.56Z" fill="#111"/>

<path d="M405.65 83.26L407.00 84.25" stroke="#111" stroke-width="1.2"/><path d="M408.48 85.34L405.94 84.84L407.25 83.07Z" fill="#111"/>
<path d="M405.39 94.71L407.14 96.06" stroke="#111" stroke-width="1.2"/><path d="M408.74 97.29L406.02 96.69L407.47 94.82Z" fill="#111"/>
<path d="M405.63 106.98L406.99 107.95" stroke="#111" stroke-width="1.2"/><path d="M408.50 109.02L405.95 108.56L407.22 106.76Z" fill="#111"/>
<path d="M406.62 120.36L406.78 120.63" stroke="#111" stroke-width="1.2"/><path d="M407.51 121.84L405.75 120.66L407.30 119.74Z" fill="#111"/>
<path d="M406.98 132.61L407.02 133.12" stroke="#111" stroke-width="1.2"/><path d="M407.15 134.59L406.06 132.70L407.91 132.54Z" fill="#111"/>
<path d="M407.34 144.86L407.14 145.77" stroke="#111" stroke-width="1.2"/><path d="M406.79 147.34L406.28 145.07L408.22 145.50Z" fill="#111"/>
<path d="M407.46 157.16L407.16 158.09" stroke="#111" stroke-width="1.2"/><path d="M406.67 159.64L406.36 157.31L408.27 157.92Z" fill="#111"/>
<path d="M407.58 169.56L407.18 170.52" stroke="#111" stroke-width="1.2"/><path d="M406.55 172.04L406.44 169.67L408.30 170.45Z" fill="#111"/>
<path d="M407.58 181.75L407.18 182.73" stroke="#111" stroke-width="1.2"/><path d="M406.55 184.25L406.44 181.88L408.30 182.65Z" fill="#111"/>
<path d="M407.59 192.85L407.00 195.59" stroke="#111" stroke-width="1.2"/><path d="M406.54 197.75L405.86 194.84L408.35 195.37Z" fill="#111"/>
<path d="M407.72 200.09L406.75 209.73" stroke="#111" stroke-width="1.2"/><path d="M406.41 213.11L404.98 209.05L408.63 209.41Z" fill="#111"/>
<path d="M407.83 209.44L406.68 219.58" stroke="#111" stroke-width="1.2"/><path d="M406.30 222.96L404.92 218.88L408.56 219.29Z" fill="#111"/>
<path d="M408.00 217.15L406.61 226.89" stroke="#111" stroke-width="1.2"/><path d="M406.13 230.25L404.87 226.13L408.50 226.65Z" fill="#111"/>
<path d="M408.13 222.88L406.57 232.17" stroke="#111" stroke-width="1.2"/><path d="M406.00 235.52L404.84 231.37L408.46 231.98Z" fill="#111"/>
<path d="M408.31 231.33L406.55 239.35" stroke="#111" stroke-width="1.2"/><path d="M405.82 242.67L404.87 238.47L408.45 239.26Z" fill="#111"/>
<path d="M408.55 241.76L407.16 242.54" stroke="#111" stroke-width="1.2"/><path d="M405.58 243.44L407.06 241.35L408.14 243.24Z" fill="#111"/>
<path d="M412.93 72.29L412.58 72.28" stroke="#111" stroke-width="1.2"/><path d="M413.78 72.31L412.05 73.06L412.10 71.46Z" fill="#111"/>
<path d="M410.68 83.77L413.77 84.38" stroke="#111" stroke-width="1.2"/><path d="M416.03 84.83L413.02 85.58L413.54 82.99Z" fill="#111"/>
<path d="M410.55 95.34L413.84 96.11" stroke="#111" stroke-width="1.2"/><path d="M416.16 96.66L413.04 97.32L413.67 94.68Z" fill="#111"/>
<path d="M410.92 107.23L413.67 108.10" stroke="#111" stroke-width="1.2"/><path d="M415.79 108.77L412.81 109.17L413.58 106.73Z" fill="#111"/>
<path d="M412.16 120.23L413.17 120.96" stroke="#111" stroke-width="1.2"/><path d="M414.56 121.97L412.16 121.51L413.38 119.83Z" fill="#111"/>
<path d="M412.71 132.48L413.19 133.32" stroke="#111" stroke-width="1.2"/><path d="M414.01 134.72L412.08 133.38L413.81 132.38Z" fill="#111"/>
<path d="M413.26 144.72L413.34 145.82" stroke="#111" stroke-width="1.2"/><path d="M413.46 147.48L412.29 145.39L414.32 145.25Z" fill="#111"/>
<path d="M413.44 156.84L413.37 158.21" stroke="#111" stroke-width="1.2"/><path d="M413.28 159.96L412.34 157.66L414.45 157.77Z" fill="#111"/>
<path d="M413.62 169.20L413.38 170.65" stroke="#111" stroke-width="1.2"/><path d="M413.09 172.40L412.41 169.98L414.52 170.33Z" fill="#111"/>
<path d="M413.62 181.61L413.41 182.74" stroke="#111" stroke-width="1.2"/><path d="M413.09 184.39L412.49 182.06L414.51 182.44Z" fill="#111"/>
<path d="M413.63 193.93L413.41 195.03" stroke="#111" stroke-width="1.2"/><path d="M413.09 196.67L412.51 194.34L414.51 194.74Z" fill="#111"/>
<path d="M413.83 205.09L413.41 206.43" stroke="#111" stroke-width="1.2"/><path d="M412.89 208.11L412.55 205.64L414.57 206.27Z" fill="#111"/>
<path d="M414.00 211.86L413.17 217.47" stroke="#111" stroke-width="1.2"/><path d="M412.72 220.54L411.57 216.72L414.92 217.22Z" fill="#111"/>
<path d="M414.26 217.40L412.94 226.64" stroke="#111" stroke-width="1.2"/><path d="M412.46 230.00L411.19 225.88L414.82 226.40Z" fill="#111"/>
<path d="M414.45 223.19L412.87 231.86" stroke="#111" stroke-width="1.2"/><path d="M412.26 235.21L411.16 231.04L414.77 231.70Z" fill="#111"/>
<path d="M414.72 231.50L412.81 239.20" stroke="#111" stroke-width="1.2"/><path d="M411.99 242.50L411.15 238.27L414.71 239.16Z" fill="#111"/>
<path d="M414.85 239.93L413.07 243.12" stroke="#111" stroke-width="1.2"/><path d="M411.87 245.27L412.09 242.00L414.53 243.36Z" fill="#111"/>
<path d="M419.07 72.30L418.95 72.30" stroke="#111" stroke-width="1.2"/><path d="M420.23 72.30L418.45 73.13L418.45 71.46Z" fill="#111"/>
<path d="M415.72 84.27L420.69 84.31" stroke="#111" stroke-width="1.2"/><path d="M423.58 84.33L420.18 85.90L420.21 82.71Z" fill="#111"/>
<path d="M415.71 95.97L420.70 96.01" stroke="#111" stroke-width="1.2"/><path d="M423.59 96.03L420.18 97.60L420.21 94.41Z" fill="#111"/>
<path d="M416.21 107.49L420.45 108.12" stroke="#111" stroke-width="1.2"/><path d="M423.09 108.51L419.74 109.52L420.18 106.57Z" fill="#111"/>
<path d="M417.70 120.10L419.77 121.16" stroke="#111" stroke-width="1.2"/><path d="M421.60 122.09L418.78 122.00L419.87 119.87Z" fill="#111"/>
<path d="M418.44 132.33L419.59 133.54" stroke="#111" stroke-width="1.2"/><path d="M420.86 134.87L418.45 133.94L420.04 132.42Z" fill="#111"/>
<path d="M419.17 139.57L419.88 149.23" stroke="#111" stroke-width="1.2"/><path d="M420.13 152.63L418.01 148.87L421.67 148.60Z" fill="#111"/>
<path d="M419.42 151.06L419.78 162.34" stroke="#111" stroke-width="1.2"/><path d="M419.88 165.74L417.93 161.90L421.59 161.78Z" fill="#111"/>
<path d="M419.66 163.30L419.64 174.90" stroke="#111" stroke-width="1.2"/><path d="M419.64 178.30L417.81 174.40L421.48 174.40Z" fill="#111"/>
<path d="M419.66 175.55L419.64 187.05" stroke="#111" stroke-width="1.2"/><path d="M419.64 190.45L417.81 186.55L421.48 186.56Z" fill="#111"/>
<path d="M419.67 193.64L419.65 195.16" stroke="#111" stroke-width="1.2"/><path d="M419.63 196.96L418.58 194.65L420.74 194.68Z" fill="#111"/>
<path d="M419.94 205.11L419.69 206.39" stroke="#111" stroke-width="1.2"/><path d="M419.36 208.09L418.75 205.71L420.81 206.10Z" fill="#111"/>
<path d="M420.17 214.72L419.71 216.03" stroke="#111" stroke-width="1.2"/><path d="M419.13 217.68L418.88 215.21L420.88 215.90Z" fill="#111"/>
<path d="M420.52 222.55L419.80 223.50" stroke="#111" stroke-width="1.2"/><path d="M418.78 224.85L419.28 222.48L420.92 223.72Z" fill="#111"/>
<path d="M420.78 225.31L419.34 230.26" stroke="#111" stroke-width="1.2"/><path d="M418.52 233.09L417.93 229.33L421.04 230.23Z" fill="#111"/>
<path d="M421.14 231.50L419.05 239.22" stroke="#111" stroke-width="1.2"/><path d="M418.16 242.50L417.41 238.26L420.95 239.22Z" fill="#111"/>
<path d="M421.15 237.82L419.17 244.14" stroke="#111" stroke-width="1.2"/><path d="M418.15 247.38L417.57 243.11L421.07 244.21Z" fill="#111"/>
<path d="M425.35 72.30L425.25 72.30" stroke="#111" stroke-width="1.2"/><path d="M426.53 72.30L424.75 73.14L424.75 71.46Z" fill="#111"/>
<path d="M421.82 84.30L427.08 84.30" stroke="#111" stroke-width="1.2"/><path d="M430.06 84.30L426.58 85.93L426.58 82.67Z" fill="#111"/>
<path d="M421.82 96.00L427.08 96.00" stroke="#111" stroke-width="1.2"/><path d="M430.06 96.00L426.58 97.63L426.58 94.37Z" fill="#111"/>
<path d="M422.20 107.56L426.89 108.11" stroke="#111" stroke-width="1.2"/><path d="M429.68 108.44L426.21 109.60L426.58 106.51Z" fill="#111"/>
<path d="M423.71 119.98L426.21 121.23" stroke="#111" stroke-width="1.2"/><path d="M428.17 122.22L425.19 122.14L426.33 119.88Z" fill="#111"/>
<path d="M424.46 128.24L426.52 135.68" stroke="#111" stroke-width="1.2"/><path d="M427.42 138.96L424.62 135.69L428.15 134.71Z" fill="#111"/>
<path d="M425.21 139.17L426.32 149.65" stroke="#111" stroke-width="1.2"/><path d="M426.68 153.03L424.44 149.35L428.09 148.96Z" fill="#111"/>
<path d="M425.51 150.83L426.18 162.57" stroke="#111" stroke-width="1.2"/><path d="M426.37 165.97L424.32 162.18L427.98 161.97Z" fill="#111"/>
<path d="M425.82 163.17L426.01 175.03" stroke="#111" stroke-width="1.2"/><path d="M426.07 178.43L424.17 174.56L427.84 174.50Z" fill="#111"/>
<path d="M425.88 175.37L425.98 187.23" stroke="#111" stroke-width="1.2"/><path d="M426.00 190.63L424.14 186.74L427.80 186.71Z" fill="#111"/>
<path d="M425.95 188.27L425.94 198.93" stroke="#111" stroke-width="1.2"/><path d="M425.93 202.33L424.11 198.42L427.77 198.43Z" fill="#111"/>
<path d="M426.28 199.91L425.77 209.89" stroke="#111" stroke-width="1.2"/><path d="M425.60 213.29L423.97 209.30L427.63 209.48Z" fill="#111"/>
<path d="M426.57 209.47L425.63 219.54" stroke="#111" stroke-width="1.2"/><path d="M425.31 222.93L423.85 218.87L427.50 219.21Z" fill="#111"/>
<path d="M426.93 217.22L425.47 226.82" stroke="#111" stroke-width="1.2"/><path d="M424.96 230.18L423.73 226.05L427.36 226.60Z" fill="#111"/>
<path d="M427.19 222.97L425.36 232.10" stroke="#111" stroke-width="1.2"/><path d="M424.70 235.43L423.66 231.25L427.26 231.97Z" fill="#111"/>
<path d="M427.56 231.47L425.28 239.27" stroke="#111" stroke-width="1.2"/><path d="M424.32 242.53L423.66 238.28L427.18 239.31Z" fill="#111"/>
<path d="M427.45 237.25L425.36 244.68" stroke="#111" stroke-width="1.2"/><path d="M424.43 247.95L423.73 243.70L427.26 244.69Z" fill="#111"/>
<path d="M431.64 72.30L431.54 72.30" stroke="#111" stroke-width="1.2"/><path d="M432.83 72.30L431.04 73.14L431.04 71.46Z" fill="#111"/>
<path d="M427.99 84.30L433.44 84.30" stroke="#111" stroke-width="1.2"/><path d="M436.48 84.30L432.94 85.96L432.94 82.64Z" fill="#111"/>
<path d="M427.99 96.00L433.44 96.00" stroke="#111" stroke-width="1.2"/><path d="M436.48 96.00L432.94 97.66L432.94 94.34Z" fill="#111"/>
<path d="M428.25 107.62L433.31 108.10" stroke="#111" stroke-width="1.2"/><path d="M436.22 108.38L432.66 109.66L432.97 106.45Z" fill="#111"/>
<path d="M429.75 119.42L432.70 121.41" stroke="#111" stroke-width="1.2"/><path d="M434.72 122.78L431.51 122.28L433.06 119.99Z" fill="#111"/>
<path d="M430.50 127.00L433.10 136.91" stroke="#111" stroke-width="1.2"/><path d="M433.97 140.20L431.20 136.89L434.75 135.96Z" fill="#111"/>
<path d="M431.25 139.02L432.75 149.81" stroke="#111" stroke-width="1.2"/><path d="M433.22 153.18L430.87 149.57L434.50 149.06Z" fill="#111"/>
<path d="M431.61 151.13L432.57 162.28" stroke="#111" stroke-width="1.2"/><path d="M432.86 165.67L430.70 161.94L434.35 161.62Z" fill="#111"/>
<path d="M431.98 163.53L432.37 174.67" stroke="#111" stroke-width="1.2"/><path d="M432.49 178.07L430.52 174.23L434.18 174.11Z" fill="#111"/>
<path d="M432.11 175.73L432.30 186.87" stroke="#111" stroke-width="1.2"/><path d="M432.36 190.27L430.46 186.40L434.12 186.34Z" fill="#111"/>
<path d="M432.25 188.09L432.23 199.11" stroke="#111" stroke-width="1.2"/><path d="M432.22 202.51L430.40 198.61L434.06 198.62Z" fill="#111"/>
<path d="M432.65 199.83L432.03 209.97" stroke="#111" stroke-width="1.2"/><path d="M431.82 213.37L430.23 209.36L433.89 209.58Z" fill="#111"/>
<path d="M432.99 209.44L431.86 219.58" stroke="#111" stroke-width="1.2"/><path d="M431.48 222.96L430.09 218.88L433.74 219.29Z" fill="#111"/>
<path d="M433.35 217.21L431.70 226.83" stroke="#111" stroke-width="1.2"/><path d="M431.12 230.19L429.98 226.03L433.59 226.65Z" fill="#111"/>
<path d="M433.61 222.75L431.57 232.32" stroke="#111" stroke-width="1.2"/><path d="M430.86 235.65L429.88 231.45L433.47 232.22Z" fill="#111"/>
<path d="M433.98 231.19L431.47 239.55" stroke="#111" stroke-width="1.2"/><path d="M430.49 242.81L429.86 238.55L433.37 239.60Z" fill="#111"/>
<path d="M433.75 237.12L431.63 244.80" stroke="#111" stroke-width="1.2"/><path d="M430.72 248.08L429.99 243.83L433.53 244.81Z" fill="#111"/>
<path d="M437.93 72.30L437.84 72.30" stroke="#111" stroke-width="1.2"/><path d="M439.12 72.30L437.34 73.14L437.34 71.46Z" fill="#111"/>
<path d="M434.16 84.30L439.80 84.30" stroke="#111" stroke-width="1.2"/><path d="M442.90 84.30L439.30 85.99L439.30 82.61Z" fill="#111"/>
<path d="M434.16 96.00L439.80 96.00" stroke="#111" stroke-width="1.2"/><path d="M442.90 96.00L439.30 97.69L439.30 94.31Z" fill="#111"/>
<path d="M434.29 107.69L439.74 108.09" stroke="#111" stroke-width="1.2"/><path d="M442.77 108.31L439.11 109.71L439.36 106.39Z" fill="#111"/>
<path d="M435.79 116.26L439.59 122.98" stroke="#111" stroke-width="1.2"/><path d="M441.26 125.94L437.75 123.45L440.94 121.65Z" fill="#111"/>
<path d="M436.54 126.43L439.61 137.50" stroke="#111" stroke-width="1.2"/><path d="M440.51 140.77L437.71 137.50L441.24 136.53Z" fill="#111"/>
<path d="M437.29 139.21L439.16 149.64" stroke="#111" stroke-width="1.2"/><path d="M439.77 152.99L437.27 149.47L440.88 148.83Z" fill="#111"/>
<path d="M437.72 151.51L438.94 161.91" stroke="#111" stroke-width="1.2"/><path d="M439.34 165.29L437.06 161.63L440.70 161.20Z" fill="#111"/>
<path d="M438.15 163.91L438.72 174.29" stroke="#111" stroke-width="1.2"/><path d="M438.91 177.69L436.86 173.89L440.52 173.69Z" fill="#111"/>
<path d="M438.34 176.11L438.62 186.49" stroke="#111" stroke-width="1.2"/><path d="M438.71 189.89L436.78 186.04L440.44 185.94Z" fill="#111"/>
<path d="M438.54 188.41L438.52 198.79" stroke="#111" stroke-width="1.2"/><path d="M438.52 202.19L436.69 198.28L440.36 198.29Z" fill="#111"/>
<path d="M439.01 200.21L438.30 209.60" stroke="#111" stroke-width="1.2"/><path d="M438.05 212.99L436.51 208.96L440.17 209.23Z" fill="#111"/>
<path d="M439.41 210.04L438.13 219.00" stroke="#111" stroke-width="1.2"/><path d="M437.65 222.36L436.38 218.24L440.01 218.76Z" fill="#111"/>
<path d="M439.76 217.38L437.94 226.68" stroke="#111" stroke-width="1.2"/><path d="M437.29 230.02L436.24 225.84L439.84 226.54Z" fill="#111"/>
<path d="M440.03 222.57L437.78 232.52" stroke="#111" stroke-width="1.2"/><path d="M437.03 235.83L436.10 231.62L439.68 232.43Z" fill="#111"/>
<path d="M440.40 231.00L437.67 239.76" stroke="#111" stroke-width="1.2"/><path d="M436.66 243.00L436.07 238.73L439.57 239.82Z" fill="#111"/>
<path d="M440.05 237.10L437.91 244.82" stroke="#111" stroke-width="1.2"/><path d="M437.00 248.10L436.28 243.85L439.81 244.83Z" fill="#111"/>
<path d="M444.22 72.30L444.13 72.30" stroke="#111" stroke-width="1.2"/><path d="M445.42 72.30L443.63 73.14L443.63 71.46Z" fill="#111"/>
<path d="M440.32 84.30L446.16 84.30" stroke="#111" stroke-width="1.2"/><path d="M449.32 84.30L445.66 86.02L445.66 82.58Z" fill="#111"/>
<path d="M440.32 96.00L446.16 96.00" stroke="#111" stroke-width="1.2"/><path d="M449.32 96.00L445.66 97.72L445.66 94.28Z" fill="#111"/>
<path d="M440.33 107.75L446.16 108.08" stroke="#111" stroke-width="1.2"/><path d="M449.31 108.25L445.56 109.76L445.76 106.33Z" fill="#111"/>
<path d="M441.83 115.84L446.13 123.41" stroke="#111" stroke-width="1.2"/><path d="M447.81 126.36L444.29 123.88L447.48 122.07Z" fill="#111"/>
<path d="M442.58 126.31L446.06 137.64" stroke="#111" stroke-width="1.2"/><path d="M447.06 140.89L444.16 137.70L447.66 136.62Z" fill="#111"/>
<path d="M443.33 139.44L445.57 149.44" stroke="#111" stroke-width="1.2"/><path d="M446.31 152.76L443.67 149.35L447.25 148.55Z" fill="#111"/>
<path d="M443.82 151.89L445.30 161.55" stroke="#111" stroke-width="1.2"/><path d="M445.82 164.91L443.42 161.33L447.04 160.78Z" fill="#111"/>
<path d="M444.32 164.29L445.06 173.92" stroke="#111" stroke-width="1.2"/><path d="M445.32 177.31L443.20 173.56L446.85 173.28Z" fill="#111"/>
<path d="M444.57 176.49L444.94 186.11" stroke="#111" stroke-width="1.2"/><path d="M445.07 189.51L443.09 185.68L446.75 185.54Z" fill="#111"/>
<path d="M444.83 188.79L444.81 198.41" stroke="#111" stroke-width="1.2"/><path d="M444.81 201.81L442.98 197.91L446.65 197.91Z" fill="#111"/>
<path d="M445.37 200.72L444.59 209.09" stroke="#111" stroke-width="1.2"/><path d="M444.27 212.48L442.81 208.42L446.46 208.77Z" fill="#111"/>
<path d="M445.83 210.69L444.42 218.37" stroke="#111" stroke-width="1.2"/><path d="M443.81 221.71L442.71 217.55L446.32 218.20Z" fill="#111"/>
<path d="M446.18 217.54L444.19 226.54" stroke="#111" stroke-width="1.2"/><path d="M443.46 229.86L442.51 225.65L446.09 226.45Z" fill="#111"/>
<path d="M446.44 222.70L444.02 232.40" stroke="#111" stroke-width="1.2"/><path d="M443.20 235.70L442.36 231.47L445.92 232.36Z" fill="#111"/>
<path d="M446.82 230.87L443.88 239.90" stroke="#111" stroke-width="1.2"/><path d="M442.82 243.13L442.29 238.85L445.77 239.99Z" fill="#111"/>
<path d="M446.35 237.06L444.19 244.87" stroke="#111" stroke-width="1.2"/><path d="M443.29 248.14L442.56 243.90L446.09 244.87Z" fill="#111"/>
<path d="M450.51 72.30L450.42 72.30" stroke="#111" stroke-width="1.2"/><path d="M451.71 72.30L449.92 73.14L449.92 71.46Z" fill="#111"/>
<path d="M446.61 84.30L452.45 84.30" stroke="#111" stroke-width="1.2"/><path d="M455.61 84.30L451.95 86.02L451.95 82.58Z" fill="#111"/>
<path d="M446.61 96.00L452.45 96.00" stroke="#111" stroke-width="1.2"/><path d="M455.61 96.00L451.95 97.72L451.95 94.28Z" fill="#111"/>
<path d="M446.61 107.68L452.45 108.09" stroke="#111" stroke-width="1.2"/><path d="M455.61 108.32L451.83 109.78L452.08 106.34Z" fill="#111"/>
<path d="M448.12 115.68L452.46 123.54" stroke="#111" stroke-width="1.2"/><path d="M454.11 126.52L450.62 123.99L453.82 122.22Z" fill="#111"/>
<path d="M448.78 126.22L452.42 137.74" stroke="#111" stroke-width="1.2"/><path d="M453.45 140.98L450.52 137.82L454.02 136.71Z" fill="#111"/>
<path d="M449.44 139.11L452.00 149.79" stroke="#111" stroke-width="1.2"/><path d="M452.79 153.09L450.10 149.73L453.66 148.87Z" fill="#111"/>
<path d="M449.93 151.90L451.69 161.56" stroke="#111" stroke-width="1.2"/><path d="M452.30 164.90L449.79 161.39L453.40 160.73Z" fill="#111"/>
<path d="M450.42 164.30L451.44 173.92" stroke="#111" stroke-width="1.2"/><path d="M451.80 177.30L449.57 173.61L453.21 173.23Z" fill="#111"/>
<path d="M450.77 176.50L451.27 186.10" stroke="#111" stroke-width="1.2"/><path d="M451.45 189.50L449.42 185.70L453.08 185.51Z" fill="#111"/>
<path d="M451.13 188.83L451.10 198.37" stroke="#111" stroke-width="1.2"/><path d="M451.10 201.77L449.27 197.87L452.94 197.88Z" fill="#111"/>
<path d="M451.76 200.67L450.83 209.15" stroke="#111" stroke-width="1.2"/><path d="M450.46 212.53L449.06 208.46L452.71 208.86Z" fill="#111"/>
<path d="M452.30 210.65L450.64 218.43" stroke="#111" stroke-width="1.2"/><path d="M449.92 221.75L448.95 217.55L452.53 218.32Z" fill="#111"/>
<path d="M452.59 217.61L450.43 226.49" stroke="#111" stroke-width="1.2"/><path d="M449.63 229.79L448.77 225.57L452.33 226.44Z" fill="#111"/>
<path d="M452.81 222.71L450.28 232.40" stroke="#111" stroke-width="1.2"/><path d="M449.42 235.69L448.63 231.46L452.18 232.38Z" fill="#111"/>
<path d="M453.11 230.90L450.17 239.87" stroke="#111" stroke-width="1.2"/><path d="M449.11 243.10L448.59 238.82L452.07 239.96Z" fill="#111"/>
<path d="M452.65 236.71L450.44 245.20" stroke="#111" stroke-width="1.2"/><path d="M449.58 248.49L448.79 244.25L452.34 245.18Z" fill="#111"/>
<path d="M456.81 72.30L456.72 72.30" stroke="#111" stroke-width="1.2"/><path d="M458.01 72.30L456.22 73.14L456.22 71.46Z" fill="#111"/>
<path d="M452.91 84.30L458.75 84.30" stroke="#111" stroke-width="1.2"/><path d="M461.91 84.30L458.25 86.02L458.25 82.58Z" fill="#111"/>
<path d="M452.91 96.00L458.75 96.00" stroke="#111" stroke-width="1.2"/><path d="M461.91 96.00L458.25 97.72L458.25 94.28Z" fill="#111"/>
<path d="M452.91 107.66L458.75 108.10" stroke="#111" stroke-width="1.2"/><path d="M461.91 108.34L458.12 109.78L458.38 106.35Z" fill="#111"/>
<path d="M454.41 115.59L458.78 123.62" stroke="#111" stroke-width="1.2"/><path d="M460.40 126.61L456.93 124.06L460.15 122.31Z" fill="#111"/>
<path d="M454.98 126.36L458.75 137.62" stroke="#111" stroke-width="1.2"/><path d="M459.83 140.84L456.86 137.73L460.33 136.56Z" fill="#111"/>
<path d="M455.54 139.56L458.34 149.37" stroke="#111" stroke-width="1.2"/><path d="M459.27 152.64L456.44 149.39L459.96 148.39Z" fill="#111"/>
<path d="M456.04 151.90L458.07 161.57" stroke="#111" stroke-width="1.2"/><path d="M458.77 164.90L456.18 161.46L459.76 160.71Z" fill="#111"/>
<path d="M456.53 164.30L457.83 173.93" stroke="#111" stroke-width="1.2"/><path d="M458.28 177.30L455.94 173.68L459.58 173.19Z" fill="#111"/>
<path d="M456.97 176.50L457.61 186.11" stroke="#111" stroke-width="1.2"/><path d="M457.84 189.50L455.75 185.73L459.41 185.49Z" fill="#111"/>
<path d="M457.42 189.12L457.40 198.08" stroke="#111" stroke-width="1.2"/><path d="M457.39 201.48L455.56 197.57L459.23 197.58Z" fill="#111"/>
<path d="M458.16 200.60L457.07 209.23" stroke="#111" stroke-width="1.2"/><path d="M456.65 212.60L455.32 208.50L458.96 208.96Z" fill="#111"/>
<path d="M458.78 210.20L456.79 218.88" stroke="#111" stroke-width="1.2"/><path d="M456.03 222.20L455.12 217.99L458.69 218.80Z" fill="#111"/>
<path d="M459.00 217.69L456.68 226.42" stroke="#111" stroke-width="1.2"/><path d="M455.81 229.71L455.04 225.47L458.58 226.41Z" fill="#111"/>
<path d="M459.17 222.94L456.56 232.19" stroke="#111" stroke-width="1.2"/><path d="M455.64 235.46L454.93 231.21L458.46 232.20Z" fill="#111"/>
<path d="M459.41 230.99L456.48 239.79" stroke="#111" stroke-width="1.2"/><path d="M455.41 243.01L454.90 238.73L458.38 239.89Z" fill="#111"/>
<path d="M458.94 236.61L456.72 245.29" stroke="#111" stroke-width="1.2"/><path d="M455.87 248.59L455.06 244.35L458.61 245.26Z" fill="#111"/>
</g>
<rect x="45.5" y="72.0" width="167.70" height="171.0" fill="none" stroke="#222" stroke-width="0.8"/>
<line x1="41.0" y1="100.40" x2="45.5" y2="100.40" stroke="#222" stroke-width="0.8"/>
<text transform="translate(35.0,103.80) scale(1,1.1)" text-anchor="end" font-weight="bold" font-size="9">150</text>
<line x1="41.0" y1="122.24" x2="45.5" y2="122.24" stroke="#222" stroke-width="0.8"/>
<text transform="translate(35.0,125.64) scale(1,1.1)" text-anchor="end" font-weight="bold" font-size="9">200</text>
<line x1="41.0" y1="139.17" x2="45.5" y2="139.17" stroke="#222" stroke-width="0.8"/>
<text transform="translate(35.0,142.57) scale(1,1.1)" text-anchor="end" font-weight="bold" font-size="9">250</text>
<line x1="41.0" y1="153.01" x2="45.5" y2="153.01" stroke="#222" stroke-width="0.8"/>
<text transform="translate(35.0,156.41) scale(1,1.1)" text-anchor="end" font-weight="bold" font-size="9">300</text>
<line x1="41.0" y1="174.84" x2="45.5" y2="174.84" stroke="#222" stroke-width="0.8"/>
<text transform="translate(35.0,178.24) scale(1,1.1)" text-anchor="end" font-weight="bold" font-size="9">400</text>
<line x1="41.0" y1="191.78" x2="45.5" y2="191.78" stroke="#222" stroke-width="0.8"/>
<text transform="translate(35.0,195.18) scale(1,1.1)" text-anchor="end" font-weight="bold" font-size="9">500</text>
<line x1="41.0" y1="217.32" x2="45.5" y2="217.32" stroke="#222" stroke-width="0.8"/>
<text transform="translate(35.0,220.72) scale(1,1.1)" text-anchor="end" font-weight="bold" font-size="9">700</text>
<line x1="41.0" y1="232.06" x2="45.5" y2="232.06" stroke="#222" stroke-width="0.8"/>
<text transform="translate(35.0,235.46) scale(1,1.1)" text-anchor="end" font-weight="bold" font-size="9">850</text>
<line x1="213.2" y1="72.00" x2="217.7" y2="72.00" stroke="#222" stroke-width="0.8"/>
<text transform="translate(224.0,75.40) scale(1,1.1)" font-size="9">16</text>
<line x1="213.2" y1="119.20" x2="217.7" y2="119.20" stroke="#222" stroke-width="0.8"/>
<text transform="translate(224.0,122.60) scale(1,1.1)" font-size="9">12</text>
<line x1="213.2" y1="165.30" x2="217.7" y2="165.30" stroke="#222" stroke-width="0.8"/>
<text transform="translate(224.0,168.70) scale(1,1.1)" font-size="9">8</text>
<line x1="213.2" y1="207.30" x2="217.7" y2="207.30" stroke="#222" stroke-width="0.8"/>
<text transform="translate(224.0,210.70) scale(1,1.1)" font-size="9">4</text>
<line x1="45.50" y1="243.0" x2="45.50" y2="247.0" stroke="#222" stroke-width="0.8"/>
<line x1="45.50" y1="67.5" x2="45.50" y2="72.0" stroke="#222" stroke-width="0.8"/>
<text transform="translate(45.80,261.4) scale(1,1.12)" text-anchor="middle" font-weight="bold" font-size="9">60E</text>
<line x1="95.81" y1="243.0" x2="95.81" y2="247.0" stroke="#222" stroke-width="0.8"/>
<line x1="95.81" y1="67.5" x2="95.81" y2="72.0" stroke="#222" stroke-width="0.8"/>
<text transform="translate(96.11,261.4) scale(1,1.12)" text-anchor="middle" font-weight="bold" font-size="9">120E</text>
<line x1="146.12" y1="243.0" x2="146.12" y2="247.0" stroke="#222" stroke-width="0.8"/>
<line x1="146.12" y1="67.5" x2="146.12" y2="72.0" stroke="#222" stroke-width="0.8"/>
<text transform="translate(146.42,261.4) scale(1,1.12)" text-anchor="middle" font-weight="bold" font-size="9">180</text>
<line x1="196.43" y1="243.0" x2="196.43" y2="247.0" stroke="#222" stroke-width="0.8"/>
<line x1="196.43" y1="67.5" x2="196.43" y2="72.0" stroke="#222" stroke-width="0.8"/>
<text transform="translate(196.73,261.4) scale(1,1.12)" text-anchor="middle" font-weight="bold" font-size="9">120W</text>
<line x1="70.66" y1="243.0" x2="70.66" y2="245.0" stroke="#222" stroke-width="0.6"/>
<line x1="70.66" y1="70.0" x2="70.66" y2="72.0" stroke="#222" stroke-width="0.6"/>
<line x1="120.97" y1="243.0" x2="120.97" y2="245.0" stroke="#222" stroke-width="0.6"/>
<line x1="120.97" y1="70.0" x2="120.97" y2="72.0" stroke="#222" stroke-width="0.6"/>
<line x1="171.27" y1="243.0" x2="171.27" y2="245.0" stroke="#222" stroke-width="0.6"/>
<line x1="171.27" y1="70.0" x2="171.27" y2="72.0" stroke="#222" stroke-width="0.6"/>
<text x="45.0" y="66" font-weight="bold" font-size="7.3">PI</text>
<text x="205.6" y="65.8" text-anchor="end" font-size="7.7" stroke="#111" stroke-width="0.25">m s<tspan font-size="5.2" dy="-2.8">-1</tspan><tspan dy="2.8"> 0.5 hPa d</tspan><tspan font-size="5.2" dy="-2.8">-1</tspan></text>
<rect x="49.8" y="217.8" width="19.2" height="20.2" fill="#fff" stroke="#bbb" stroke-width="0.5"/>
<text x="54.0" y="231.6" font-weight="bold" font-size="12">a)</text>
<rect x="293.8" y="72.0" width="167.80" height="171.0" fill="none" stroke="#222" stroke-width="0.8"/>
<line x1="289.3" y1="100.40" x2="293.8" y2="100.40" stroke="#222" stroke-width="0.8"/>
<text transform="translate(283.3,103.80) scale(1,1.1)" text-anchor="end" font-weight="bold" font-size="9">150</text>
<line x1="289.3" y1="122.24" x2="293.8" y2="122.24" stroke="#222" stroke-width="0.8"/>
<text transform="translate(283.3,125.64) scale(1,1.1)" text-anchor="end" font-weight="bold" font-size="9">200</text>
<line x1="289.3" y1="139.17" x2="293.8" y2="139.17" stroke="#222" stroke-width="0.8"/>
<text transform="translate(283.3,142.57) scale(1,1.1)" text-anchor="end" font-weight="bold" font-size="9">250</text>
<line x1="289.3" y1="153.01" x2="293.8" y2="153.01" stroke="#222" stroke-width="0.8"/>
<text transform="translate(283.3,156.41) scale(1,1.1)" text-anchor="end" font-weight="bold" font-size="9">300</text>
<line x1="289.3" y1="174.84" x2="293.8" y2="174.84" stroke="#222" stroke-width="0.8"/>
<text transform="translate(283.3,178.24) scale(1,1.1)" text-anchor="end" font-weight="bold" font-size="9">400</text>
<line x1="289.3" y1="191.78" x2="293.8" y2="191.78" stroke="#222" stroke-width="0.8"/>
<text transform="translate(283.3,195.18) scale(1,1.1)" text-anchor="end" font-weight="bold" font-size="9">500</text>
<line x1="289.3" y1="217.32" x2="293.8" y2="217.32" stroke="#222" stroke-width="0.8"/>
<text transform="translate(283.3,220.72) scale(1,1.1)" text-anchor="end" font-weight="bold" font-size="9">700</text>
<line x1="289.3" y1="232.06" x2="293.8" y2="232.06" stroke="#222" stroke-width="0.8"/>
<text transform="translate(283.3,235.46) scale(1,1.1)" text-anchor="end" font-weight="bold" font-size="9">850</text>
<line x1="461.6" y1="72.00" x2="466.1" y2="72.00" stroke="#222" stroke-width="0.8"/>
<text transform="translate(472.40000000000003,75.40) scale(1,1.1)" font-size="9">16</text>
<line x1="461.6" y1="119.20" x2="466.1" y2="119.20" stroke="#222" stroke-width="0.8"/>
<text transform="translate(472.40000000000003,122.60) scale(1,1.1)" font-size="9">12</text>
<line x1="461.6" y1="165.30" x2="466.1" y2="165.30" stroke="#222" stroke-width="0.8"/>
<text transform="translate(472.40000000000003,168.70) scale(1,1.1)" font-size="9">8</text>
<line x1="461.6" y1="207.30" x2="466.1" y2="207.30" stroke="#222" stroke-width="0.8"/>
<text transform="translate(472.40000000000003,210.70) scale(1,1.1)" font-size="9">4</text>
<line x1="293.80" y1="243.0" x2="293.80" y2="247.0" stroke="#222" stroke-width="0.8"/>
<line x1="293.80" y1="67.5" x2="293.80" y2="72.0" stroke="#222" stroke-width="0.8"/>
<text transform="translate(294.10,261.4) scale(1,1.12)" text-anchor="middle" font-weight="bold" font-size="9">60E</text>
<line x1="344.14" y1="243.0" x2="344.14" y2="247.0" stroke="#222" stroke-width="0.8"/>
<line x1="344.14" y1="67.5" x2="344.14" y2="72.0" stroke="#222" stroke-width="0.8"/>
<text transform="translate(344.44,261.4) scale(1,1.12)" text-anchor="middle" font-weight="bold" font-size="9">120E</text>
<line x1="394.48" y1="243.0" x2="394.48" y2="247.0" stroke="#222" stroke-width="0.8"/>
<line x1="394.48" y1="67.5" x2="394.48" y2="72.0" stroke="#222" stroke-width="0.8"/>
<text transform="translate(394.78,261.4) scale(1,1.12)" text-anchor="middle" font-weight="bold" font-size="9">180</text>
<line x1="444.82" y1="243.0" x2="444.82" y2="247.0" stroke="#222" stroke-width="0.8"/>
<line x1="444.82" y1="67.5" x2="444.82" y2="72.0" stroke="#222" stroke-width="0.8"/>
<text transform="translate(445.12,261.4) scale(1,1.12)" text-anchor="middle" font-weight="bold" font-size="9">120W</text>
<line x1="318.97" y1="243.0" x2="318.97" y2="245.0" stroke="#222" stroke-width="0.6"/>
<line x1="318.97" y1="70.0" x2="318.97" y2="72.0" stroke="#222" stroke-width="0.6"/>
<line x1="369.31" y1="243.0" x2="369.31" y2="245.0" stroke="#222" stroke-width="0.6"/>
<line x1="369.31" y1="70.0" x2="369.31" y2="72.0" stroke="#222" stroke-width="0.6"/>
<line x1="419.65" y1="243.0" x2="419.65" y2="245.0" stroke="#222" stroke-width="0.6"/>
<line x1="419.65" y1="70.0" x2="419.65" y2="72.0" stroke="#222" stroke-width="0.6"/>
<text x="293.3" y="66" font-weight="bold" font-size="7.3">LGM-PI</text>
<text x="454.0" y="65.8" text-anchor="end" font-size="7.7" stroke="#111" stroke-width="0.25">m s<tspan font-size="5.2" dy="-2.8">-1</tspan><tspan dy="2.8"> 0.5 hPa d</tspan><tspan font-size="5.2" dy="-2.8">-1</tspan></text>
<rect x="298.1" y="217.8" width="19.2" height="20.2" fill="#fff" stroke="#bbb" stroke-width="0.5"/>
<text x="302.3" y="231.6" font-weight="bold" font-size="12">b)</text>
<text transform="translate(250,14.8) scale(1,1.09)" text-anchor="middle" font-weight="bold" font-size="13.5">Zonal-vertical circulation</text>
<text transform="translate(12.3,157.2) rotate(-90)" text-anchor="middle" font-size="9.7">Hybrid Pressure Levels (hPa)</text>
<text transform="translate(492.8,157.4) rotate(-90)" text-anchor="middle" font-size="9.5">Height (km)</text>
<text transform="translate(196.8,34.9) scale(1,1.15)" text-anchor="middle" font-size="9.5">10</text>
<text transform="translate(444.5,34.9) scale(1,1.15)" text-anchor="middle" font-size="9.5">5</text>
<line x1="191" y1="45.7" x2="200" y2="45.7" stroke="#111" stroke-width="0.9"/>
<path d="M199.3 44.3 L203.2 45.7 L199.3 47.1 Z" fill="#111"/>
<line x1="439" y1="45.7" x2="448" y2="45.7" stroke="#111" stroke-width="0.9"/>
<path d="M447.3 44.3 L451.2 45.7 L447.3 47.1 Z" fill="#111"/>
<rect x="102.50" y="296.5" width="24.88" height="7.70" fill="#1d2c6c"/>
<rect x="127.08" y="296.5" width="24.88" height="7.70" fill="#2557a8"/>
<rect x="151.65" y="296.5" width="24.88" height="7.70" fill="#4b98d4"/>
<rect x="176.22" y="296.5" width="24.88" height="7.70" fill="#94d1f3"/>
<rect x="200.80" y="296.5" width="24.88" height="7.70" fill="#d3ecf9"/>
<rect x="225.38" y="296.5" width="24.88" height="7.70" fill="#ffffff"/>
<rect x="249.95" y="296.5" width="24.88" height="7.70" fill="#ffffff"/>
<rect x="274.52" y="296.5" width="24.88" height="7.70" fill="#fde99b"/>
<rect x="299.10" y="296.5" width="24.88" height="7.70" fill="#f8ae35"/>
<rect x="323.67" y="296.5" width="24.88" height="7.70" fill="#f0732c"/>
<rect x="348.25" y="296.5" width="24.88" height="7.70" fill="#d42b2b"/>
<rect x="372.82" y="296.5" width="24.88" height="7.70" fill="#961d20"/>
<line x1="127.08" y1="296.5" x2="127.08" y2="304.2" stroke="#666" stroke-width="0.4"/>
<line x1="151.65" y1="296.5" x2="151.65" y2="304.2" stroke="#666" stroke-width="0.4"/>
<line x1="176.22" y1="296.5" x2="176.22" y2="304.2" stroke="#666" stroke-width="0.4"/>
<line x1="200.80" y1="296.5" x2="200.80" y2="304.2" stroke="#666" stroke-width="0.4"/>
<line x1="225.38" y1="296.5" x2="225.38" y2="304.2" stroke="#666" stroke-width="0.4"/>
<line x1="249.95" y1="296.5" x2="249.95" y2="304.2" stroke="#666" stroke-width="0.4"/>
<line x1="274.52" y1="296.5" x2="274.52" y2="304.2" stroke="#666" stroke-width="0.4"/>
<line x1="299.10" y1="296.5" x2="299.10" y2="304.2" stroke="#666" stroke-width="0.4"/>
<line x1="323.67" y1="296.5" x2="323.67" y2="304.2" stroke="#666" stroke-width="0.4"/>
<line x1="348.25" y1="296.5" x2="348.25" y2="304.2" stroke="#666" stroke-width="0.4"/>
<line x1="372.82" y1="296.5" x2="372.82" y2="304.2" stroke="#666" stroke-width="0.4"/>
<rect x="102.5" y="296.5" width="294.90" height="7.70" fill="none" stroke="#555" stroke-width="0.5"/>
<text x="127.08" y="315.6" text-anchor="middle" font-weight="bold" font-size="12">-10</text>
<text x="151.65" y="315.6" text-anchor="middle" font-weight="bold" font-size="12">-8</text>
<text x="176.22" y="315.6" text-anchor="middle" font-weight="bold" font-size="12">-6</text>
<text x="200.80" y="315.6" text-anchor="middle" font-weight="bold" font-size="12">-4</text>
<text x="225.38" y="315.6" text-anchor="middle" font-weight="bold" font-size="12">-2</text>
<text x="249.95" y="315.6" text-anchor="middle" font-weight="bold" font-size="12">0</text>
<text x="274.52" y="315.6" text-anchor="middle" font-weight="bold" font-size="12">2</text>
<text x="299.10" y="315.6" text-anchor="middle" font-weight="bold" font-size="12">4</text>
<text x="323.67" y="315.6" text-anchor="middle" font-weight="bold" font-size="12">6</text>
<text x="348.25" y="315.6" text-anchor="middle" font-weight="bold" font-size="12">8</text>
<text x="372.82" y="315.6" text-anchor="middle" font-weight="bold" font-size="12">10</text>
<text x="408.6" y="305.6" font-weight="bold" font-size="11">hPa d<tspan font-size="6.5" dy="-4.8">-1</tspan></text>
</svg></body></html>
